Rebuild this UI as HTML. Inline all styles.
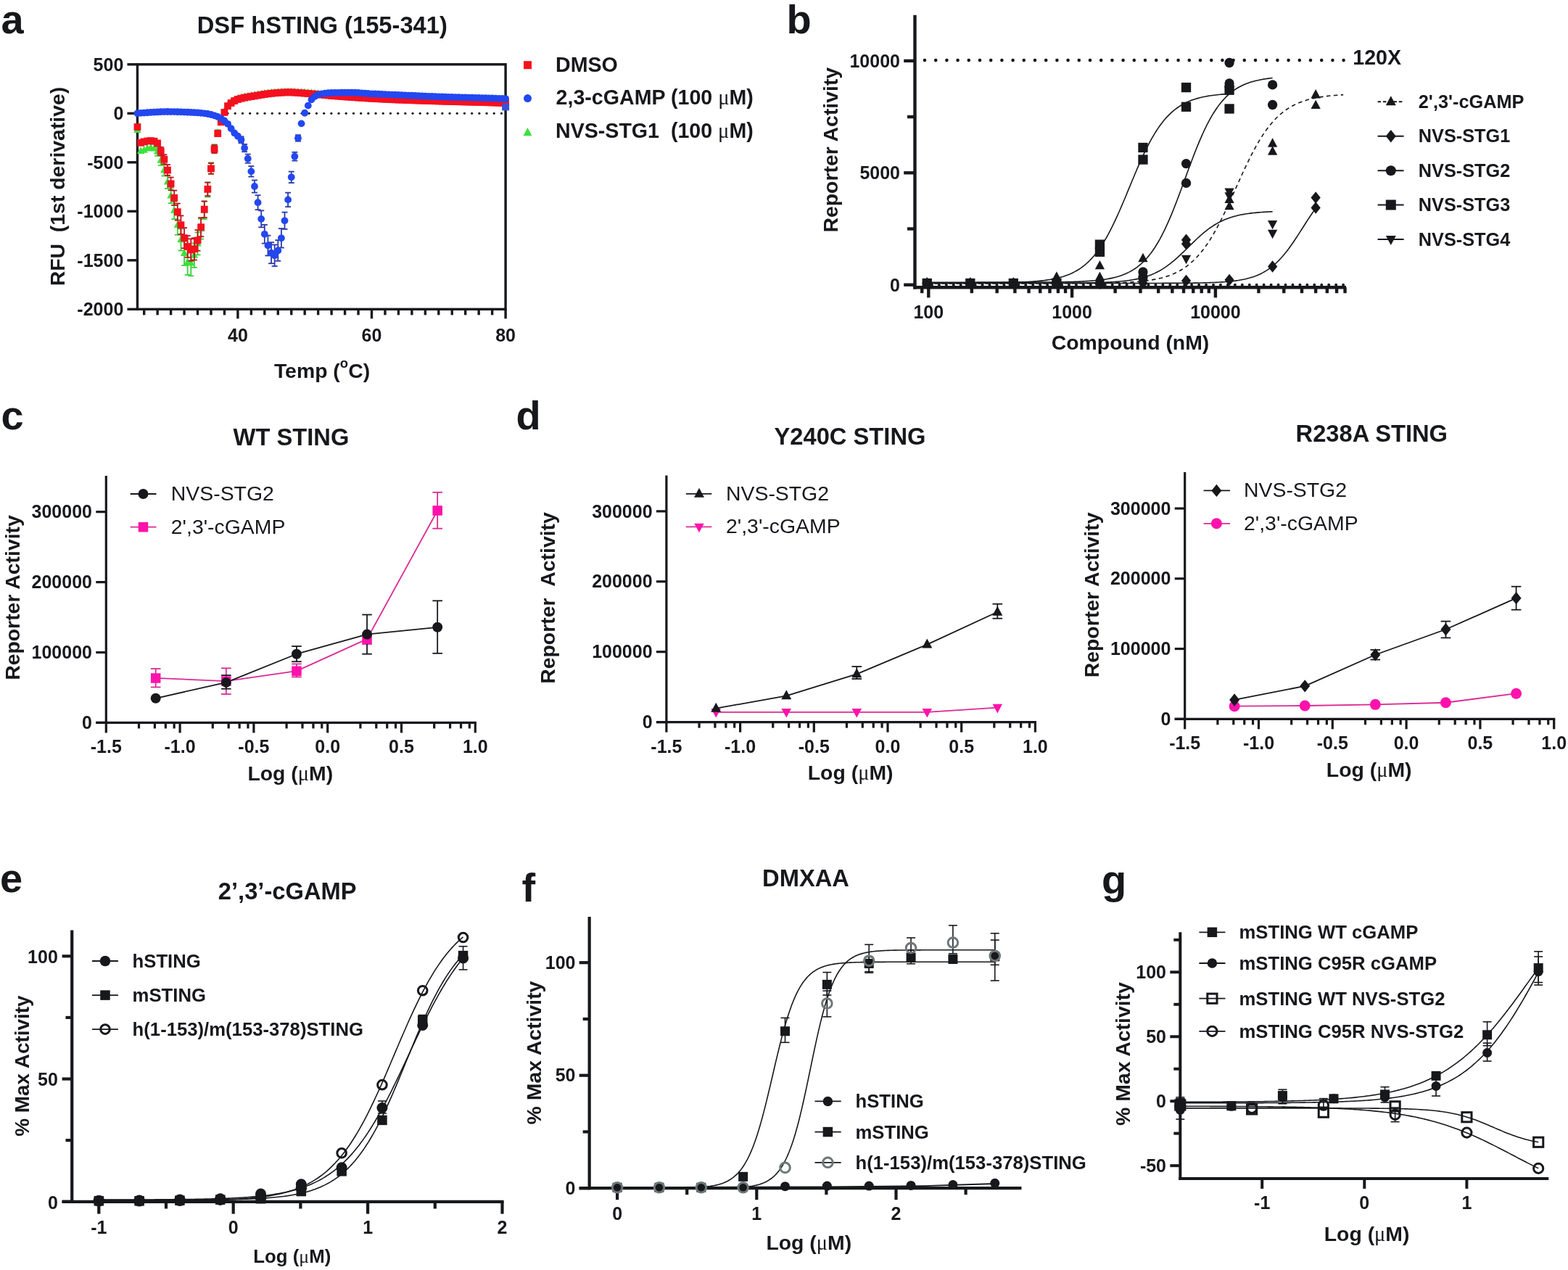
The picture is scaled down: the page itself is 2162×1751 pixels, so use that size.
<!DOCTYPE html>
<html><head><meta charset="utf-8"><title>Figure</title>
<style>html,body{margin:0;padding:0;background:#fff;}svg{display:block;}</style>
</head><body>
<svg width="2162" height="1751" viewBox="0 0 2162 1751" font-family="'Liberation Sans', Arial, Helvetica, sans-serif">
<rect width="2162" height="1751" fill="#fff"/>
<text x="1.5" y="45.5" font-size="56" font-weight="bold" text-anchor="start" fill="#17181c">a</text>
<text x="444.3" y="45.6" font-size="32.7" font-weight="bold" text-anchor="middle" fill="#17181c">DSF hSTING (155-341)</text>
<rect x="189.45" y="88.79" width="507.65" height="337.55" fill="none" stroke="#17181c" stroke-width="3.4"/>
<line x1="175.45" y1="88.79" x2="189.45" y2="88.79" stroke="#17181c" stroke-width="3.4" />
<text x="170.3" y="97.59" font-size="25" font-weight="bold" text-anchor="end" fill="#17181c">500</text>
<line x1="175.45" y1="156.3" x2="189.45" y2="156.3" stroke="#17181c" stroke-width="3.4" />
<text x="170.3" y="165.1" font-size="25" font-weight="bold" text-anchor="end" fill="#17181c">0</text>
<line x1="175.45" y1="223.81" x2="189.45" y2="223.81" stroke="#17181c" stroke-width="3.4" />
<text x="170.3" y="232.61" font-size="25" font-weight="bold" text-anchor="end" fill="#17181c">-500</text>
<line x1="175.45" y1="291.32" x2="189.45" y2="291.32" stroke="#17181c" stroke-width="3.4" />
<text x="170.3" y="300.12" font-size="25" font-weight="bold" text-anchor="end" fill="#17181c">-1000</text>
<line x1="175.45" y1="358.83" x2="189.45" y2="358.83" stroke="#17181c" stroke-width="3.4" />
<text x="170.3" y="367.63" font-size="25" font-weight="bold" text-anchor="end" fill="#17181c">-1500</text>
<line x1="175.45" y1="426.34" x2="189.45" y2="426.34" stroke="#17181c" stroke-width="3.4" />
<text x="170.3" y="435.14" font-size="25" font-weight="bold" text-anchor="end" fill="#17181c">-2000</text>
<line x1="198.68" y1="426.34" x2="198.68" y2="434.34" stroke="#17181c" stroke-width="3.4" />
<line x1="217.14" y1="426.34" x2="217.14" y2="434.34" stroke="#17181c" stroke-width="3.4" />
<line x1="235.6" y1="426.34" x2="235.6" y2="434.34" stroke="#17181c" stroke-width="3.4" />
<line x1="254.06" y1="426.34" x2="254.06" y2="434.34" stroke="#17181c" stroke-width="3.4" />
<line x1="272.52" y1="426.34" x2="272.52" y2="434.34" stroke="#17181c" stroke-width="3.4" />
<line x1="290.98" y1="426.34" x2="290.98" y2="434.34" stroke="#17181c" stroke-width="3.4" />
<line x1="309.44" y1="426.34" x2="309.44" y2="434.34" stroke="#17181c" stroke-width="3.4" />
<line x1="327.9" y1="426.34" x2="327.9" y2="439.34" stroke="#17181c" stroke-width="3.4" />
<line x1="346.36" y1="426.34" x2="346.36" y2="434.34" stroke="#17181c" stroke-width="3.4" />
<line x1="364.82" y1="426.34" x2="364.82" y2="434.34" stroke="#17181c" stroke-width="3.4" />
<line x1="383.28" y1="426.34" x2="383.28" y2="434.34" stroke="#17181c" stroke-width="3.4" />
<line x1="401.74" y1="426.34" x2="401.74" y2="434.34" stroke="#17181c" stroke-width="3.4" />
<line x1="420.2" y1="426.34" x2="420.2" y2="434.34" stroke="#17181c" stroke-width="3.4" />
<line x1="438.66" y1="426.34" x2="438.66" y2="434.34" stroke="#17181c" stroke-width="3.4" />
<line x1="457.12" y1="426.34" x2="457.12" y2="434.34" stroke="#17181c" stroke-width="3.4" />
<line x1="475.58" y1="426.34" x2="475.58" y2="434.34" stroke="#17181c" stroke-width="3.4" />
<line x1="494.04" y1="426.34" x2="494.04" y2="434.34" stroke="#17181c" stroke-width="3.4" />
<line x1="512.5" y1="426.34" x2="512.5" y2="439.34" stroke="#17181c" stroke-width="3.4" />
<line x1="530.96" y1="426.34" x2="530.96" y2="434.34" stroke="#17181c" stroke-width="3.4" />
<line x1="549.42" y1="426.34" x2="549.42" y2="434.34" stroke="#17181c" stroke-width="3.4" />
<line x1="567.88" y1="426.34" x2="567.88" y2="434.34" stroke="#17181c" stroke-width="3.4" />
<line x1="586.34" y1="426.34" x2="586.34" y2="434.34" stroke="#17181c" stroke-width="3.4" />
<line x1="604.8" y1="426.34" x2="604.8" y2="434.34" stroke="#17181c" stroke-width="3.4" />
<line x1="623.26" y1="426.34" x2="623.26" y2="434.34" stroke="#17181c" stroke-width="3.4" />
<line x1="641.72" y1="426.34" x2="641.72" y2="434.34" stroke="#17181c" stroke-width="3.4" />
<line x1="660.18" y1="426.34" x2="660.18" y2="434.34" stroke="#17181c" stroke-width="3.4" />
<line x1="678.64" y1="426.34" x2="678.64" y2="434.34" stroke="#17181c" stroke-width="3.4" />
<line x1="697.1" y1="426.34" x2="697.1" y2="439.34" stroke="#17181c" stroke-width="3.4" />
<text x="327.9" y="470.8" font-size="25" font-weight="bold" text-anchor="middle" fill="#17181c">40</text>
<text x="512.5" y="470.8" font-size="25" font-weight="bold" text-anchor="middle" fill="#17181c">60</text>
<text x="697.1" y="470.8" font-size="25" font-weight="bold" text-anchor="middle" fill="#17181c">80</text>
<text x="444" y="521" font-size="28.4" font-weight="bold" text-anchor="middle" fill="#17181c">Temp (<tspan dy="-14.5" font-size="18.5">o</tspan><tspan dy="14.5">C)</tspan></text>
<text x="89.4" y="257" font-size="28.4" font-weight="bold" text-anchor="middle" fill="#17181c" transform="rotate(-90 89.4 257)">RFU&#160;&#160;(1st derivative)</text>
<circle cx="314.05" cy="156.3" r="1.6" fill="#17181c"/>
<circle cx="324.25" cy="156.3" r="1.6" fill="#17181c"/>
<circle cx="334.45" cy="156.3" r="1.6" fill="#17181c"/>
<circle cx="344.65" cy="156.3" r="1.6" fill="#17181c"/>
<circle cx="354.85" cy="156.3" r="1.6" fill="#17181c"/>
<circle cx="365.05" cy="156.3" r="1.6" fill="#17181c"/>
<circle cx="375.25" cy="156.3" r="1.6" fill="#17181c"/>
<circle cx="385.45" cy="156.3" r="1.6" fill="#17181c"/>
<circle cx="395.65" cy="156.3" r="1.6" fill="#17181c"/>
<circle cx="405.85" cy="156.3" r="1.6" fill="#17181c"/>
<circle cx="416.05" cy="156.3" r="1.6" fill="#17181c"/>
<circle cx="426.25" cy="156.3" r="1.6" fill="#17181c"/>
<circle cx="436.45" cy="156.3" r="1.6" fill="#17181c"/>
<circle cx="446.65" cy="156.3" r="1.6" fill="#17181c"/>
<circle cx="456.85" cy="156.3" r="1.6" fill="#17181c"/>
<circle cx="467.05" cy="156.3" r="1.6" fill="#17181c"/>
<circle cx="477.25" cy="156.3" r="1.6" fill="#17181c"/>
<circle cx="487.45" cy="156.3" r="1.6" fill="#17181c"/>
<circle cx="497.65" cy="156.3" r="1.6" fill="#17181c"/>
<circle cx="507.85" cy="156.3" r="1.6" fill="#17181c"/>
<circle cx="518.05" cy="156.3" r="1.6" fill="#17181c"/>
<circle cx="528.25" cy="156.3" r="1.6" fill="#17181c"/>
<circle cx="538.45" cy="156.3" r="1.6" fill="#17181c"/>
<circle cx="548.65" cy="156.3" r="1.6" fill="#17181c"/>
<circle cx="558.85" cy="156.3" r="1.6" fill="#17181c"/>
<circle cx="569.05" cy="156.3" r="1.6" fill="#17181c"/>
<circle cx="579.25" cy="156.3" r="1.6" fill="#17181c"/>
<circle cx="589.45" cy="156.3" r="1.6" fill="#17181c"/>
<circle cx="599.65" cy="156.3" r="1.6" fill="#17181c"/>
<circle cx="609.85" cy="156.3" r="1.6" fill="#17181c"/>
<circle cx="620.05" cy="156.3" r="1.6" fill="#17181c"/>
<circle cx="630.25" cy="156.3" r="1.6" fill="#17181c"/>
<circle cx="640.45" cy="156.3" r="1.6" fill="#17181c"/>
<circle cx="650.65" cy="156.3" r="1.6" fill="#17181c"/>
<circle cx="660.85" cy="156.3" r="1.6" fill="#17181c"/>
<circle cx="671.05" cy="156.3" r="1.6" fill="#17181c"/>
<circle cx="681.25" cy="156.3" r="1.6" fill="#17181c"/>
<circle cx="691.45" cy="156.3" r="1.6" fill="#17181c"/>
<line x1="217.14" y1="202.98" x2="217.14" y2="214.93" stroke="#3bd03b" stroke-width="1.8" />
<line x1="213.14" y1="202.98" x2="221.14" y2="202.98" stroke="#3bd03b" stroke-width="1.8" />
<line x1="213.14" y1="214.93" x2="221.14" y2="214.93" stroke="#3bd03b" stroke-width="1.8" />
<line x1="221.75" y1="214.22" x2="221.75" y2="228" stroke="#3bd03b" stroke-width="1.8" />
<line x1="217.75" y1="214.22" x2="225.75" y2="214.22" stroke="#3bd03b" stroke-width="1.8" />
<line x1="217.75" y1="228" x2="225.75" y2="228" stroke="#3bd03b" stroke-width="1.8" />
<line x1="226.37" y1="226.71" x2="226.37" y2="242.51" stroke="#3bd03b" stroke-width="1.8" />
<line x1="222.37" y1="226.71" x2="230.37" y2="226.71" stroke="#3bd03b" stroke-width="1.8" />
<line x1="222.37" y1="242.51" x2="230.37" y2="242.51" stroke="#3bd03b" stroke-width="1.8" />
<line x1="230.98" y1="241.7" x2="230.98" y2="259.93" stroke="#3bd03b" stroke-width="1.8" />
<line x1="226.98" y1="241.7" x2="234.98" y2="241.7" stroke="#3bd03b" stroke-width="1.8" />
<line x1="226.98" y1="259.93" x2="234.98" y2="259.93" stroke="#3bd03b" stroke-width="1.8" />
<line x1="235.6" y1="259.19" x2="235.6" y2="280.25" stroke="#3bd03b" stroke-width="1.8" />
<line x1="231.6" y1="259.19" x2="239.6" y2="259.19" stroke="#3bd03b" stroke-width="1.8" />
<line x1="231.6" y1="280.25" x2="239.6" y2="280.25" stroke="#3bd03b" stroke-width="1.8" />
<line x1="240.21" y1="277.92" x2="240.21" y2="302.02" stroke="#3bd03b" stroke-width="1.8" />
<line x1="236.21" y1="277.92" x2="244.21" y2="277.92" stroke="#3bd03b" stroke-width="1.8" />
<line x1="236.21" y1="302.02" x2="244.21" y2="302.02" stroke="#3bd03b" stroke-width="1.8" />
<line x1="244.83" y1="296.65" x2="244.83" y2="323.79" stroke="#3bd03b" stroke-width="1.8" />
<line x1="240.83" y1="296.65" x2="248.83" y2="296.65" stroke="#3bd03b" stroke-width="1.8" />
<line x1="240.83" y1="323.79" x2="248.83" y2="323.79" stroke="#3bd03b" stroke-width="1.8" />
<line x1="249.44" y1="315.39" x2="249.44" y2="345.56" stroke="#3bd03b" stroke-width="1.8" />
<line x1="245.44" y1="315.39" x2="253.44" y2="315.39" stroke="#3bd03b" stroke-width="1.8" />
<line x1="245.44" y1="345.56" x2="253.44" y2="345.56" stroke="#3bd03b" stroke-width="1.8" />
<line x1="254.06" y1="332.87" x2="254.06" y2="365.88" stroke="#3bd03b" stroke-width="1.8" />
<line x1="250.06" y1="332.87" x2="258.06" y2="332.87" stroke="#3bd03b" stroke-width="1.8" />
<line x1="250.06" y1="365.88" x2="258.06" y2="365.88" stroke="#3bd03b" stroke-width="1.8" />
<line x1="258.67" y1="344.11" x2="258.67" y2="378.95" stroke="#3bd03b" stroke-width="1.8" />
<line x1="254.67" y1="344.11" x2="262.67" y2="344.11" stroke="#3bd03b" stroke-width="1.8" />
<line x1="254.67" y1="378.95" x2="262.67" y2="378.95" stroke="#3bd03b" stroke-width="1.8" />
<line x1="263.29" y1="345.36" x2="263.29" y2="380.4" stroke="#3bd03b" stroke-width="1.8" />
<line x1="259.29" y1="345.36" x2="267.29" y2="345.36" stroke="#3bd03b" stroke-width="1.8" />
<line x1="259.29" y1="380.4" x2="267.29" y2="380.4" stroke="#3bd03b" stroke-width="1.8" />
<line x1="267.9" y1="335.37" x2="267.9" y2="368.79" stroke="#3bd03b" stroke-width="1.8" />
<line x1="263.9" y1="335.37" x2="271.9" y2="335.37" stroke="#3bd03b" stroke-width="1.8" />
<line x1="263.9" y1="368.79" x2="271.9" y2="368.79" stroke="#3bd03b" stroke-width="1.8" />
<line x1="272.52" y1="320.38" x2="272.52" y2="351.37" stroke="#3bd03b" stroke-width="1.8" />
<line x1="268.52" y1="320.38" x2="276.52" y2="320.38" stroke="#3bd03b" stroke-width="1.8" />
<line x1="268.52" y1="351.37" x2="276.52" y2="351.37" stroke="#3bd03b" stroke-width="1.8" />
<line x1="277.13" y1="301.65" x2="277.13" y2="329.6" stroke="#3bd03b" stroke-width="1.8" />
<line x1="273.13" y1="301.65" x2="281.13" y2="301.65" stroke="#3bd03b" stroke-width="1.8" />
<line x1="273.13" y1="329.6" x2="281.13" y2="329.6" stroke="#3bd03b" stroke-width="1.8" />
<line x1="281.75" y1="277.92" x2="281.75" y2="302.02" stroke="#3bd03b" stroke-width="1.8" />
<line x1="277.75" y1="277.92" x2="285.75" y2="277.92" stroke="#3bd03b" stroke-width="1.8" />
<line x1="277.75" y1="302.02" x2="285.75" y2="302.02" stroke="#3bd03b" stroke-width="1.8" />
<line x1="286.36" y1="251.69" x2="286.36" y2="271.54" stroke="#3bd03b" stroke-width="1.8" />
<line x1="282.36" y1="251.69" x2="290.36" y2="251.69" stroke="#3bd03b" stroke-width="1.8" />
<line x1="282.36" y1="271.54" x2="290.36" y2="271.54" stroke="#3bd03b" stroke-width="1.8" />
<line x1="290.98" y1="224.22" x2="290.98" y2="239.61" stroke="#3bd03b" stroke-width="1.8" />
<line x1="286.98" y1="224.22" x2="294.98" y2="224.22" stroke="#3bd03b" stroke-width="1.8" />
<line x1="286.98" y1="239.61" x2="294.98" y2="239.61" stroke="#3bd03b" stroke-width="1.8" />
<line x1="295.59" y1="199.24" x2="295.59" y2="210.58" stroke="#3bd03b" stroke-width="1.8" />
<line x1="291.59" y1="199.24" x2="299.59" y2="199.24" stroke="#3bd03b" stroke-width="1.8" />
<line x1="291.59" y1="210.58" x2="299.59" y2="210.58" stroke="#3bd03b" stroke-width="1.8" />
<line x1="300.21" y1="179.25" x2="300.21" y2="187.35" stroke="#3bd03b" stroke-width="1.8" />
<line x1="296.21" y1="179.25" x2="304.21" y2="179.25" stroke="#3bd03b" stroke-width="1.8" />
<line x1="296.21" y1="187.35" x2="304.21" y2="187.35" stroke="#3bd03b" stroke-width="1.8" />
<polygon points="189.45,173.2 194.7,182.96 184.2,182.96" fill="#3be23b"/>
<polygon points="194.06,202.23 199.31,211.99 188.81,211.99" fill="#3be23b"/>
<polygon points="198.68,200.88 203.93,210.64 193.43,210.64" fill="#3be23b"/>
<polygon points="203.29,198.85 208.54,208.62 198.04,208.62" fill="#3be23b"/>
<polygon points="207.91,197.77 213.16,207.54 202.66,207.54" fill="#3be23b"/>
<polygon points="212.52,198.85 217.77,208.62 207.27,208.62" fill="#3be23b"/>
<polygon points="217.14,202.9 222.39,212.67 211.89,212.67" fill="#3be23b"/>
<polygon points="221.75,215.06 227,224.82 216.5,224.82" fill="#3be23b"/>
<polygon points="226.37,228.56 231.62,238.32 221.12,238.32" fill="#3be23b"/>
<polygon points="230.98,244.76 236.23,254.52 225.73,254.52" fill="#3be23b"/>
<polygon points="235.6,263.66 240.85,273.43 230.35,273.43" fill="#3be23b"/>
<polygon points="240.21,283.92 245.46,293.68 234.96,293.68" fill="#3be23b"/>
<polygon points="244.83,304.17 250.08,313.93 239.58,313.93" fill="#3be23b"/>
<polygon points="249.44,324.42 254.69,334.19 244.19,334.19" fill="#3be23b"/>
<polygon points="254.06,343.32 259.31,353.09 248.81,353.09" fill="#3be23b"/>
<polygon points="258.67,355.48 263.92,365.24 253.42,365.24" fill="#3be23b"/>
<polygon points="263.29,356.83 268.54,366.59 258.04,366.59" fill="#3be23b"/>
<polygon points="267.9,346.02 273.15,355.79 262.65,355.79" fill="#3be23b"/>
<polygon points="272.52,329.82 277.77,339.59 267.27,339.59" fill="#3be23b"/>
<polygon points="277.13,309.57 282.38,319.33 271.88,319.33" fill="#3be23b"/>
<polygon points="281.75,283.92 287,293.68 276.5,293.68" fill="#3be23b"/>
<polygon points="286.36,255.56 291.61,265.33 281.11,265.33" fill="#3be23b"/>
<polygon points="290.98,225.86 296.23,235.62 285.73,235.62" fill="#3be23b"/>
<polygon points="295.59,198.85 300.84,208.62 290.34,208.62" fill="#3be23b"/>
<polygon points="300.21,177.25 305.46,187.01 294.96,187.01" fill="#3be23b"/>
<polygon points="304.82,161.05 310.07,170.81 299.57,170.81" fill="#3be23b"/>
<polygon points="309.44,147.55 314.69,157.31 304.19,157.31" fill="#3be23b"/>
<polygon points="314.05,138.77 319.3,148.53 308.8,148.53" fill="#3be23b"/>
<polygon points="318.67,134.72 323.92,144.48 313.42,144.48" fill="#3be23b"/>
<polygon points="323.28,131.95 328.53,141.71 318.03,141.71" fill="#3be23b"/>
<polygon points="327.9,129.99 333.15,139.76 322.65,139.76" fill="#3be23b"/>
<polygon points="332.51,128.68 337.76,138.45 327.26,138.45" fill="#3be23b"/>
<polygon points="337.13,127.61 342.38,137.38 331.88,137.38" fill="#3be23b"/>
<polygon points="341.75,126.71 347,136.48 336.5,136.48" fill="#3be23b"/>
<polygon points="346.36,125.92 351.61,135.68 341.11,135.68" fill="#3be23b"/>
<polygon points="350.97,125.17 356.22,134.93 345.72,134.93" fill="#3be23b"/>
<polygon points="355.59,124.4 360.84,134.16 350.34,134.16" fill="#3be23b"/>
<polygon points="360.2,123.63 365.45,133.39 354.95,133.39" fill="#3be23b"/>
<polygon points="364.82,122.9 370.07,132.67 359.57,132.67" fill="#3be23b"/>
<polygon points="369.44,122.27 374.69,132.03 364.19,132.03" fill="#3be23b"/>
<polygon points="374.05,121.77 379.3,131.54 368.8,131.54" fill="#3be23b"/>
<polygon points="378.66,121.42 383.91,131.19 373.41,131.19" fill="#3be23b"/>
<polygon points="383.28,121.1 388.53,130.87 378.03,130.87" fill="#3be23b"/>
<polygon points="387.89,120.83 393.14,130.6 382.64,130.6" fill="#3be23b"/>
<polygon points="392.51,120.64 397.76,130.4 387.26,130.4" fill="#3be23b"/>
<polygon points="397.12,120.54 402.38,130.31 391.88,130.31" fill="#3be23b"/>
<polygon points="401.74,120.59 406.99,130.36 396.49,130.36" fill="#3be23b"/>
<polygon points="406.35,120.76 411.6,130.53 401.1,130.53" fill="#3be23b"/>
<polygon points="410.97,121.02 416.22,130.79 405.72,130.79" fill="#3be23b"/>
<polygon points="415.58,121.32 420.83,131.09 410.33,131.09" fill="#3be23b"/>
<polygon points="420.2,121.62 425.45,131.39 414.95,131.39" fill="#3be23b"/>
<polygon points="424.81,121.93 430.06,131.7 419.56,131.7" fill="#3be23b"/>
<polygon points="429.43,122.29 434.68,132.06 424.18,132.06" fill="#3be23b"/>
<polygon points="434.04,122.69 439.29,132.46 428.79,132.46" fill="#3be23b"/>
<polygon points="438.66,123.13 443.91,132.89 433.41,132.89" fill="#3be23b"/>
<polygon points="443.27,123.57 448.52,133.34 438.02,133.34" fill="#3be23b"/>
<polygon points="447.89,124.03 453.14,133.79 442.64,133.79" fill="#3be23b"/>
<polygon points="452.5,124.48 457.75,134.24 447.25,134.24" fill="#3be23b"/>
<polygon points="457.12,124.91 462.37,134.67 451.87,134.67" fill="#3be23b"/>
<polygon points="461.74,125.31 466.99,135.07 456.49,135.07" fill="#3be23b"/>
<polygon points="466.35,125.67 471.6,135.44 461.1,135.44" fill="#3be23b"/>
<polygon points="470.96,126.01 476.21,135.77 465.71,135.77" fill="#3be23b"/>
<polygon points="475.58,126.34 480.83,136.1 470.33,136.1" fill="#3be23b"/>
<polygon points="480.19,126.66 485.44,136.42 474.94,136.42" fill="#3be23b"/>
<polygon points="484.81,126.97 490.06,136.74 479.56,136.74" fill="#3be23b"/>
<polygon points="489.42,127.28 494.67,137.05 484.17,137.05" fill="#3be23b"/>
<polygon points="494.04,127.59 499.29,137.35 488.79,137.35" fill="#3be23b"/>
<polygon points="498.65,127.88 503.9,137.64 493.4,137.64" fill="#3be23b"/>
<polygon points="503.27,128.17 508.52,137.93 498.02,137.93" fill="#3be23b"/>
<polygon points="507.88,128.45 513.13,138.21 502.63,138.21" fill="#3be23b"/>
<polygon points="512.5,128.72 517.75,138.48 507.25,138.48" fill="#3be23b"/>
<polygon points="517.12,128.98 522.37,138.75 511.87,138.75" fill="#3be23b"/>
<polygon points="521.73,129.24 526.98,139 516.48,139" fill="#3be23b"/>
<polygon points="526.35,129.48 531.6,139.25 521.1,139.25" fill="#3be23b"/>
<polygon points="530.96,129.72 536.21,139.48 525.71,139.48" fill="#3be23b"/>
<polygon points="535.58,129.95 540.83,139.71 530.33,139.71" fill="#3be23b"/>
<polygon points="540.19,130.17 545.44,139.93 534.94,139.93" fill="#3be23b"/>
<polygon points="544.8,130.38 550.05,140.15 539.55,140.15" fill="#3be23b"/>
<polygon points="549.42,130.59 554.67,140.36 544.17,140.36" fill="#3be23b"/>
<polygon points="554.03,130.79 559.28,140.56 548.78,140.56" fill="#3be23b"/>
<polygon points="558.65,130.99 563.9,140.76 553.4,140.76" fill="#3be23b"/>
<polygon points="563.26,131.18 568.51,140.95 558.01,140.95" fill="#3be23b"/>
<polygon points="567.88,131.37 573.13,141.14 562.63,141.14" fill="#3be23b"/>
<polygon points="572.5,131.55 577.75,141.32 567.25,141.32" fill="#3be23b"/>
<polygon points="577.11,131.73 582.36,141.5 571.86,141.5" fill="#3be23b"/>
<polygon points="581.73,131.9 586.98,141.67 576.48,141.67" fill="#3be23b"/>
<polygon points="586.34,132.07 591.59,141.83 581.09,141.83" fill="#3be23b"/>
<polygon points="590.95,132.23 596.2,142 585.7,142" fill="#3be23b"/>
<polygon points="595.57,132.39 600.82,142.15 590.32,142.15" fill="#3be23b"/>
<polygon points="600.18,132.54 605.43,142.31 594.93,142.31" fill="#3be23b"/>
<polygon points="604.8,132.69 610.05,142.46 599.55,142.46" fill="#3be23b"/>
<polygon points="609.41,132.84 614.66,142.6 604.16,142.6" fill="#3be23b"/>
<polygon points="614.03,132.98 619.28,142.75 608.78,142.75" fill="#3be23b"/>
<polygon points="618.64,133.13 623.89,142.89 613.39,142.89" fill="#3be23b"/>
<polygon points="623.26,133.27 628.51,143.03 618.01,143.03" fill="#3be23b"/>
<polygon points="627.88,133.41 633.12,143.17 622.62,143.17" fill="#3be23b"/>
<polygon points="632.49,133.54 637.74,143.31 627.24,143.31" fill="#3be23b"/>
<polygon points="637.11,133.68 642.36,143.44 631.86,143.44" fill="#3be23b"/>
<polygon points="641.72,133.81 646.97,143.57 636.47,143.57" fill="#3be23b"/>
<polygon points="646.34,133.94 651.59,143.7 641.09,143.7" fill="#3be23b"/>
<polygon points="650.95,134.06 656.2,143.83 645.7,143.83" fill="#3be23b"/>
<polygon points="655.57,134.18 660.82,143.95 650.32,143.95" fill="#3be23b"/>
<polygon points="660.18,134.3 665.43,144.07 654.93,144.07" fill="#3be23b"/>
<polygon points="664.8,134.42 670.05,144.18 659.55,144.18" fill="#3be23b"/>
<polygon points="669.41,134.53 674.66,144.29 664.16,144.29" fill="#3be23b"/>
<polygon points="674.02,134.64 679.27,144.4 668.77,144.4" fill="#3be23b"/>
<polygon points="678.64,134.74 683.89,144.51 673.39,144.51" fill="#3be23b"/>
<polygon points="683.25,134.84 688.5,144.61 678,144.61" fill="#3be23b"/>
<polygon points="687.87,134.94 693.12,144.71 682.62,144.71" fill="#3be23b"/>
<polygon points="692.49,135.03 697.74,144.8 687.24,144.8" fill="#3be23b"/>
<polygon points="697.1,135.12 702.35,144.89 691.85,144.89" fill="#3be23b"/>
<line x1="221.75" y1="202.87" x2="221.75" y2="214.24" stroke="#b8141e" stroke-width="1.8" />
<line x1="217.75" y1="202.87" x2="225.75" y2="202.87" stroke="#b8141e" stroke-width="1.8" />
<line x1="217.75" y1="214.24" x2="225.75" y2="214.24" stroke="#b8141e" stroke-width="1.8" />
<line x1="226.37" y1="213.29" x2="226.37" y2="226.23" stroke="#b8141e" stroke-width="1.8" />
<line x1="222.37" y1="213.29" x2="230.37" y2="213.29" stroke="#b8141e" stroke-width="1.8" />
<line x1="222.37" y1="226.23" x2="230.37" y2="226.23" stroke="#b8141e" stroke-width="1.8" />
<line x1="230.98" y1="227.1" x2="230.98" y2="242.12" stroke="#b8141e" stroke-width="1.8" />
<line x1="226.98" y1="227.1" x2="234.98" y2="227.1" stroke="#b8141e" stroke-width="1.8" />
<line x1="226.98" y1="242.12" x2="234.98" y2="242.12" stroke="#b8141e" stroke-width="1.8" />
<line x1="235.6" y1="244.56" x2="235.6" y2="262.2" stroke="#b8141e" stroke-width="1.8" />
<line x1="231.6" y1="244.56" x2="239.6" y2="244.56" stroke="#b8141e" stroke-width="1.8" />
<line x1="231.6" y1="262.2" x2="239.6" y2="262.2" stroke="#b8141e" stroke-width="1.8" />
<line x1="240.21" y1="262.64" x2="240.21" y2="283" stroke="#b8141e" stroke-width="1.8" />
<line x1="236.21" y1="262.64" x2="244.21" y2="262.64" stroke="#b8141e" stroke-width="1.8" />
<line x1="236.21" y1="283" x2="244.21" y2="283" stroke="#b8141e" stroke-width="1.8" />
<line x1="244.83" y1="280.6" x2="244.83" y2="303.66" stroke="#b8141e" stroke-width="1.8" />
<line x1="240.83" y1="280.6" x2="248.83" y2="280.6" stroke="#b8141e" stroke-width="1.8" />
<line x1="240.83" y1="303.66" x2="248.83" y2="303.66" stroke="#b8141e" stroke-width="1.8" />
<line x1="249.44" y1="297.42" x2="249.44" y2="323.02" stroke="#b8141e" stroke-width="1.8" />
<line x1="245.44" y1="297.42" x2="253.44" y2="297.42" stroke="#b8141e" stroke-width="1.8" />
<line x1="245.44" y1="323.02" x2="253.44" y2="323.02" stroke="#b8141e" stroke-width="1.8" />
<line x1="254.06" y1="314.12" x2="254.06" y2="342.24" stroke="#b8141e" stroke-width="1.8" />
<line x1="250.06" y1="314.12" x2="258.06" y2="314.12" stroke="#b8141e" stroke-width="1.8" />
<line x1="250.06" y1="342.24" x2="258.06" y2="342.24" stroke="#b8141e" stroke-width="1.8" />
<line x1="258.67" y1="325.05" x2="258.67" y2="354.81" stroke="#b8141e" stroke-width="1.8" />
<line x1="254.67" y1="325.05" x2="262.67" y2="325.05" stroke="#b8141e" stroke-width="1.8" />
<line x1="254.67" y1="354.81" x2="262.67" y2="354.81" stroke="#b8141e" stroke-width="1.8" />
<line x1="263.29" y1="329.32" x2="263.29" y2="359.72" stroke="#b8141e" stroke-width="1.8" />
<line x1="259.29" y1="329.32" x2="267.29" y2="329.32" stroke="#b8141e" stroke-width="1.8" />
<line x1="259.29" y1="359.72" x2="267.29" y2="359.72" stroke="#b8141e" stroke-width="1.8" />
<line x1="267.9" y1="328.19" x2="267.9" y2="358.42" stroke="#b8141e" stroke-width="1.8" />
<line x1="263.9" y1="328.19" x2="271.9" y2="328.19" stroke="#b8141e" stroke-width="1.8" />
<line x1="263.9" y1="358.42" x2="271.9" y2="358.42" stroke="#b8141e" stroke-width="1.8" />
<line x1="272.52" y1="317.14" x2="272.52" y2="345.7" stroke="#b8141e" stroke-width="1.8" />
<line x1="268.52" y1="317.14" x2="276.52" y2="317.14" stroke="#b8141e" stroke-width="1.8" />
<line x1="268.52" y1="345.7" x2="276.52" y2="345.7" stroke="#b8141e" stroke-width="1.8" />
<line x1="277.13" y1="300.19" x2="277.13" y2="326.2" stroke="#b8141e" stroke-width="1.8" />
<line x1="273.13" y1="300.19" x2="281.13" y2="300.19" stroke="#b8141e" stroke-width="1.8" />
<line x1="273.13" y1="326.2" x2="281.13" y2="326.2" stroke="#b8141e" stroke-width="1.8" />
<line x1="281.75" y1="277.33" x2="281.75" y2="299.91" stroke="#b8141e" stroke-width="1.8" />
<line x1="277.75" y1="277.33" x2="285.75" y2="277.33" stroke="#b8141e" stroke-width="1.8" />
<line x1="277.75" y1="299.91" x2="285.75" y2="299.91" stroke="#b8141e" stroke-width="1.8" />
<line x1="286.36" y1="251.46" x2="286.36" y2="270.15" stroke="#b8141e" stroke-width="1.8" />
<line x1="282.36" y1="251.46" x2="290.36" y2="251.46" stroke="#b8141e" stroke-width="1.8" />
<line x1="282.36" y1="270.15" x2="290.36" y2="270.15" stroke="#b8141e" stroke-width="1.8" />
<line x1="290.98" y1="225.1" x2="290.98" y2="239.81" stroke="#b8141e" stroke-width="1.8" />
<line x1="286.98" y1="225.1" x2="294.98" y2="225.1" stroke="#b8141e" stroke-width="1.8" />
<line x1="286.98" y1="239.81" x2="294.98" y2="239.81" stroke="#b8141e" stroke-width="1.8" />
<line x1="295.59" y1="200.11" x2="295.59" y2="211.06" stroke="#b8141e" stroke-width="1.8" />
<line x1="291.59" y1="200.11" x2="299.59" y2="200.11" stroke="#b8141e" stroke-width="1.8" />
<line x1="291.59" y1="211.06" x2="299.59" y2="211.06" stroke="#b8141e" stroke-width="1.8" />
<line x1="300.21" y1="180.14" x2="300.21" y2="188.09" stroke="#b8141e" stroke-width="1.8" />
<line x1="296.21" y1="180.14" x2="304.21" y2="180.14" stroke="#b8141e" stroke-width="1.8" />
<line x1="296.21" y1="188.09" x2="304.21" y2="188.09" stroke="#b8141e" stroke-width="1.8" />
<rect x="184.55" y="170.17" width="9.8" height="9.8" fill="#f5101f"/>
<rect x="189.16" y="191.91" width="9.8" height="9.8" fill="#f5101f"/>
<rect x="193.78" y="190.56" width="9.8" height="9.8" fill="#f5101f"/>
<rect x="198.39" y="189.61" width="9.8" height="9.8" fill="#f5101f"/>
<rect x="203.01" y="189.21" width="9.8" height="9.8" fill="#f5101f"/>
<rect x="207.62" y="189.88" width="9.8" height="9.8" fill="#f5101f"/>
<rect x="212.24" y="192.58" width="9.8" height="9.8" fill="#f5101f"/>
<rect x="216.85" y="203.65" width="9.8" height="9.8" fill="#f5101f"/>
<rect x="221.47" y="214.86" width="9.8" height="9.8" fill="#f5101f"/>
<rect x="226.08" y="229.71" width="9.8" height="9.8" fill="#f5101f"/>
<rect x="230.7" y="248.48" width="9.8" height="9.8" fill="#f5101f"/>
<rect x="235.31" y="267.92" width="9.8" height="9.8" fill="#f5101f"/>
<rect x="239.93" y="287.23" width="9.8" height="9.8" fill="#f5101f"/>
<rect x="244.54" y="305.32" width="9.8" height="9.8" fill="#f5101f"/>
<rect x="249.16" y="323.28" width="9.8" height="9.8" fill="#f5101f"/>
<rect x="253.77" y="335.03" width="9.8" height="9.8" fill="#f5101f"/>
<rect x="258.39" y="339.62" width="9.8" height="9.8" fill="#f5101f"/>
<rect x="263" y="338.4" width="9.8" height="9.8" fill="#f5101f"/>
<rect x="267.62" y="326.52" width="9.8" height="9.8" fill="#f5101f"/>
<rect x="272.24" y="308.29" width="9.8" height="9.8" fill="#f5101f"/>
<rect x="276.85" y="283.72" width="9.8" height="9.8" fill="#f5101f"/>
<rect x="281.46" y="255.91" width="9.8" height="9.8" fill="#f5101f"/>
<rect x="286.08" y="227.55" width="9.8" height="9.8" fill="#f5101f"/>
<rect x="290.69" y="200.68" width="9.8" height="9.8" fill="#f5101f"/>
<rect x="295.31" y="179.21" width="9.8" height="9.8" fill="#f5101f"/>
<rect x="299.93" y="163.42" width="9.8" height="9.8" fill="#f5101f"/>
<rect x="304.54" y="150.05" width="9.8" height="9.8" fill="#f5101f"/>
<rect x="309.15" y="141.27" width="9.8" height="9.8" fill="#f5101f"/>
<rect x="313.77" y="137.09" width="9.8" height="9.8" fill="#f5101f"/>
<rect x="318.38" y="134.15" width="9.8" height="9.8" fill="#f5101f"/>
<rect x="323" y="132.09" width="9.8" height="9.8" fill="#f5101f"/>
<rect x="327.62" y="130.79" width="9.8" height="9.8" fill="#f5101f"/>
<rect x="332.23" y="129.76" width="9.8" height="9.8" fill="#f5101f"/>
<rect x="336.85" y="128.9" width="9.8" height="9.8" fill="#f5101f"/>
<rect x="341.46" y="128.14" width="9.8" height="9.8" fill="#f5101f"/>
<rect x="346.07" y="127.4" width="9.8" height="9.8" fill="#f5101f"/>
<rect x="350.69" y="126.63" width="9.8" height="9.8" fill="#f5101f"/>
<rect x="355.31" y="125.84" width="9.8" height="9.8" fill="#f5101f"/>
<rect x="359.92" y="125.1" width="9.8" height="9.8" fill="#f5101f"/>
<rect x="364.54" y="124.43" width="9.8" height="9.8" fill="#f5101f"/>
<rect x="369.15" y="123.89" width="9.8" height="9.8" fill="#f5101f"/>
<rect x="373.76" y="123.48" width="9.8" height="9.8" fill="#f5101f"/>
<rect x="378.38" y="123.09" width="9.8" height="9.8" fill="#f5101f"/>
<rect x="383" y="122.75" width="9.8" height="9.8" fill="#f5101f"/>
<rect x="387.61" y="122.49" width="9.8" height="9.8" fill="#f5101f"/>
<rect x="392.23" y="122.37" width="9.8" height="9.8" fill="#f5101f"/>
<rect x="396.84" y="122.43" width="9.8" height="9.8" fill="#f5101f"/>
<rect x="401.45" y="122.66" width="9.8" height="9.8" fill="#f5101f"/>
<rect x="406.07" y="122.99" width="9.8" height="9.8" fill="#f5101f"/>
<rect x="410.69" y="123.37" width="9.8" height="9.8" fill="#f5101f"/>
<rect x="415.3" y="123.72" width="9.8" height="9.8" fill="#f5101f"/>
<rect x="419.92" y="124.07" width="9.8" height="9.8" fill="#f5101f"/>
<rect x="424.53" y="124.45" width="9.8" height="9.8" fill="#f5101f"/>
<rect x="429.14" y="124.86" width="9.8" height="9.8" fill="#f5101f"/>
<rect x="433.76" y="125.29" width="9.8" height="9.8" fill="#f5101f"/>
<rect x="438.38" y="125.73" width="9.8" height="9.8" fill="#f5101f"/>
<rect x="442.99" y="126.17" width="9.8" height="9.8" fill="#f5101f"/>
<rect x="447.61" y="126.6" width="9.8" height="9.8" fill="#f5101f"/>
<rect x="452.22" y="127.02" width="9.8" height="9.8" fill="#f5101f"/>
<rect x="456.84" y="127.41" width="9.8" height="9.8" fill="#f5101f"/>
<rect x="461.45" y="127.77" width="9.8" height="9.8" fill="#f5101f"/>
<rect x="466.06" y="128.11" width="9.8" height="9.8" fill="#f5101f"/>
<rect x="470.68" y="128.44" width="9.8" height="9.8" fill="#f5101f"/>
<rect x="475.3" y="128.76" width="9.8" height="9.8" fill="#f5101f"/>
<rect x="479.91" y="129.08" width="9.8" height="9.8" fill="#f5101f"/>
<rect x="484.52" y="129.4" width="9.8" height="9.8" fill="#f5101f"/>
<rect x="489.14" y="129.7" width="9.8" height="9.8" fill="#f5101f"/>
<rect x="493.75" y="130" width="9.8" height="9.8" fill="#f5101f"/>
<rect x="498.37" y="130.29" width="9.8" height="9.8" fill="#f5101f"/>
<rect x="502.99" y="130.58" width="9.8" height="9.8" fill="#f5101f"/>
<rect x="507.6" y="130.85" width="9.8" height="9.8" fill="#f5101f"/>
<rect x="512.22" y="131.11" width="9.8" height="9.8" fill="#f5101f"/>
<rect x="516.83" y="131.36" width="9.8" height="9.8" fill="#f5101f"/>
<rect x="521.45" y="131.6" width="9.8" height="9.8" fill="#f5101f"/>
<rect x="526.06" y="131.83" width="9.8" height="9.8" fill="#f5101f"/>
<rect x="530.68" y="132.05" width="9.8" height="9.8" fill="#f5101f"/>
<rect x="535.29" y="132.26" width="9.8" height="9.8" fill="#f5101f"/>
<rect x="539.9" y="132.45" width="9.8" height="9.8" fill="#f5101f"/>
<rect x="544.52" y="132.64" width="9.8" height="9.8" fill="#f5101f"/>
<rect x="549.13" y="132.82" width="9.8" height="9.8" fill="#f5101f"/>
<rect x="553.75" y="133" width="9.8" height="9.8" fill="#f5101f"/>
<rect x="558.37" y="133.16" width="9.8" height="9.8" fill="#f5101f"/>
<rect x="562.98" y="133.33" width="9.8" height="9.8" fill="#f5101f"/>
<rect x="567.6" y="133.48" width="9.8" height="9.8" fill="#f5101f"/>
<rect x="572.21" y="133.64" width="9.8" height="9.8" fill="#f5101f"/>
<rect x="576.83" y="133.79" width="9.8" height="9.8" fill="#f5101f"/>
<rect x="581.44" y="133.94" width="9.8" height="9.8" fill="#f5101f"/>
<rect x="586.05" y="134.09" width="9.8" height="9.8" fill="#f5101f"/>
<rect x="590.67" y="134.23" width="9.8" height="9.8" fill="#f5101f"/>
<rect x="595.28" y="134.38" width="9.8" height="9.8" fill="#f5101f"/>
<rect x="599.9" y="134.52" width="9.8" height="9.8" fill="#f5101f"/>
<rect x="604.51" y="134.67" width="9.8" height="9.8" fill="#f5101f"/>
<rect x="609.13" y="134.8" width="9.8" height="9.8" fill="#f5101f"/>
<rect x="613.75" y="134.93" width="9.8" height="9.8" fill="#f5101f"/>
<rect x="618.36" y="135.06" width="9.8" height="9.8" fill="#f5101f"/>
<rect x="622.98" y="135.18" width="9.8" height="9.8" fill="#f5101f"/>
<rect x="627.59" y="135.3" width="9.8" height="9.8" fill="#f5101f"/>
<rect x="632.21" y="135.42" width="9.8" height="9.8" fill="#f5101f"/>
<rect x="636.82" y="135.54" width="9.8" height="9.8" fill="#f5101f"/>
<rect x="641.44" y="135.66" width="9.8" height="9.8" fill="#f5101f"/>
<rect x="646.05" y="135.78" width="9.8" height="9.8" fill="#f5101f"/>
<rect x="650.67" y="135.9" width="9.8" height="9.8" fill="#f5101f"/>
<rect x="655.28" y="136.02" width="9.8" height="9.8" fill="#f5101f"/>
<rect x="659.9" y="136.15" width="9.8" height="9.8" fill="#f5101f"/>
<rect x="664.51" y="136.28" width="9.8" height="9.8" fill="#f5101f"/>
<rect x="669.12" y="136.41" width="9.8" height="9.8" fill="#f5101f"/>
<rect x="673.74" y="136.55" width="9.8" height="9.8" fill="#f5101f"/>
<rect x="678.36" y="136.7" width="9.8" height="9.8" fill="#f5101f"/>
<rect x="682.97" y="136.86" width="9.8" height="9.8" fill="#f5101f"/>
<rect x="687.59" y="137.02" width="9.8" height="9.8" fill="#f5101f"/>
<rect x="692.2" y="137.22" width="9.8" height="9.8" fill="#f5101f"/>
<line x1="332.51" y1="188.36" x2="332.51" y2="197.15" stroke="#2a3aa8" stroke-width="1.8" />
<line x1="328.51" y1="188.36" x2="336.51" y2="188.36" stroke="#2a3aa8" stroke-width="1.8" />
<line x1="328.51" y1="197.15" x2="336.51" y2="197.15" stroke="#2a3aa8" stroke-width="1.8" />
<line x1="337.13" y1="198.96" x2="337.13" y2="209.23" stroke="#2a3aa8" stroke-width="1.8" />
<line x1="333.13" y1="198.96" x2="341.13" y2="198.96" stroke="#2a3aa8" stroke-width="1.8" />
<line x1="333.13" y1="209.23" x2="341.13" y2="209.23" stroke="#2a3aa8" stroke-width="1.8" />
<line x1="341.75" y1="212.6" x2="341.75" y2="224.76" stroke="#2a3aa8" stroke-width="1.8" />
<line x1="337.75" y1="212.6" x2="345.75" y2="212.6" stroke="#2a3aa8" stroke-width="1.8" />
<line x1="337.75" y1="224.76" x2="345.75" y2="224.76" stroke="#2a3aa8" stroke-width="1.8" />
<line x1="346.36" y1="229.14" x2="346.36" y2="243.6" stroke="#2a3aa8" stroke-width="1.8" />
<line x1="342.36" y1="229.14" x2="350.36" y2="229.14" stroke="#2a3aa8" stroke-width="1.8" />
<line x1="342.36" y1="243.6" x2="350.36" y2="243.6" stroke="#2a3aa8" stroke-width="1.8" />
<line x1="350.97" y1="248.45" x2="350.97" y2="265.6" stroke="#2a3aa8" stroke-width="1.8" />
<line x1="346.97" y1="248.45" x2="354.97" y2="248.45" stroke="#2a3aa8" stroke-width="1.8" />
<line x1="346.97" y1="265.6" x2="354.97" y2="265.6" stroke="#2a3aa8" stroke-width="1.8" />
<line x1="355.59" y1="269.16" x2="355.59" y2="289.18" stroke="#2a3aa8" stroke-width="1.8" />
<line x1="351.59" y1="269.16" x2="359.59" y2="269.16" stroke="#2a3aa8" stroke-width="1.8" />
<line x1="351.59" y1="289.18" x2="359.59" y2="289.18" stroke="#2a3aa8" stroke-width="1.8" />
<line x1="360.2" y1="290.37" x2="360.2" y2="313.34" stroke="#2a3aa8" stroke-width="1.8" />
<line x1="356.2" y1="290.37" x2="364.2" y2="290.37" stroke="#2a3aa8" stroke-width="1.8" />
<line x1="356.2" y1="313.34" x2="364.2" y2="313.34" stroke="#2a3aa8" stroke-width="1.8" />
<line x1="364.82" y1="309.93" x2="364.82" y2="335.63" stroke="#2a3aa8" stroke-width="1.8" />
<line x1="360.82" y1="309.93" x2="368.82" y2="309.93" stroke="#2a3aa8" stroke-width="1.8" />
<line x1="360.82" y1="335.63" x2="368.82" y2="335.63" stroke="#2a3aa8" stroke-width="1.8" />
<line x1="369.44" y1="324.7" x2="369.44" y2="352.45" stroke="#2a3aa8" stroke-width="1.8" />
<line x1="365.44" y1="324.7" x2="373.44" y2="324.7" stroke="#2a3aa8" stroke-width="1.8" />
<line x1="365.44" y1="352.45" x2="373.44" y2="352.45" stroke="#2a3aa8" stroke-width="1.8" />
<line x1="374.05" y1="334.17" x2="374.05" y2="363.24" stroke="#2a3aa8" stroke-width="1.8" />
<line x1="370.05" y1="334.17" x2="378.05" y2="334.17" stroke="#2a3aa8" stroke-width="1.8" />
<line x1="370.05" y1="363.24" x2="378.05" y2="363.24" stroke="#2a3aa8" stroke-width="1.8" />
<line x1="378.66" y1="337.45" x2="378.66" y2="366.97" stroke="#2a3aa8" stroke-width="1.8" />
<line x1="374.66" y1="337.45" x2="382.66" y2="337.45" stroke="#2a3aa8" stroke-width="1.8" />
<line x1="374.66" y1="366.97" x2="382.66" y2="366.97" stroke="#2a3aa8" stroke-width="1.8" />
<line x1="383.28" y1="331.14" x2="383.28" y2="359.78" stroke="#2a3aa8" stroke-width="1.8" />
<line x1="379.28" y1="331.14" x2="387.28" y2="331.14" stroke="#2a3aa8" stroke-width="1.8" />
<line x1="379.28" y1="359.78" x2="387.28" y2="359.78" stroke="#2a3aa8" stroke-width="1.8" />
<line x1="387.89" y1="315.11" x2="387.89" y2="341.52" stroke="#2a3aa8" stroke-width="1.8" />
<line x1="383.89" y1="315.11" x2="391.89" y2="315.11" stroke="#2a3aa8" stroke-width="1.8" />
<line x1="383.89" y1="341.52" x2="391.89" y2="341.52" stroke="#2a3aa8" stroke-width="1.8" />
<line x1="392.51" y1="292.64" x2="392.51" y2="315.93" stroke="#2a3aa8" stroke-width="1.8" />
<line x1="388.51" y1="292.64" x2="396.51" y2="292.64" stroke="#2a3aa8" stroke-width="1.8" />
<line x1="388.51" y1="315.93" x2="396.51" y2="315.93" stroke="#2a3aa8" stroke-width="1.8" />
<line x1="397.12" y1="265.62" x2="397.12" y2="285.15" stroke="#2a3aa8" stroke-width="1.8" />
<line x1="393.12" y1="265.62" x2="401.12" y2="265.62" stroke="#2a3aa8" stroke-width="1.8" />
<line x1="393.12" y1="285.15" x2="401.12" y2="285.15" stroke="#2a3aa8" stroke-width="1.8" />
<line x1="401.74" y1="236.59" x2="401.74" y2="252.08" stroke="#2a3aa8" stroke-width="1.8" />
<line x1="397.74" y1="236.59" x2="405.74" y2="236.59" stroke="#2a3aa8" stroke-width="1.8" />
<line x1="397.74" y1="252.08" x2="405.74" y2="252.08" stroke="#2a3aa8" stroke-width="1.8" />
<line x1="406.35" y1="209.82" x2="406.35" y2="221.6" stroke="#2a3aa8" stroke-width="1.8" />
<line x1="402.35" y1="209.82" x2="410.35" y2="209.82" stroke="#2a3aa8" stroke-width="1.8" />
<line x1="402.35" y1="221.6" x2="410.35" y2="221.6" stroke="#2a3aa8" stroke-width="1.8" />
<line x1="410.97" y1="186.21" x2="410.97" y2="194.71" stroke="#2a3aa8" stroke-width="1.8" />
<line x1="406.97" y1="186.21" x2="414.97" y2="186.21" stroke="#2a3aa8" stroke-width="1.8" />
<line x1="406.97" y1="194.71" x2="414.97" y2="194.71" stroke="#2a3aa8" stroke-width="1.8" />
<circle cx="189.45" cy="156.3" r="4.9" fill="#2347f0"/>
<circle cx="194.06" cy="155.91" r="4.9" fill="#2347f0"/>
<circle cx="198.68" cy="155.55" r="4.9" fill="#2347f0"/>
<circle cx="203.29" cy="155.23" r="4.9" fill="#2347f0"/>
<circle cx="207.91" cy="154.95" r="4.9" fill="#2347f0"/>
<circle cx="212.52" cy="154.69" r="4.9" fill="#2347f0"/>
<circle cx="217.14" cy="154.42" r="4.9" fill="#2347f0"/>
<circle cx="221.75" cy="154.2" r="4.9" fill="#2347f0"/>
<circle cx="226.37" cy="154.05" r="4.9" fill="#2347f0"/>
<circle cx="230.98" cy="154.01" r="4.9" fill="#2347f0"/>
<circle cx="235.6" cy="154.04" r="4.9" fill="#2347f0"/>
<circle cx="240.21" cy="154.12" r="4.9" fill="#2347f0"/>
<circle cx="244.83" cy="154.24" r="4.9" fill="#2347f0"/>
<circle cx="249.44" cy="154.39" r="4.9" fill="#2347f0"/>
<circle cx="254.06" cy="154.57" r="4.9" fill="#2347f0"/>
<circle cx="258.67" cy="154.75" r="4.9" fill="#2347f0"/>
<circle cx="263.29" cy="154.95" r="4.9" fill="#2347f0"/>
<circle cx="267.9" cy="155.17" r="4.9" fill="#2347f0"/>
<circle cx="272.52" cy="155.46" r="4.9" fill="#2347f0"/>
<circle cx="277.13" cy="155.83" r="4.9" fill="#2347f0"/>
<circle cx="281.75" cy="156.3" r="4.9" fill="#2347f0"/>
<circle cx="286.36" cy="156.99" r="4.9" fill="#2347f0"/>
<circle cx="290.98" cy="158" r="4.9" fill="#2347f0"/>
<circle cx="295.59" cy="159.31" r="4.9" fill="#2347f0"/>
<circle cx="300.21" cy="160.92" r="4.9" fill="#2347f0"/>
<circle cx="304.82" cy="163.3" r="4.9" fill="#2347f0"/>
<circle cx="309.44" cy="166.45" r="4.9" fill="#2347f0"/>
<circle cx="314.05" cy="170.8" r="4.9" fill="#2347f0"/>
<circle cx="318.67" cy="177.24" r="4.9" fill="#2347f0"/>
<circle cx="323.28" cy="183.44" r="4.9" fill="#2347f0"/>
<circle cx="327.9" cy="187.67" r="4.9" fill="#2347f0"/>
<circle cx="332.51" cy="192.76" r="4.9" fill="#2347f0"/>
<circle cx="337.13" cy="204.1" r="4.9" fill="#2347f0"/>
<circle cx="341.75" cy="218.68" r="4.9" fill="#2347f0"/>
<circle cx="346.36" cy="236.37" r="4.9" fill="#2347f0"/>
<circle cx="350.97" cy="257.02" r="4.9" fill="#2347f0"/>
<circle cx="355.59" cy="279.17" r="4.9" fill="#2347f0"/>
<circle cx="360.2" cy="301.85" r="4.9" fill="#2347f0"/>
<circle cx="364.82" cy="322.78" r="4.9" fill="#2347f0"/>
<circle cx="369.44" cy="338.58" r="4.9" fill="#2347f0"/>
<circle cx="374.05" cy="348.7" r="4.9" fill="#2347f0"/>
<circle cx="378.66" cy="352.21" r="4.9" fill="#2347f0"/>
<circle cx="383.28" cy="345.46" r="4.9" fill="#2347f0"/>
<circle cx="387.89" cy="328.32" r="4.9" fill="#2347f0"/>
<circle cx="392.51" cy="304.28" r="4.9" fill="#2347f0"/>
<circle cx="397.12" cy="275.39" r="4.9" fill="#2347f0"/>
<circle cx="401.74" cy="244.33" r="4.9" fill="#2347f0"/>
<circle cx="406.35" cy="215.71" r="4.9" fill="#2347f0"/>
<circle cx="410.97" cy="190.46" r="4.9" fill="#2347f0"/>
<circle cx="415.58" cy="170.34" r="4.9" fill="#2347f0"/>
<circle cx="420.2" cy="155.76" r="4.9" fill="#2347f0"/>
<circle cx="424.81" cy="145.63" r="4.9" fill="#2347f0"/>
<circle cx="429.43" cy="137.4" r="4.9" fill="#2347f0"/>
<circle cx="434.04" cy="133.07" r="4.9" fill="#2347f0"/>
<circle cx="438.66" cy="130.65" r="4.9" fill="#2347f0"/>
<circle cx="443.27" cy="129.56" r="4.9" fill="#2347f0"/>
<circle cx="447.89" cy="128.73" r="4.9" fill="#2347f0"/>
<circle cx="452.5" cy="128.19" r="4.9" fill="#2347f0"/>
<circle cx="457.12" cy="127.95" r="4.9" fill="#2347f0"/>
<circle cx="461.74" cy="127.86" r="4.9" fill="#2347f0"/>
<circle cx="466.35" cy="127.8" r="4.9" fill="#2347f0"/>
<circle cx="470.96" cy="127.74" r="4.9" fill="#2347f0"/>
<circle cx="475.58" cy="127.71" r="4.9" fill="#2347f0"/>
<circle cx="480.19" cy="127.68" r="4.9" fill="#2347f0"/>
<circle cx="484.81" cy="127.68" r="4.9" fill="#2347f0"/>
<circle cx="489.42" cy="127.76" r="4.9" fill="#2347f0"/>
<circle cx="494.04" cy="127.99" r="4.9" fill="#2347f0"/>
<circle cx="498.65" cy="128.31" r="4.9" fill="#2347f0"/>
<circle cx="503.27" cy="128.67" r="4.9" fill="#2347f0"/>
<circle cx="507.88" cy="129.01" r="4.9" fill="#2347f0"/>
<circle cx="512.5" cy="129.3" r="4.9" fill="#2347f0"/>
<circle cx="517.12" cy="129.52" r="4.9" fill="#2347f0"/>
<circle cx="521.73" cy="129.74" r="4.9" fill="#2347f0"/>
<circle cx="526.35" cy="129.95" r="4.9" fill="#2347f0"/>
<circle cx="530.96" cy="130.15" r="4.9" fill="#2347f0"/>
<circle cx="535.58" cy="130.35" r="4.9" fill="#2347f0"/>
<circle cx="540.19" cy="130.54" r="4.9" fill="#2347f0"/>
<circle cx="544.8" cy="130.73" r="4.9" fill="#2347f0"/>
<circle cx="549.42" cy="130.93" r="4.9" fill="#2347f0"/>
<circle cx="554.03" cy="131.12" r="4.9" fill="#2347f0"/>
<circle cx="558.65" cy="131.32" r="4.9" fill="#2347f0"/>
<circle cx="563.26" cy="131.53" r="4.9" fill="#2347f0"/>
<circle cx="567.88" cy="131.74" r="4.9" fill="#2347f0"/>
<circle cx="572.5" cy="131.95" r="4.9" fill="#2347f0"/>
<circle cx="577.11" cy="132.17" r="4.9" fill="#2347f0"/>
<circle cx="581.73" cy="132.38" r="4.9" fill="#2347f0"/>
<circle cx="586.34" cy="132.59" r="4.9" fill="#2347f0"/>
<circle cx="590.95" cy="132.8" r="4.9" fill="#2347f0"/>
<circle cx="595.57" cy="132.99" r="4.9" fill="#2347f0"/>
<circle cx="600.18" cy="133.18" r="4.9" fill="#2347f0"/>
<circle cx="604.8" cy="133.35" r="4.9" fill="#2347f0"/>
<circle cx="609.41" cy="133.5" r="4.9" fill="#2347f0"/>
<circle cx="614.03" cy="133.65" r="4.9" fill="#2347f0"/>
<circle cx="618.64" cy="133.79" r="4.9" fill="#2347f0"/>
<circle cx="623.26" cy="133.93" r="4.9" fill="#2347f0"/>
<circle cx="627.88" cy="134.06" r="4.9" fill="#2347f0"/>
<circle cx="632.49" cy="134.18" r="4.9" fill="#2347f0"/>
<circle cx="637.11" cy="134.31" r="4.9" fill="#2347f0"/>
<circle cx="641.72" cy="134.44" r="4.9" fill="#2347f0"/>
<circle cx="646.34" cy="134.56" r="4.9" fill="#2347f0"/>
<circle cx="650.95" cy="134.7" r="4.9" fill="#2347f0"/>
<circle cx="655.57" cy="134.83" r="4.9" fill="#2347f0"/>
<circle cx="660.18" cy="134.97" r="4.9" fill="#2347f0"/>
<circle cx="664.8" cy="135.1" r="4.9" fill="#2347f0"/>
<circle cx="669.41" cy="135.24" r="4.9" fill="#2347f0"/>
<circle cx="674.02" cy="135.37" r="4.9" fill="#2347f0"/>
<circle cx="678.64" cy="135.51" r="4.9" fill="#2347f0"/>
<circle cx="683.25" cy="135.64" r="4.9" fill="#2347f0"/>
<circle cx="687.87" cy="135.78" r="4.9" fill="#2347f0"/>
<circle cx="692.49" cy="135.91" r="4.9" fill="#2347f0"/>
<circle cx="697.1" cy="136.05" r="4.9" fill="#2347f0"/>
<rect x="692.1" y="142.39" width="10" height="10" fill="#3a4fd8"/>
<rect x="722" y="84.2" width="11" height="11" fill="#f5101f"/>
<text x="766" y="98.6" font-size="28.6" font-weight="bold" text-anchor="start" fill="#17181c">DMSO</text>
<circle cx="727.5" cy="135.6" r="5.5" fill="#2347f0"/>
<text x="766.6" y="144" font-size="28.6" font-weight="bold" text-anchor="start" fill="#17181c">2,3-cGAMP (100 <tspan font-family="'Liberation Serif', 'Times New Roman', serif" font-weight="normal">&#956;</tspan>M)</text>
<polygon points="727.5,176.08 733.5,187.24 721.5,187.24" fill="#3be23b"/>
<text x="766" y="190" font-size="28.6" font-weight="bold" text-anchor="start" fill="#17181c">NVS-STG1&#160;&#160;(100 <tspan font-family="'Liberation Serif', 'Times New Roman', serif" font-weight="normal">&#956;</tspan>M)</text>
<text x="1084.5" y="45.5" font-size="56" font-weight="bold" text-anchor="start" fill="#17181c">b</text>
<line x1="1261.5" y1="20.7" x2="1261.5" y2="398.4" stroke="#17181c" stroke-width="4.4" />
<line x1="1259.3" y1="396.2" x2="1856.03" y2="396.2" stroke="#17181c" stroke-width="4.4" />
<line x1="1246.2" y1="392.7" x2="1261.5" y2="392.7" stroke="#17181c" stroke-width="4.4" />
<line x1="1246.2" y1="238.3" x2="1261.5" y2="238.3" stroke="#17181c" stroke-width="4.4" />
<line x1="1246.2" y1="83.9" x2="1261.5" y2="83.9" stroke="#17181c" stroke-width="4.4" />
<line x1="1251" y1="315.5" x2="1261.5" y2="315.5" stroke="#17181c" stroke-width="4.4" />
<line x1="1251" y1="161.1" x2="1261.5" y2="161.1" stroke="#17181c" stroke-width="4.4" />
<text x="1241" y="92.7" font-size="25" font-weight="bold" text-anchor="end" fill="#17181c">10000</text>
<text x="1241" y="247.1" font-size="25" font-weight="bold" text-anchor="end" fill="#17181c">5000</text>
<text x="1241" y="401.5" font-size="25" font-weight="bold" text-anchor="end" fill="#17181c">0</text>
<line x1="1271.25" y1="396.2" x2="1271.25" y2="404.2" stroke="#17181c" stroke-width="4.4" />
<line x1="1280.3" y1="396.2" x2="1280.3" y2="410.4" stroke="#17181c" stroke-width="4.4" />
<line x1="1339.84" y1="396.2" x2="1339.84" y2="404.2" stroke="#17181c" stroke-width="4.4" />
<line x1="1374.67" y1="396.2" x2="1374.67" y2="404.2" stroke="#17181c" stroke-width="4.4" />
<line x1="1399.39" y1="396.2" x2="1399.39" y2="404.2" stroke="#17181c" stroke-width="4.4" />
<line x1="1418.56" y1="396.2" x2="1418.56" y2="404.2" stroke="#17181c" stroke-width="4.4" />
<line x1="1434.22" y1="396.2" x2="1434.22" y2="404.2" stroke="#17181c" stroke-width="4.4" />
<line x1="1447.46" y1="396.2" x2="1447.46" y2="404.2" stroke="#17181c" stroke-width="4.4" />
<line x1="1458.93" y1="396.2" x2="1458.93" y2="404.2" stroke="#17181c" stroke-width="4.4" />
<line x1="1469.05" y1="396.2" x2="1469.05" y2="404.2" stroke="#17181c" stroke-width="4.4" />
<line x1="1478.1" y1="396.2" x2="1478.1" y2="410.4" stroke="#17181c" stroke-width="4.4" />
<line x1="1537.64" y1="396.2" x2="1537.64" y2="404.2" stroke="#17181c" stroke-width="4.4" />
<line x1="1572.47" y1="396.2" x2="1572.47" y2="404.2" stroke="#17181c" stroke-width="4.4" />
<line x1="1597.19" y1="396.2" x2="1597.19" y2="404.2" stroke="#17181c" stroke-width="4.4" />
<line x1="1616.36" y1="396.2" x2="1616.36" y2="404.2" stroke="#17181c" stroke-width="4.4" />
<line x1="1632.02" y1="396.2" x2="1632.02" y2="404.2" stroke="#17181c" stroke-width="4.4" />
<line x1="1645.26" y1="396.2" x2="1645.26" y2="404.2" stroke="#17181c" stroke-width="4.4" />
<line x1="1656.73" y1="396.2" x2="1656.73" y2="404.2" stroke="#17181c" stroke-width="4.4" />
<line x1="1666.85" y1="396.2" x2="1666.85" y2="404.2" stroke="#17181c" stroke-width="4.4" />
<line x1="1675.9" y1="396.2" x2="1675.9" y2="410.4" stroke="#17181c" stroke-width="4.4" />
<line x1="1735.44" y1="396.2" x2="1735.44" y2="404.2" stroke="#17181c" stroke-width="4.4" />
<line x1="1770.27" y1="396.2" x2="1770.27" y2="404.2" stroke="#17181c" stroke-width="4.4" />
<line x1="1794.99" y1="396.2" x2="1794.99" y2="404.2" stroke="#17181c" stroke-width="4.4" />
<line x1="1814.16" y1="396.2" x2="1814.16" y2="404.2" stroke="#17181c" stroke-width="4.4" />
<line x1="1829.82" y1="396.2" x2="1829.82" y2="404.2" stroke="#17181c" stroke-width="4.4" />
<line x1="1843.06" y1="396.2" x2="1843.06" y2="404.2" stroke="#17181c" stroke-width="4.4" />
<line x1="1854.53" y1="396.2" x2="1854.53" y2="404.2" stroke="#17181c" stroke-width="4.4" />
<text x="1280.3" y="439.2" font-size="25" font-weight="bold" text-anchor="middle" fill="#17181c">100</text>
<text x="1478.1" y="439.2" font-size="25" font-weight="bold" text-anchor="middle" fill="#17181c">1000</text>
<text x="1675.9" y="439.2" font-size="25" font-weight="bold" text-anchor="middle" fill="#17181c">10000</text>
<text x="1558.5" y="481.5" font-size="28.4" font-weight="bold" text-anchor="middle" fill="#17181c">Compound (nM)</text>
<text x="1155.5" y="206.7" font-size="28.4" font-weight="bold" text-anchor="middle" fill="#17181c" transform="rotate(-90 1155.5 206.7)">Reporter Activity</text>
<circle cx="1275" cy="83.1" r="2.3" fill="#17181c"/>
<circle cx="1290.2" cy="83.1" r="2.3" fill="#17181c"/>
<circle cx="1305.4" cy="83.1" r="2.3" fill="#17181c"/>
<circle cx="1320.6" cy="83.1" r="2.3" fill="#17181c"/>
<circle cx="1335.8" cy="83.1" r="2.3" fill="#17181c"/>
<circle cx="1351" cy="83.1" r="2.3" fill="#17181c"/>
<circle cx="1366.2" cy="83.1" r="2.3" fill="#17181c"/>
<circle cx="1381.4" cy="83.1" r="2.3" fill="#17181c"/>
<circle cx="1396.6" cy="83.1" r="2.3" fill="#17181c"/>
<circle cx="1411.8" cy="83.1" r="2.3" fill="#17181c"/>
<circle cx="1427" cy="83.1" r="2.3" fill="#17181c"/>
<circle cx="1442.2" cy="83.1" r="2.3" fill="#17181c"/>
<circle cx="1457.4" cy="83.1" r="2.3" fill="#17181c"/>
<circle cx="1472.6" cy="83.1" r="2.3" fill="#17181c"/>
<circle cx="1487.8" cy="83.1" r="2.3" fill="#17181c"/>
<circle cx="1503" cy="83.1" r="2.3" fill="#17181c"/>
<circle cx="1518.2" cy="83.1" r="2.3" fill="#17181c"/>
<circle cx="1533.4" cy="83.1" r="2.3" fill="#17181c"/>
<circle cx="1548.6" cy="83.1" r="2.3" fill="#17181c"/>
<circle cx="1563.8" cy="83.1" r="2.3" fill="#17181c"/>
<circle cx="1579" cy="83.1" r="2.3" fill="#17181c"/>
<circle cx="1594.2" cy="83.1" r="2.3" fill="#17181c"/>
<circle cx="1609.4" cy="83.1" r="2.3" fill="#17181c"/>
<circle cx="1624.6" cy="83.1" r="2.3" fill="#17181c"/>
<circle cx="1639.8" cy="83.1" r="2.3" fill="#17181c"/>
<circle cx="1655" cy="83.1" r="2.3" fill="#17181c"/>
<circle cx="1670.2" cy="83.1" r="2.3" fill="#17181c"/>
<circle cx="1685.4" cy="83.1" r="2.3" fill="#17181c"/>
<circle cx="1700.6" cy="83.1" r="2.3" fill="#17181c"/>
<circle cx="1715.8" cy="83.1" r="2.3" fill="#17181c"/>
<circle cx="1731" cy="83.1" r="2.3" fill="#17181c"/>
<circle cx="1746.2" cy="83.1" r="2.3" fill="#17181c"/>
<circle cx="1761.4" cy="83.1" r="2.3" fill="#17181c"/>
<circle cx="1776.6" cy="83.1" r="2.3" fill="#17181c"/>
<circle cx="1791.8" cy="83.1" r="2.3" fill="#17181c"/>
<circle cx="1807" cy="83.1" r="2.3" fill="#17181c"/>
<circle cx="1822.2" cy="83.1" r="2.3" fill="#17181c"/>
<circle cx="1837.4" cy="83.1" r="2.3" fill="#17181c"/>
<circle cx="1852.6" cy="83.1" r="2.3" fill="#17181c"/>
<circle cx="1275" cy="392.7" r="2" fill="#17181c"/>
<circle cx="1284.95" cy="392.7" r="2" fill="#17181c"/>
<circle cx="1294.9" cy="392.7" r="2" fill="#17181c"/>
<circle cx="1304.85" cy="392.7" r="2" fill="#17181c"/>
<circle cx="1314.8" cy="392.7" r="2" fill="#17181c"/>
<circle cx="1324.75" cy="392.7" r="2" fill="#17181c"/>
<circle cx="1334.7" cy="392.7" r="2" fill="#17181c"/>
<circle cx="1344.65" cy="392.7" r="2" fill="#17181c"/>
<circle cx="1354.6" cy="392.7" r="2" fill="#17181c"/>
<circle cx="1364.55" cy="392.7" r="2" fill="#17181c"/>
<circle cx="1374.5" cy="392.7" r="2" fill="#17181c"/>
<circle cx="1384.45" cy="392.7" r="2" fill="#17181c"/>
<circle cx="1394.4" cy="392.7" r="2" fill="#17181c"/>
<circle cx="1404.35" cy="392.7" r="2" fill="#17181c"/>
<circle cx="1414.3" cy="392.7" r="2" fill="#17181c"/>
<circle cx="1424.25" cy="392.7" r="2" fill="#17181c"/>
<circle cx="1434.2" cy="392.7" r="2" fill="#17181c"/>
<circle cx="1444.15" cy="392.7" r="2" fill="#17181c"/>
<circle cx="1454.1" cy="392.7" r="2" fill="#17181c"/>
<circle cx="1464.05" cy="392.7" r="2" fill="#17181c"/>
<circle cx="1474" cy="392.7" r="2" fill="#17181c"/>
<circle cx="1483.95" cy="392.7" r="2" fill="#17181c"/>
<circle cx="1493.9" cy="392.7" r="2" fill="#17181c"/>
<circle cx="1503.85" cy="392.7" r="2" fill="#17181c"/>
<circle cx="1513.8" cy="392.7" r="2" fill="#17181c"/>
<circle cx="1523.75" cy="392.7" r="2" fill="#17181c"/>
<circle cx="1533.7" cy="392.7" r="2" fill="#17181c"/>
<circle cx="1543.65" cy="392.7" r="2" fill="#17181c"/>
<circle cx="1553.6" cy="392.7" r="2" fill="#17181c"/>
<circle cx="1563.55" cy="392.7" r="2" fill="#17181c"/>
<circle cx="1573.5" cy="392.7" r="2" fill="#17181c"/>
<circle cx="1583.45" cy="392.7" r="2" fill="#17181c"/>
<circle cx="1593.4" cy="392.7" r="2" fill="#17181c"/>
<circle cx="1603.35" cy="392.7" r="2" fill="#17181c"/>
<circle cx="1613.3" cy="392.7" r="2" fill="#17181c"/>
<circle cx="1623.25" cy="392.7" r="2" fill="#17181c"/>
<circle cx="1633.2" cy="392.7" r="2" fill="#17181c"/>
<circle cx="1643.15" cy="392.7" r="2" fill="#17181c"/>
<circle cx="1653.1" cy="392.7" r="2" fill="#17181c"/>
<circle cx="1663.05" cy="392.7" r="2" fill="#17181c"/>
<circle cx="1673" cy="392.7" r="2" fill="#17181c"/>
<circle cx="1682.95" cy="392.7" r="2" fill="#17181c"/>
<circle cx="1692.9" cy="392.7" r="2" fill="#17181c"/>
<circle cx="1702.85" cy="392.7" r="2" fill="#17181c"/>
<circle cx="1712.8" cy="392.7" r="2" fill="#17181c"/>
<circle cx="1722.75" cy="392.7" r="2" fill="#17181c"/>
<circle cx="1732.7" cy="392.7" r="2" fill="#17181c"/>
<circle cx="1742.65" cy="392.7" r="2" fill="#17181c"/>
<circle cx="1752.6" cy="392.7" r="2" fill="#17181c"/>
<circle cx="1762.55" cy="392.7" r="2" fill="#17181c"/>
<circle cx="1772.5" cy="392.7" r="2" fill="#17181c"/>
<circle cx="1782.45" cy="392.7" r="2" fill="#17181c"/>
<circle cx="1792.4" cy="392.7" r="2" fill="#17181c"/>
<circle cx="1802.35" cy="392.7" r="2" fill="#17181c"/>
<circle cx="1812.3" cy="392.7" r="2" fill="#17181c"/>
<circle cx="1822.25" cy="392.7" r="2" fill="#17181c"/>
<circle cx="1832.2" cy="392.7" r="2" fill="#17181c"/>
<circle cx="1842.15" cy="392.7" r="2" fill="#17181c"/>
<circle cx="1852.1" cy="392.7" r="2" fill="#17181c"/>
<text x="1865.3" y="89.4" font-size="28.6" font-weight="bold" text-anchor="start" fill="#17181c">120X</text>
<polyline points="1278.26,390.04 1280.36,390.04 1282.45,390.04 1284.55,390.04 1286.64,390.04 1288.74,390.03 1290.83,390.03 1292.92,390.03 1295.02,390.03 1297.11,390.03 1299.21,390.03 1301.3,390.03 1303.4,390.03 1305.49,390.02 1307.59,390.02 1309.68,390.02 1311.77,390.02 1313.87,390.01 1315.96,390.01 1318.06,390.01 1320.15,390.01 1322.25,390 1324.34,390 1326.44,389.99 1328.53,389.99 1330.63,389.99 1332.72,389.98 1334.81,389.98 1336.91,389.97 1339,389.96 1341.1,389.96 1343.19,389.95 1345.29,389.94 1347.38,389.93 1349.48,389.92 1351.57,389.91 1353.66,389.9 1355.76,389.89 1357.85,389.88 1359.95,389.87 1362.04,389.85 1364.14,389.84 1366.23,389.82 1368.33,389.8 1370.42,389.78 1372.52,389.76 1374.61,389.74 1376.7,389.71 1378.8,389.68 1380.89,389.66 1382.99,389.62 1385.08,389.59 1387.18,389.55 1389.27,389.51 1391.37,389.47 1393.46,389.43 1395.55,389.38 1397.65,389.32 1399.74,389.26 1401.84,389.2 1403.93,389.13 1406.03,389.06 1408.12,388.98 1410.22,388.89 1412.31,388.8 1414.41,388.7 1416.5,388.59 1418.59,388.48 1420.69,388.35 1422.78,388.22 1424.88,388.07 1426.97,387.91 1429.07,387.74 1431.16,387.56 1433.26,387.36 1435.35,387.15 1437.44,386.92 1439.54,386.67 1441.63,386.4 1443.73,386.11 1445.82,385.8 1447.92,385.47 1450.01,385.11 1452.11,384.72 1454.2,384.3 1456.3,383.84 1458.39,383.36 1460.48,382.84 1462.58,382.27 1464.67,381.67 1466.77,381.02 1468.86,380.32 1470.96,379.56 1473.05,378.76 1475.15,377.89 1477.24,376.96 1479.33,375.97 1481.43,374.9 1483.52,373.76 1485.62,372.53 1487.71,371.23 1489.81,369.83 1491.9,368.34 1494,366.75 1496.09,365.05 1498.19,363.25 1500.28,361.33 1502.37,359.29 1504.47,357.12 1506.56,354.83 1508.66,352.4 1510.75,349.84 1512.85,347.14 1514.94,344.29 1517.04,341.29 1519.13,338.14 1521.23,334.85 1523.32,331.4 1525.41,327.8 1527.51,324.06 1529.6,320.16 1531.7,316.12 1533.79,311.95 1535.89,307.64 1537.98,303.21 1540.08,298.66 1542.17,294 1544.26,289.24 1546.36,284.4 1548.45,279.48 1550.55,274.51 1552.64,269.48 1554.74,264.43 1556.83,259.36 1558.93,254.29 1561.02,249.23 1563.12,244.2 1565.21,239.22 1567.3,234.29 1569.4,229.43 1571.49,224.66 1573.59,219.98 1575.68,215.41 1577.78,210.95 1579.87,206.62 1581.97,202.42 1584.06,198.36 1586.15,194.44 1588.25,190.67 1590.34,187.04 1592.44,183.57 1594.53,180.24 1596.63,177.07 1598.72,174.05 1600.82,171.17 1602.91,168.44 1605.01,165.85 1607.1,163.4 1609.19,161.08 1611.29,158.89 1613.38,156.83 1615.48,154.89 1617.57,153.07 1619.67,151.35 1621.76,149.74 1623.86,148.23 1625.95,146.82 1628.04,145.49 1630.14,144.26 1632.23,143.1 1634.33,142.02 1636.42,141.01 1638.52,140.07 1640.61,139.19 1642.71,138.37 1644.8,137.61 1646.9,136.9 1648.99,136.25 1651.08,135.63 1653.18,135.06 1655.27,134.53 1657.37,134.04 1659.46,133.58 1661.56,133.16 1663.65,132.76 1665.75,132.39 1667.84,132.05 1669.93,131.74 1672.03,131.45 1674.12,131.17 1676.22,130.92 1678.31,130.69 1680.41,130.47 1682.5,130.27 1684.6,130.09 1686.69,129.91 1688.79,129.75 1690.88,129.61 1692.97,129.47 1695.07,129.34" fill="none" stroke="#17181c" stroke-width="1.6" stroke-linejoin="round" />
<polyline points="1278.26,389.18 1280.66,389.18 1283.05,389.18 1285.44,389.18 1287.84,389.18 1290.23,389.18 1292.62,389.18 1295.02,389.18 1297.41,389.18 1299.81,389.18 1302.2,389.18 1304.59,389.18 1306.99,389.18 1309.38,389.18 1311.77,389.18 1314.17,389.18 1316.56,389.18 1318.96,389.18 1321.35,389.18 1323.74,389.18 1326.14,389.18 1328.53,389.18 1330.92,389.18 1333.32,389.18 1335.71,389.18 1338.11,389.18 1340.5,389.18 1342.89,389.18 1345.29,389.18 1347.68,389.17 1350.07,389.17 1352.47,389.17 1354.86,389.17 1357.26,389.17 1359.65,389.17 1362.04,389.17 1364.44,389.17 1366.83,389.17 1369.22,389.17 1371.62,389.17 1374.01,389.17 1376.41,389.17 1378.8,389.16 1381.19,389.16 1383.59,389.16 1385.98,389.16 1388.37,389.16 1390.77,389.16 1393.16,389.15 1395.55,389.15 1397.95,389.15 1400.34,389.14 1402.74,389.14 1405.13,389.14 1407.52,389.13 1409.92,389.13 1412.31,389.12 1414.7,389.12 1417.1,389.11 1419.49,389.11 1421.89,389.1 1424.28,389.09 1426.67,389.08 1429.07,389.07 1431.46,389.06 1433.85,389.05 1436.25,389.04 1438.64,389.02 1441.04,389.01 1443.43,388.99 1445.82,388.97 1448.22,388.95 1450.61,388.93 1453,388.91 1455.4,388.88 1457.79,388.85 1460.19,388.82 1462.58,388.79 1464.97,388.75 1467.37,388.71 1469.76,388.66 1472.15,388.62 1474.55,388.56 1476.94,388.5 1479.33,388.44 1481.73,388.36 1484.12,388.29 1486.52,388.2 1488.91,388.11 1491.3,388 1493.7,387.89 1496.09,387.77 1498.48,387.63 1500.88,387.48 1503.27,387.32 1505.67,387.14 1508.06,386.94 1510.45,386.73 1512.85,386.5 1515.24,386.24 1517.63,385.96 1520.03,385.65 1522.42,385.32 1524.82,384.95 1527.21,384.55 1529.6,384.11 1532,383.63 1534.39,383.11 1536.78,382.53 1539.18,381.91 1541.57,381.23 1543.97,380.48 1546.36,379.67 1548.75,378.79 1551.15,377.83 1553.54,376.78 1555.93,375.64 1558.33,374.4 1560.72,373.05 1563.12,371.59 1565.51,370.01 1567.9,368.3 1570.3,366.44 1572.69,364.44 1575.08,362.28 1577.48,359.95 1579.87,357.44 1582.26,354.75 1584.66,351.87 1587.05,348.78 1589.45,345.48 1591.84,341.96 1594.23,338.22 1596.63,334.25 1599.02,330.05 1601.41,325.62 1603.81,320.96 1606.2,316.07 1608.6,310.96 1610.99,305.63 1613.38,300.09 1615.78,294.36 1618.17,288.45 1620.56,282.39 1622.96,276.18 1625.35,269.85 1627.75,263.43 1630.14,256.94 1632.53,250.4 1634.93,243.86 1637.32,237.32 1639.71,230.83 1642.11,224.41 1644.5,218.07 1646.9,211.86 1649.29,205.79 1651.68,199.87 1654.08,194.14 1656.47,188.6 1658.86,183.26 1661.26,178.14 1663.65,173.24 1666.04,168.57 1668.44,164.13 1670.83,159.93 1673.23,155.95 1675.62,152.21 1678.01,148.68 1680.41,145.37 1682.8,142.28 1685.19,139.39 1687.59,136.69 1689.98,134.18 1692.38,131.84 1694.77,129.68 1697.16,127.67 1699.56,125.81 1701.95,124.09 1704.34,122.5 1706.74,121.04 1709.13,119.69 1711.53,118.45 1713.92,117.31 1716.31,116.25 1718.71,115.29 1721.1,114.4 1723.49,113.59 1725.89,112.84 1728.28,112.16 1730.68,111.53 1733.07,110.96 1735.46,110.43 1737.86,109.95 1740.25,109.51 1742.64,109.11 1745.04,108.74 1747.43,108.4 1749.83,108.1 1752.22,107.82 1754.61,107.56" fill="none" stroke="#17181c" stroke-width="1.6" stroke-linejoin="round" />
<polyline points="1278.26,390.88 1281.15,390.88 1284.03,390.88 1286.91,390.88 1289.8,390.88 1292.68,390.88 1295.57,390.88 1298.45,390.88 1301.33,390.88 1304.22,390.88 1307.1,390.88 1309.98,390.88 1312.87,390.88 1315.75,390.88 1318.64,390.88 1321.52,390.88 1324.4,390.88 1327.29,390.88 1330.17,390.88 1333.05,390.88 1335.94,390.88 1338.82,390.88 1341.71,390.88 1344.59,390.88 1347.47,390.88 1350.36,390.88 1353.24,390.88 1356.13,390.88 1359.01,390.88 1361.89,390.88 1364.78,390.88 1367.66,390.88 1370.54,390.88 1373.43,390.88 1376.31,390.88 1379.2,390.88 1382.08,390.88 1384.96,390.88 1387.85,390.88 1390.73,390.88 1393.61,390.88 1396.5,390.88 1399.38,390.88 1402.27,390.88 1405.15,390.87 1408.03,390.87 1410.92,390.87 1413.8,390.87 1416.69,390.87 1419.57,390.87 1422.45,390.87 1425.34,390.86 1428.22,390.86 1431.1,390.86 1433.99,390.86 1436.87,390.85 1439.76,390.85 1442.64,390.85 1445.52,390.84 1448.41,390.84 1451.29,390.84 1454.17,390.83 1457.06,390.83 1459.94,390.82 1462.83,390.81 1465.71,390.81 1468.59,390.8 1471.48,390.79 1474.36,390.78 1477.25,390.77 1480.13,390.76 1483.01,390.74 1485.9,390.73 1488.78,390.71 1491.66,390.69 1494.55,390.68 1497.43,390.65 1500.32,390.63 1503.2,390.6 1506.08,390.57 1508.97,390.54 1511.85,390.51 1514.73,390.47 1517.62,390.43 1520.5,390.38 1523.39,390.33 1526.27,390.27 1529.15,390.21 1532.04,390.14 1534.92,390.06 1537.81,389.97 1540.69,389.88 1543.57,389.78 1546.46,389.66 1549.34,389.54 1552.22,389.4 1555.11,389.25 1557.99,389.08 1560.88,388.89 1563.76,388.69 1566.64,388.46 1569.53,388.22 1572.41,387.94 1575.29,387.64 1578.18,387.31 1581.06,386.95 1583.95,386.55 1586.83,386.11 1589.71,385.63 1592.6,385.1 1595.48,384.51 1598.36,383.87 1601.25,383.17 1604.13,382.4 1607.02,381.56 1609.9,380.63 1612.78,379.62 1615.67,378.51 1618.55,377.3 1621.44,375.97 1624.32,374.53 1627.2,372.95 1630.09,371.24 1632.97,369.38 1635.85,367.36 1638.74,365.17 1641.62,362.79 1644.51,360.23 1647.39,357.47 1650.27,354.5 1653.16,351.31 1656.04,347.89 1658.92,344.24 1661.81,340.36 1664.69,336.23 1667.58,331.85 1670.46,327.24 1673.34,322.38 1676.23,317.3 1679.11,311.99 1682,306.46 1684.88,300.75 1687.76,294.85 1690.65,288.8 1693.53,282.61 1696.41,276.32 1699.3,269.95 1702.18,263.54 1705.07,257.1 1707.95,250.68 1710.83,244.31 1713.72,238.01 1716.6,231.81 1719.48,225.74 1722.37,219.82 1725.25,214.09 1728.14,208.54 1731.02,203.2 1733.9,198.09 1736.79,193.21 1739.67,188.57 1742.56,184.17 1745.44,180.01 1748.32,176.09 1751.21,172.42 1754.09,168.97 1756.97,165.76 1759.86,162.76 1762.74,159.97 1765.63,157.39 1768.51,155 1771.39,152.79 1774.28,150.75 1777.16,148.87 1780.04,147.14 1782.93,145.55 1785.81,144.09 1788.7,142.75 1791.58,141.53 1794.46,140.41 1797.35,139.38 1800.23,138.45 1803.12,137.59 1806,136.81 1808.88,136.1 1811.77,135.46 1814.65,134.87 1817.53,134.33 1820.42,133.84 1823.3,133.4 1826.19,132.99 1829.07,132.63 1831.95,132.29 1834.84,131.99 1837.72,131.71 1840.6,131.46 1843.49,131.24 1846.37,131.03 1849.26,130.84 1852.14,130.67" fill="none" stroke="#17181c" stroke-width="1.6" stroke-dasharray="5.5,4.5" stroke-linejoin="round" />
<polyline points="1278.26,390.31 1280.66,390.31 1283.05,390.31 1285.44,390.31 1287.84,390.31 1290.23,390.31 1292.62,390.31 1295.02,390.31 1297.41,390.31 1299.81,390.31 1302.2,390.31 1304.59,390.31 1306.99,390.31 1309.38,390.31 1311.77,390.31 1314.17,390.31 1316.56,390.31 1318.96,390.31 1321.35,390.31 1323.74,390.31 1326.14,390.31 1328.53,390.31 1330.92,390.31 1333.32,390.31 1335.71,390.31 1338.11,390.31 1340.5,390.31 1342.89,390.31 1345.29,390.31 1347.68,390.31 1350.07,390.31 1352.47,390.31 1354.86,390.31 1357.26,390.31 1359.65,390.31 1362.04,390.31 1364.44,390.31 1366.83,390.31 1369.22,390.31 1371.62,390.31 1374.01,390.31 1376.41,390.31 1378.8,390.31 1381.19,390.31 1383.59,390.31 1385.98,390.31 1388.37,390.3 1390.77,390.3 1393.16,390.3 1395.55,390.3 1397.95,390.3 1400.34,390.3 1402.74,390.3 1405.13,390.3 1407.52,390.3 1409.92,390.3 1412.31,390.3 1414.7,390.3 1417.1,390.29 1419.49,390.29 1421.89,390.29 1424.28,390.29 1426.67,390.29 1429.07,390.29 1431.46,390.28 1433.85,390.28 1436.25,390.28 1438.64,390.27 1441.04,390.27 1443.43,390.27 1445.82,390.26 1448.22,390.26 1450.61,390.25 1453,390.25 1455.4,390.24 1457.79,390.23 1460.19,390.23 1462.58,390.22 1464.97,390.21 1467.37,390.2 1469.76,390.19 1472.15,390.17 1474.55,390.16 1476.94,390.15 1479.33,390.13 1481.73,390.11 1484.12,390.09 1486.52,390.07 1488.91,390.05 1491.3,390.02 1493.7,389.99 1496.09,389.96 1498.48,389.93 1500.88,389.89 1503.27,389.85 1505.67,389.8 1508.06,389.75 1510.45,389.7 1512.85,389.64 1515.24,389.57 1517.63,389.5 1520.03,389.42 1522.42,389.33 1524.82,389.23 1527.21,389.12 1529.6,389.01 1532,388.88 1534.39,388.74 1536.78,388.59 1539.18,388.42 1541.57,388.24 1543.97,388.03 1546.36,387.81 1548.75,387.57 1551.15,387.31 1553.54,387.02 1555.93,386.7 1558.33,386.36 1560.72,385.98 1563.12,385.57 1565.51,385.12 1567.9,384.64 1570.3,384.11 1572.69,383.53 1575.08,382.91 1577.48,382.23 1579.87,381.5 1582.26,380.71 1584.66,379.85 1587.05,378.93 1589.45,377.94 1591.84,376.88 1594.23,375.73 1596.63,374.51 1599.02,373.21 1601.41,371.83 1603.81,370.36 1606.2,368.8 1608.6,367.16 1610.99,365.43 1613.38,363.62 1615.78,361.73 1618.17,359.76 1620.56,357.71 1622.96,355.6 1625.35,353.43 1627.75,351.2 1630.14,348.93 1632.53,346.62 1634.93,344.28 1637.32,341.93 1639.71,339.57 1642.11,337.21 1644.5,334.87 1646.9,332.56 1649.29,330.28 1651.68,328.04 1654.08,325.86 1656.47,323.74 1658.86,321.68 1661.26,319.7 1663.65,317.79 1666.04,315.97 1668.44,314.22 1670.83,312.57 1673.23,311 1675.62,309.51 1678.01,308.11 1680.41,306.8 1682.8,305.57 1685.19,304.41 1687.59,303.34 1689.98,302.33 1692.38,301.4 1694.77,300.53 1697.16,299.73 1699.56,298.99 1701.95,298.3 1704.34,297.67 1706.74,297.09 1709.13,296.55 1711.53,296.06 1713.92,295.61 1716.31,295.19 1718.71,294.81 1721.1,294.46 1723.49,294.14 1725.89,293.85 1728.28,293.58 1730.68,293.33 1733.07,293.11 1735.46,292.9 1737.86,292.72 1740.25,292.55 1742.64,292.39 1745.04,292.25 1747.43,292.12 1749.83,292 1752.22,291.89 1754.61,291.79" fill="none" stroke="#17181c" stroke-width="1.6" stroke-linejoin="round" />
<polyline points="1278.26,390.48 1280.96,390.48 1283.65,390.48 1286.34,390.48 1289.03,390.48 1291.73,390.48 1294.42,390.48 1297.11,390.48 1299.81,390.48 1302.5,390.48 1305.19,390.48 1307.88,390.48 1310.58,390.48 1313.27,390.48 1315.96,390.48 1318.66,390.48 1321.35,390.48 1324.04,390.48 1326.74,390.48 1329.43,390.48 1332.12,390.48 1334.81,390.48 1337.51,390.48 1340.2,390.48 1342.89,390.48 1345.59,390.48 1348.28,390.48 1350.97,390.48 1353.66,390.48 1356.36,390.48 1359.05,390.48 1361.74,390.48 1364.44,390.48 1367.13,390.48 1369.82,390.48 1372.52,390.48 1375.21,390.48 1377.9,390.48 1380.59,390.48 1383.29,390.48 1385.98,390.48 1388.67,390.48 1391.37,390.48 1394.06,390.48 1396.75,390.48 1399.44,390.48 1402.14,390.48 1404.83,390.48 1407.52,390.48 1410.22,390.48 1412.91,390.48 1415.6,390.48 1418.3,390.48 1420.99,390.48 1423.68,390.48 1426.37,390.48 1429.07,390.48 1431.76,390.48 1434.45,390.48 1437.15,390.48 1439.84,390.48 1442.53,390.48 1445.22,390.48 1447.92,390.48 1450.61,390.48 1453.3,390.48 1456,390.48 1458.69,390.48 1461.38,390.48 1464.08,390.48 1466.77,390.48 1469.46,390.48 1472.15,390.48 1474.85,390.48 1477.54,390.48 1480.23,390.48 1482.93,390.48 1485.62,390.48 1488.31,390.48 1491,390.48 1493.7,390.48 1496.39,390.48 1499.08,390.48 1501.78,390.48 1504.47,390.48 1507.16,390.48 1509.85,390.48 1512.55,390.48 1515.24,390.48 1517.93,390.48 1520.63,390.48 1523.32,390.48 1526.01,390.48 1528.71,390.48 1531.4,390.48 1534.09,390.48 1536.78,390.48 1539.48,390.48 1542.17,390.48 1544.86,390.47 1547.56,390.47 1550.25,390.47 1552.94,390.47 1555.63,390.47 1558.33,390.47 1561.02,390.47 1563.71,390.47 1566.41,390.47 1569.1,390.47 1571.79,390.46 1574.49,390.46 1577.18,390.46 1579.87,390.46 1582.56,390.46 1585.26,390.45 1587.95,390.45 1590.64,390.45 1593.34,390.44 1596.03,390.44 1598.72,390.43 1601.41,390.43 1604.11,390.42 1606.8,390.41 1609.49,390.41 1612.19,390.4 1614.88,390.39 1617.57,390.38 1620.27,390.37 1622.96,390.35 1625.65,390.34 1628.34,390.32 1631.04,390.3 1633.73,390.28 1636.42,390.26 1639.12,390.24 1641.81,390.21 1644.5,390.18 1647.19,390.14 1649.89,390.1 1652.58,390.06 1655.27,390.01 1657.97,389.95 1660.66,389.89 1663.35,389.82 1666.04,389.75 1668.74,389.66 1671.43,389.57 1674.12,389.46 1676.82,389.34 1679.51,389.21 1682.2,389.06 1684.9,388.9 1687.59,388.72 1690.28,388.51 1692.97,388.29 1695.67,388.04 1698.36,387.76 1701.05,387.45 1703.75,387.1 1706.44,386.72 1709.13,386.29 1711.82,385.82 1714.52,385.29 1717.21,384.71 1719.9,384.06 1722.6,383.35 1725.29,382.56 1727.98,381.69 1730.68,380.73 1733.37,379.68 1736.06,378.52 1738.75,377.24 1741.45,375.85 1744.14,374.32 1746.83,372.65 1749.53,370.84 1752.22,368.87 1754.91,366.75 1757.6,364.45 1760.3,361.98 1762.99,359.33 1765.68,356.5 1768.38,353.5 1771.07,350.31 1773.76,346.96 1776.46,343.44 1779.15,339.77 1781.84,335.96 1784.53,332.03 1787.23,327.99 1789.92,323.87 1792.61,319.69 1795.31,315.47 1798,311.25 1800.69,307.04 1803.38,302.87 1806.08,298.76 1808.77,294.75 1811.46,290.84 1814.16,287.06" fill="none" stroke="#17181c" stroke-width="1.6" stroke-linejoin="round" />
<rect x="1271.61" y="383.89" width="13.3" height="13.3" fill="#17181c"/>
<circle cx="1278.26" cy="390.54" r="6.65" fill="#17181c"/>
<polygon points="1278.26,382.87 1284.91,395.24 1271.61,395.24" fill="#17181c"/>
<polygon points="1278.26,382.29 1284.91,390.54 1278.26,398.78 1271.61,390.54" fill="#17181c"/>
<polygon points="1278.26,398.21 1284.91,385.84 1271.61,385.84" fill="#17181c"/>
<rect x="1331.16" y="383.89" width="13.3" height="13.3" fill="#17181c"/>
<circle cx="1337.81" cy="390.54" r="6.65" fill="#17181c"/>
<polygon points="1337.81,382.87 1344.46,395.24 1331.16,395.24" fill="#17181c"/>
<polygon points="1337.81,382.29 1344.46,390.54 1337.81,398.78 1331.16,390.54" fill="#17181c"/>
<polygon points="1337.81,398.21 1344.46,385.84 1331.16,385.84" fill="#17181c"/>
<rect x="1390.7" y="383.89" width="13.3" height="13.3" fill="#17181c"/>
<circle cx="1397.35" cy="390.54" r="6.65" fill="#17181c"/>
<polygon points="1397.35,382.87 1404,395.24 1390.7,395.24" fill="#17181c"/>
<polygon points="1397.35,382.29 1404,390.54 1397.35,398.78 1390.7,390.54" fill="#17181c"/>
<polygon points="1397.35,398.21 1404,385.84 1390.7,385.84" fill="#17181c"/>
<rect x="1450.24" y="383.58" width="13.3" height="13.3" fill="#17181c"/>
<circle cx="1456.89" cy="390.23" r="6.65" fill="#17181c"/>
<polygon points="1456.89,381.98 1463.54,390.23 1456.89,398.48 1450.24,390.23" fill="#17181c"/>
<polygon points="1456.89,397.9 1463.54,385.53 1450.24,385.53" fill="#17181c"/>
<polygon points="1456.89,374.13 1463.54,386.5 1450.24,386.5" fill="#17181c"/>
<rect x="1509.79" y="330.47" width="13.3" height="13.3" fill="#17181c"/>
<rect x="1509.79" y="340.66" width="13.3" height="13.3" fill="#17181c"/>
<polygon points="1516.44,358.94 1523.09,371.31 1509.79,371.31" fill="#17181c"/>
<polygon points="1516.44,374.62 1523.09,386.99 1509.79,386.99" fill="#17181c"/>
<circle cx="1516.44" cy="390.85" r="6.65" fill="#17181c"/>
<polygon points="1516.44,382.6 1523.09,390.85 1516.44,399.09 1509.79,390.85" fill="#17181c"/>
<polygon points="1516.44,398.52 1523.09,386.15 1509.79,386.15" fill="#17181c"/>
<rect x="1569.33" y="196.85" width="13.3" height="13.3" fill="#17181c"/>
<rect x="1569.33" y="213.43" width="13.3" height="13.3" fill="#17181c"/>
<polygon points="1575.98,348.84 1582.63,361.21 1569.33,361.21" fill="#17181c"/>
<circle cx="1575.98" cy="374.94" r="6.65" fill="#17181c"/>
<circle cx="1575.98" cy="382.29" r="6.65" fill="#17181c"/>
<polygon points="1575.98,381.98 1582.63,390.23 1575.98,398.48 1569.33,390.23" fill="#17181c"/>
<polygon points="1575.98,397.59 1582.63,385.22 1569.33,385.22" fill="#17181c"/>
<rect x="1628.88" y="113.94" width="13.3" height="13.3" fill="#17181c"/>
<rect x="1628.88" y="140.65" width="13.3" height="13.3" fill="#17181c"/>
<circle cx="1635.53" cy="225.61" r="6.65" fill="#17181c"/>
<circle cx="1635.53" cy="252.41" r="6.65" fill="#17181c"/>
<polygon points="1635.53,322.39 1642.18,330.63 1635.53,338.88 1628.88,330.63" fill="#17181c"/>
<polygon points="1635.53,327.94 1642.18,336.19 1635.53,344.44 1628.88,336.19" fill="#17181c"/>
<polygon points="1635.53,364.18 1642.18,351.81 1628.88,351.81" fill="#17181c"/>
<polygon points="1635.53,378.65 1642.18,386.89 1635.53,395.14 1628.88,386.89" fill="#17181c"/>
<circle cx="1695.07" cy="86.49" r="6.65" fill="#17181c"/>
<circle cx="1695.07" cy="115" r="6.65" fill="#17181c"/>
<circle cx="1695.07" cy="119.6" r="6.65" fill="#17181c"/>
<rect x="1688.42" y="117.55" width="13.3" height="13.3" fill="#17181c"/>
<rect x="1688.42" y="143.33" width="13.3" height="13.3" fill="#17181c"/>
<polygon points="1695.07,271.97 1701.72,259.6 1688.42,259.6" fill="#17181c"/>
<polygon points="1695.07,277.5 1701.72,265.13 1688.42,265.13" fill="#17181c"/>
<polygon points="1695.07,267.75 1701.72,280.12 1688.42,280.12" fill="#17181c"/>
<polygon points="1695.07,276.95 1701.72,289.32 1688.42,289.32" fill="#17181c"/>
<polygon points="1695.07,377.75 1701.72,386 1695.07,394.25 1688.42,386" fill="#17181c"/>
<circle cx="1754.61" cy="116.91" r="6.65" fill="#17181c"/>
<circle cx="1754.61" cy="144.49" r="6.65" fill="#17181c"/>
<polygon points="1754.61,190.33 1761.26,202.7 1747.96,202.7" fill="#17181c"/>
<polygon points="1754.61,201.33 1761.26,213.7 1747.96,213.7" fill="#17181c"/>
<polygon points="1754.61,316.28 1761.26,303.91 1747.96,303.91" fill="#17181c"/>
<polygon points="1754.61,329.16 1761.26,316.79 1747.96,316.79" fill="#17181c"/>
<polygon points="1754.61,359.35 1761.26,367.59 1754.61,375.84 1747.96,367.59" fill="#17181c"/>
<polygon points="1814.16,123.05 1820.81,135.41 1807.51,135.41" fill="#17181c"/>
<polygon points="1814.16,137.74 1820.81,150.11 1807.51,150.11" fill="#17181c"/>
<polygon points="1814.16,264.36 1820.81,272.61 1814.16,280.85 1807.51,272.61" fill="#17181c"/>
<polygon points="1814.16,278.26 1820.81,286.5 1814.16,294.75 1807.51,286.5" fill="#17181c"/>
<line x1="1899.6" y1="140.2" x2="1935.6" y2="140.2" stroke="#17181c" stroke-width="1.9" stroke-dasharray="4.5,2.8"/>
<polygon points="1917.8,132.13 1924.8,145.15 1910.8,145.15" fill="#17181c"/>
<text x="1955.8" y="148.8" font-size="25.3" font-weight="bold" text-anchor="start" fill="#17181c">2',3'-cGAMP</text>
<line x1="1899.6" y1="187.7" x2="1935.6" y2="187.7" stroke="#17181c" stroke-width="1.9" />
<polygon points="1917.8,179.02 1924.8,187.7 1917.8,196.38 1910.8,187.7" fill="#17181c"/>
<text x="1955.8" y="196.3" font-size="25.3" font-weight="bold" text-anchor="start" fill="#17181c">NVS-STG1</text>
<line x1="1899.6" y1="235.3" x2="1935.6" y2="235.3" stroke="#17181c" stroke-width="1.9" />
<circle cx="1917.8" cy="235.3" r="7" fill="#17181c"/>
<text x="1955.8" y="243.9" font-size="25.3" font-weight="bold" text-anchor="start" fill="#17181c">NVS-STG2</text>
<line x1="1899.6" y1="282.5" x2="1935.6" y2="282.5" stroke="#17181c" stroke-width="1.9" />
<rect x="1910.8" y="275.5" width="14" height="14" fill="#17181c"/>
<text x="1955.8" y="291.1" font-size="25.3" font-weight="bold" text-anchor="start" fill="#17181c">NVS-STG3</text>
<line x1="1899.6" y1="330" x2="1935.6" y2="330" stroke="#17181c" stroke-width="1.9" />
<polygon points="1917.8,338.07 1924.8,325.05 1910.8,325.05" fill="#17181c"/>
<text x="1955.8" y="338.6" font-size="25.3" font-weight="bold" text-anchor="start" fill="#17181c">NVS-STG4</text>
<line x1="146.3" y1="655.9" x2="146.3" y2="998" stroke="#17181c" stroke-width="3.2" />
<line x1="132.3" y1="996.4" x2="656.9" y2="996.4" stroke="#17181c" stroke-width="3.2" />
<line x1="132.3" y1="705.7" x2="146.3" y2="705.7" stroke="#17181c" stroke-width="3.2" />
<text x="127" y="714.3" font-size="25" font-weight="bold" text-anchor="end" fill="#17181c">300000</text>
<line x1="132.3" y1="802.6" x2="146.3" y2="802.6" stroke="#17181c" stroke-width="3.2" />
<text x="127" y="811.2" font-size="25" font-weight="bold" text-anchor="end" fill="#17181c">200000</text>
<line x1="132.3" y1="899.5" x2="146.3" y2="899.5" stroke="#17181c" stroke-width="3.2" />
<text x="127" y="908.1" font-size="25" font-weight="bold" text-anchor="end" fill="#17181c">100000</text>
<line x1="132.3" y1="996.4" x2="146.3" y2="996.4" stroke="#17181c" stroke-width="3.2" />
<text x="127" y="1005" font-size="25" font-weight="bold" text-anchor="end" fill="#17181c">0</text>
<line x1="191.5" y1="996.4" x2="191.5" y2="1004.4" stroke="#17181c" stroke-width="3.2" />
<line x1="213.39" y1="996.4" x2="213.39" y2="1004.4" stroke="#17181c" stroke-width="3.2" />
<line x1="228.35" y1="996.4" x2="228.35" y2="1004.4" stroke="#17181c" stroke-width="3.2" />
<line x1="240.16" y1="996.4" x2="240.16" y2="1004.4" stroke="#17181c" stroke-width="3.2" />
<line x1="293.3" y1="996.4" x2="293.3" y2="1004.4" stroke="#17181c" stroke-width="3.2" />
<line x1="315.19" y1="996.4" x2="315.19" y2="1004.4" stroke="#17181c" stroke-width="3.2" />
<line x1="330.15" y1="996.4" x2="330.15" y2="1004.4" stroke="#17181c" stroke-width="3.2" />
<line x1="341.96" y1="996.4" x2="341.96" y2="1004.4" stroke="#17181c" stroke-width="3.2" />
<line x1="395.1" y1="996.4" x2="395.1" y2="1004.4" stroke="#17181c" stroke-width="3.2" />
<line x1="416.99" y1="996.4" x2="416.99" y2="1004.4" stroke="#17181c" stroke-width="3.2" />
<line x1="431.95" y1="996.4" x2="431.95" y2="1004.4" stroke="#17181c" stroke-width="3.2" />
<line x1="443.76" y1="996.4" x2="443.76" y2="1004.4" stroke="#17181c" stroke-width="3.2" />
<line x1="496.9" y1="996.4" x2="496.9" y2="1004.4" stroke="#17181c" stroke-width="3.2" />
<line x1="518.79" y1="996.4" x2="518.79" y2="1004.4" stroke="#17181c" stroke-width="3.2" />
<line x1="533.75" y1="996.4" x2="533.75" y2="1004.4" stroke="#17181c" stroke-width="3.2" />
<line x1="545.56" y1="996.4" x2="545.56" y2="1004.4" stroke="#17181c" stroke-width="3.2" />
<line x1="598.7" y1="996.4" x2="598.7" y2="1004.4" stroke="#17181c" stroke-width="3.2" />
<line x1="620.59" y1="996.4" x2="620.59" y2="1004.4" stroke="#17181c" stroke-width="3.2" />
<line x1="635.55" y1="996.4" x2="635.55" y2="1004.4" stroke="#17181c" stroke-width="3.2" />
<line x1="647.36" y1="996.4" x2="647.36" y2="1004.4" stroke="#17181c" stroke-width="3.2" />
<line x1="146.3" y1="996.4" x2="146.3" y2="1010.4" stroke="#17181c" stroke-width="3.2" />
<text x="146.3" y="1038.3" font-size="25" font-weight="bold" text-anchor="middle" fill="#17181c">-1.5</text>
<line x1="248.1" y1="996.4" x2="248.1" y2="1010.4" stroke="#17181c" stroke-width="3.2" />
<text x="248.1" y="1038.3" font-size="25" font-weight="bold" text-anchor="middle" fill="#17181c">-1.0</text>
<line x1="349.9" y1="996.4" x2="349.9" y2="1010.4" stroke="#17181c" stroke-width="3.2" />
<text x="349.9" y="1038.3" font-size="25" font-weight="bold" text-anchor="middle" fill="#17181c">-0.5</text>
<line x1="451.7" y1="996.4" x2="451.7" y2="1010.4" stroke="#17181c" stroke-width="3.2" />
<text x="451.7" y="1038.3" font-size="25" font-weight="bold" text-anchor="middle" fill="#17181c">0.0</text>
<line x1="553.5" y1="996.4" x2="553.5" y2="1010.4" stroke="#17181c" stroke-width="3.2" />
<text x="553.5" y="1038.3" font-size="25" font-weight="bold" text-anchor="middle" fill="#17181c">0.5</text>
<line x1="655.3" y1="996.4" x2="655.3" y2="1010.4" stroke="#17181c" stroke-width="3.2" />
<text x="655.3" y="1038.3" font-size="25" font-weight="bold" text-anchor="middle" fill="#17181c">1.0</text>
<text x="400.3" y="1076.2" font-size="28.4" font-weight="bold" text-anchor="middle" fill="#17181c">Log (<tspan font-family="'Liberation Serif', 'Times New Roman', serif" font-weight="normal">&#956;</tspan>M)</text>
<text x="26.5" y="824" font-size="28.4" font-weight="bold" text-anchor="middle" fill="#17181c" transform="rotate(-90 26.5 824)">Reporter Activity</text>
<text x="401.5" y="613.5" font-size="32.7" font-weight="bold" text-anchor="middle" fill="#17181c">WT STING</text>
<text x="1.5" y="592.3" font-size="56" font-weight="bold" text-anchor="start" fill="#17181c">c</text>
<line x1="214.71" y1="922" x2="214.71" y2="947.4" stroke="#db2a93" stroke-width="1.8" />
<line x1="207.91" y1="922" x2="221.51" y2="922" stroke="#db2a93" stroke-width="1.8" />
<line x1="207.91" y1="947.4" x2="221.51" y2="947.4" stroke="#db2a93" stroke-width="1.8" />
<line x1="311.83" y1="921.3" x2="311.83" y2="957" stroke="#db2a93" stroke-width="1.8" />
<line x1="305.03" y1="921.3" x2="318.63" y2="921.3" stroke="#db2a93" stroke-width="1.8" />
<line x1="305.03" y1="957" x2="318.63" y2="957" stroke="#db2a93" stroke-width="1.8" />
<line x1="408.94" y1="915.4" x2="408.94" y2="933.4" stroke="#db2a93" stroke-width="1.8" />
<line x1="402.14" y1="915.4" x2="415.74" y2="915.4" stroke="#db2a93" stroke-width="1.8" />
<line x1="402.14" y1="933.4" x2="415.74" y2="933.4" stroke="#db2a93" stroke-width="1.8" />
<line x1="506.06" y1="876" x2="506.06" y2="888" stroke="#db2a93" stroke-width="1.8" />
<line x1="499.26" y1="876" x2="512.86" y2="876" stroke="#db2a93" stroke-width="1.8" />
<line x1="499.26" y1="888" x2="512.86" y2="888" stroke="#db2a93" stroke-width="1.8" />
<line x1="603.18" y1="678.8" x2="603.18" y2="728.7" stroke="#db2a93" stroke-width="1.8" />
<line x1="596.38" y1="678.8" x2="609.98" y2="678.8" stroke="#db2a93" stroke-width="1.8" />
<line x1="596.38" y1="728.7" x2="609.98" y2="728.7" stroke="#db2a93" stroke-width="1.8" />
<polyline points="214.71,934.97 311.83,939.04 408.94,925.18 506.06,881.19 603.18,703.96" fill="none" stroke="#db2a93" stroke-width="1.8" stroke-linejoin="round" />
<line x1="311.83" y1="931" x2="311.83" y2="949.7" stroke="#17181c" stroke-width="1.8" />
<line x1="305.03" y1="931" x2="318.63" y2="931" stroke="#17181c" stroke-width="1.8" />
<line x1="305.03" y1="949.7" x2="318.63" y2="949.7" stroke="#17181c" stroke-width="1.8" />
<line x1="408.94" y1="891" x2="408.94" y2="912.2" stroke="#17181c" stroke-width="1.8" />
<line x1="402.14" y1="891" x2="415.74" y2="891" stroke="#17181c" stroke-width="1.8" />
<line x1="402.14" y1="912.2" x2="415.74" y2="912.2" stroke="#17181c" stroke-width="1.8" />
<line x1="506.06" y1="847.5" x2="506.06" y2="901.7" stroke="#17181c" stroke-width="1.8" />
<line x1="499.26" y1="847.5" x2="512.86" y2="847.5" stroke="#17181c" stroke-width="1.8" />
<line x1="499.26" y1="901.7" x2="512.86" y2="901.7" stroke="#17181c" stroke-width="1.8" />
<line x1="603.18" y1="828.3" x2="603.18" y2="900.8" stroke="#17181c" stroke-width="1.8" />
<line x1="596.38" y1="828.3" x2="609.98" y2="828.3" stroke="#17181c" stroke-width="1.8" />
<line x1="596.38" y1="900.8" x2="609.98" y2="900.8" stroke="#17181c" stroke-width="1.8" />
<polyline points="214.71,962.78 311.83,940.88 408.94,901.73 506.06,874.6 603.18,864.81" fill="none" stroke="#17181c" stroke-width="1.8" stroke-linejoin="round" />
<rect x="207.96" y="928.22" width="13.5" height="13.5" fill="#ff12ac"/>
<rect x="305.08" y="932.29" width="13.5" height="13.5" fill="#ff12ac"/>
<rect x="402.19" y="918.43" width="13.5" height="13.5" fill="#ff12ac"/>
<rect x="499.31" y="874.44" width="13.5" height="13.5" fill="#ff12ac"/>
<rect x="596.43" y="697.21" width="13.5" height="13.5" fill="#ff12ac"/>
<circle cx="214.71" cy="962.78" r="7" fill="#17181c"/>
<circle cx="311.83" cy="940.88" r="7" fill="#17181c"/>
<circle cx="408.94" cy="901.73" r="7" fill="#17181c"/>
<circle cx="506.06" cy="874.6" r="7" fill="#17181c"/>
<circle cx="603.18" cy="864.81" r="7" fill="#17181c"/>
<line x1="179.6" y1="681" x2="215.5" y2="681" stroke="#17181c" stroke-width="1.8" />
<circle cx="197.5" cy="681" r="7" fill="#17181c"/>
<text x="235.8" y="689.8" font-size="28.4" text-anchor="start" fill="#17181c">NVS-STG2</text>
<line x1="179.6" y1="726.7" x2="215.5" y2="726.7" stroke="#db2a93" stroke-width="1.8" />
<rect x="190.75" y="719.95" width="13.5" height="13.5" fill="#ff12ac"/>
<text x="235.8" y="735.6" font-size="28.4" text-anchor="start" fill="#17181c">2',3'-cGAMP</text>
<line x1="918.9" y1="655.6" x2="918.9" y2="997.2" stroke="#17181c" stroke-width="3.2" />
<line x1="904.9" y1="995.6" x2="1429" y2="995.6" stroke="#17181c" stroke-width="3.2" />
<line x1="904.9" y1="704.9" x2="918.9" y2="704.9" stroke="#17181c" stroke-width="3.2" />
<text x="899.6" y="713.5" font-size="25" font-weight="bold" text-anchor="end" fill="#17181c">300000</text>
<line x1="904.9" y1="801.8" x2="918.9" y2="801.8" stroke="#17181c" stroke-width="3.2" />
<text x="899.6" y="810.4" font-size="25" font-weight="bold" text-anchor="end" fill="#17181c">200000</text>
<line x1="904.9" y1="898.7" x2="918.9" y2="898.7" stroke="#17181c" stroke-width="3.2" />
<text x="899.6" y="907.3" font-size="25" font-weight="bold" text-anchor="end" fill="#17181c">100000</text>
<line x1="904.9" y1="995.6" x2="918.9" y2="995.6" stroke="#17181c" stroke-width="3.2" />
<text x="899.6" y="1004.2" font-size="25" font-weight="bold" text-anchor="end" fill="#17181c">0</text>
<line x1="964.05" y1="995.6" x2="964.05" y2="1003.6" stroke="#17181c" stroke-width="3.2" />
<line x1="985.92" y1="995.6" x2="985.92" y2="1003.6" stroke="#17181c" stroke-width="3.2" />
<line x1="1000.87" y1="995.6" x2="1000.87" y2="1003.6" stroke="#17181c" stroke-width="3.2" />
<line x1="1012.67" y1="995.6" x2="1012.67" y2="1003.6" stroke="#17181c" stroke-width="3.2" />
<line x1="1065.75" y1="995.6" x2="1065.75" y2="1003.6" stroke="#17181c" stroke-width="3.2" />
<line x1="1087.62" y1="995.6" x2="1087.62" y2="1003.6" stroke="#17181c" stroke-width="3.2" />
<line x1="1102.57" y1="995.6" x2="1102.57" y2="1003.6" stroke="#17181c" stroke-width="3.2" />
<line x1="1114.37" y1="995.6" x2="1114.37" y2="1003.6" stroke="#17181c" stroke-width="3.2" />
<line x1="1167.45" y1="995.6" x2="1167.45" y2="1003.6" stroke="#17181c" stroke-width="3.2" />
<line x1="1189.32" y1="995.6" x2="1189.32" y2="1003.6" stroke="#17181c" stroke-width="3.2" />
<line x1="1204.27" y1="995.6" x2="1204.27" y2="1003.6" stroke="#17181c" stroke-width="3.2" />
<line x1="1216.07" y1="995.6" x2="1216.07" y2="1003.6" stroke="#17181c" stroke-width="3.2" />
<line x1="1269.15" y1="995.6" x2="1269.15" y2="1003.6" stroke="#17181c" stroke-width="3.2" />
<line x1="1291.02" y1="995.6" x2="1291.02" y2="1003.6" stroke="#17181c" stroke-width="3.2" />
<line x1="1305.97" y1="995.6" x2="1305.97" y2="1003.6" stroke="#17181c" stroke-width="3.2" />
<line x1="1317.77" y1="995.6" x2="1317.77" y2="1003.6" stroke="#17181c" stroke-width="3.2" />
<line x1="1370.85" y1="995.6" x2="1370.85" y2="1003.6" stroke="#17181c" stroke-width="3.2" />
<line x1="1392.72" y1="995.6" x2="1392.72" y2="1003.6" stroke="#17181c" stroke-width="3.2" />
<line x1="1407.67" y1="995.6" x2="1407.67" y2="1003.6" stroke="#17181c" stroke-width="3.2" />
<line x1="1419.47" y1="995.6" x2="1419.47" y2="1003.6" stroke="#17181c" stroke-width="3.2" />
<line x1="918.9" y1="995.6" x2="918.9" y2="1009.6" stroke="#17181c" stroke-width="3.2" />
<text x="918.9" y="1037.5" font-size="25" font-weight="bold" text-anchor="middle" fill="#17181c">-1.5</text>
<line x1="1020.6" y1="995.6" x2="1020.6" y2="1009.6" stroke="#17181c" stroke-width="3.2" />
<text x="1020.6" y="1037.5" font-size="25" font-weight="bold" text-anchor="middle" fill="#17181c">-1.0</text>
<line x1="1122.3" y1="995.6" x2="1122.3" y2="1009.6" stroke="#17181c" stroke-width="3.2" />
<text x="1122.3" y="1037.5" font-size="25" font-weight="bold" text-anchor="middle" fill="#17181c">-0.5</text>
<line x1="1224" y1="995.6" x2="1224" y2="1009.6" stroke="#17181c" stroke-width="3.2" />
<text x="1224" y="1037.5" font-size="25" font-weight="bold" text-anchor="middle" fill="#17181c">0.0</text>
<line x1="1325.7" y1="995.6" x2="1325.7" y2="1009.6" stroke="#17181c" stroke-width="3.2" />
<text x="1325.7" y="1037.5" font-size="25" font-weight="bold" text-anchor="middle" fill="#17181c">0.5</text>
<line x1="1427.4" y1="995.6" x2="1427.4" y2="1009.6" stroke="#17181c" stroke-width="3.2" />
<text x="1427.4" y="1037.5" font-size="25" font-weight="bold" text-anchor="middle" fill="#17181c">1.0</text>
<text x="1172.65" y="1075.4" font-size="28.4" font-weight="bold" text-anchor="middle" fill="#17181c">Log (<tspan font-family="'Liberation Serif', 'Times New Roman', serif" font-weight="normal">&#956;</tspan>M)</text>
<text x="764.8" y="824.5" font-size="28.4" font-weight="bold" text-anchor="middle" fill="#17181c" transform="rotate(-90 764.8 824.5)">Reporter&#160;&#160;Activity</text>
<text x="1172" y="612.5" font-size="32.7" font-weight="bold" text-anchor="middle" fill="#17181c">Y240C STING</text>
<text x="711.5" y="591.8" font-size="56" font-weight="bold" text-anchor="start" fill="#17181c">d</text>
<polyline points="987.24,981.84 1084.26,981.84 1181.29,981.84 1278.31,981.84 1375.33,975.64" fill="none" stroke="#db2a93" stroke-width="1.8" stroke-linejoin="round" />
<line x1="1181.29" y1="919" x2="1181.29" y2="936" stroke="#17181c" stroke-width="1.8" />
<line x1="1174.49" y1="919" x2="1188.09" y2="919" stroke="#17181c" stroke-width="1.8" />
<line x1="1174.49" y1="936" x2="1188.09" y2="936" stroke="#17181c" stroke-width="1.8" />
<line x1="1375.33" y1="832.7" x2="1375.33" y2="852.7" stroke="#17181c" stroke-width="1.8" />
<line x1="1368.53" y1="832.7" x2="1382.13" y2="832.7" stroke="#17181c" stroke-width="1.8" />
<line x1="1368.53" y1="852.7" x2="1382.13" y2="852.7" stroke="#17181c" stroke-width="1.8" />
<polyline points="987.24,976.7 1084.26,959.36 1181.29,929.42 1278.31,888.62 1375.33,843.76" fill="none" stroke="#17181c" stroke-width="1.8" stroke-linejoin="round" />
<polygon points="987.24,989.62 993.99,977.07 980.49,977.07" fill="#ff12ac"/>
<polygon points="1084.26,989.62 1091.01,977.07 1077.51,977.07" fill="#ff12ac"/>
<polygon points="1181.29,989.62 1188.04,977.07 1174.54,977.07" fill="#ff12ac"/>
<polygon points="1278.31,989.62 1285.06,977.07 1271.56,977.07" fill="#ff12ac"/>
<polygon points="1375.33,983.42 1382.08,970.87 1368.58,970.87" fill="#ff12ac"/>
<polygon points="987.24,968.63 994.24,981.65 980.24,981.65" fill="#17181c"/>
<polygon points="1084.26,951.29 1091.26,964.31 1077.26,964.31" fill="#17181c"/>
<polygon points="1181.29,921.34 1188.29,934.36 1174.29,934.36" fill="#17181c"/>
<polygon points="1278.31,880.55 1285.31,893.57 1271.31,893.57" fill="#17181c"/>
<polygon points="1375.33,835.69 1382.33,848.71 1368.33,848.71" fill="#17181c"/>
<line x1="945.8" y1="680.8" x2="981.3" y2="680.8" stroke="#17181c" stroke-width="1.8" />
<polygon points="964,672.73 971,685.75 957,685.75" fill="#17181c"/>
<text x="1001" y="689.8" font-size="28.4" text-anchor="start" fill="#17181c">NVS-STG2</text>
<line x1="945.8" y1="726.4" x2="981.3" y2="726.4" stroke="#db2a93" stroke-width="1.8" />
<polygon points="964,734.18 970.75,721.63 957.25,721.63" fill="#ff12ac"/>
<text x="1001" y="735.4" font-size="28.4" text-anchor="start" fill="#17181c">2',3'-cGAMP</text>
<line x1="1633.7" y1="651.1" x2="1633.7" y2="992.9" stroke="#17181c" stroke-width="3.2" />
<line x1="1619.7" y1="991.3" x2="2144.3" y2="991.3" stroke="#17181c" stroke-width="3.2" />
<line x1="1619.7" y1="701.02" x2="1633.7" y2="701.02" stroke="#17181c" stroke-width="3.2" />
<text x="1614.4" y="709.62" font-size="25" font-weight="bold" text-anchor="end" fill="#17181c">300000</text>
<line x1="1619.7" y1="797.78" x2="1633.7" y2="797.78" stroke="#17181c" stroke-width="3.2" />
<text x="1614.4" y="806.38" font-size="25" font-weight="bold" text-anchor="end" fill="#17181c">200000</text>
<line x1="1619.7" y1="894.54" x2="1633.7" y2="894.54" stroke="#17181c" stroke-width="3.2" />
<text x="1614.4" y="903.14" font-size="25" font-weight="bold" text-anchor="end" fill="#17181c">100000</text>
<line x1="1619.7" y1="991.3" x2="1633.7" y2="991.3" stroke="#17181c" stroke-width="3.2" />
<text x="1614.4" y="999.9" font-size="25" font-weight="bold" text-anchor="end" fill="#17181c">0</text>
<line x1="1678.9" y1="991.3" x2="1678.9" y2="999.3" stroke="#17181c" stroke-width="3.2" />
<line x1="1700.79" y1="991.3" x2="1700.79" y2="999.3" stroke="#17181c" stroke-width="3.2" />
<line x1="1715.75" y1="991.3" x2="1715.75" y2="999.3" stroke="#17181c" stroke-width="3.2" />
<line x1="1727.56" y1="991.3" x2="1727.56" y2="999.3" stroke="#17181c" stroke-width="3.2" />
<line x1="1780.7" y1="991.3" x2="1780.7" y2="999.3" stroke="#17181c" stroke-width="3.2" />
<line x1="1802.59" y1="991.3" x2="1802.59" y2="999.3" stroke="#17181c" stroke-width="3.2" />
<line x1="1817.55" y1="991.3" x2="1817.55" y2="999.3" stroke="#17181c" stroke-width="3.2" />
<line x1="1829.36" y1="991.3" x2="1829.36" y2="999.3" stroke="#17181c" stroke-width="3.2" />
<line x1="1882.5" y1="991.3" x2="1882.5" y2="999.3" stroke="#17181c" stroke-width="3.2" />
<line x1="1904.39" y1="991.3" x2="1904.39" y2="999.3" stroke="#17181c" stroke-width="3.2" />
<line x1="1919.35" y1="991.3" x2="1919.35" y2="999.3" stroke="#17181c" stroke-width="3.2" />
<line x1="1931.16" y1="991.3" x2="1931.16" y2="999.3" stroke="#17181c" stroke-width="3.2" />
<line x1="1984.3" y1="991.3" x2="1984.3" y2="999.3" stroke="#17181c" stroke-width="3.2" />
<line x1="2006.19" y1="991.3" x2="2006.19" y2="999.3" stroke="#17181c" stroke-width="3.2" />
<line x1="2021.15" y1="991.3" x2="2021.15" y2="999.3" stroke="#17181c" stroke-width="3.2" />
<line x1="2032.96" y1="991.3" x2="2032.96" y2="999.3" stroke="#17181c" stroke-width="3.2" />
<line x1="2086.1" y1="991.3" x2="2086.1" y2="999.3" stroke="#17181c" stroke-width="3.2" />
<line x1="2107.99" y1="991.3" x2="2107.99" y2="999.3" stroke="#17181c" stroke-width="3.2" />
<line x1="2122.95" y1="991.3" x2="2122.95" y2="999.3" stroke="#17181c" stroke-width="3.2" />
<line x1="2134.76" y1="991.3" x2="2134.76" y2="999.3" stroke="#17181c" stroke-width="3.2" />
<line x1="1633.7" y1="991.3" x2="1633.7" y2="1005.3" stroke="#17181c" stroke-width="3.2" />
<text x="1633.7" y="1033.2" font-size="25" font-weight="bold" text-anchor="middle" fill="#17181c">-1.5</text>
<line x1="1735.5" y1="991.3" x2="1735.5" y2="1005.3" stroke="#17181c" stroke-width="3.2" />
<text x="1735.5" y="1033.2" font-size="25" font-weight="bold" text-anchor="middle" fill="#17181c">-1.0</text>
<line x1="1837.3" y1="991.3" x2="1837.3" y2="1005.3" stroke="#17181c" stroke-width="3.2" />
<text x="1837.3" y="1033.2" font-size="25" font-weight="bold" text-anchor="middle" fill="#17181c">-0.5</text>
<line x1="1939.1" y1="991.3" x2="1939.1" y2="1005.3" stroke="#17181c" stroke-width="3.2" />
<text x="1939.1" y="1033.2" font-size="25" font-weight="bold" text-anchor="middle" fill="#17181c">0.0</text>
<line x1="2040.9" y1="991.3" x2="2040.9" y2="1005.3" stroke="#17181c" stroke-width="3.2" />
<text x="2040.9" y="1033.2" font-size="25" font-weight="bold" text-anchor="middle" fill="#17181c">0.5</text>
<line x1="2142.7" y1="991.3" x2="2142.7" y2="1005.3" stroke="#17181c" stroke-width="3.2" />
<text x="2142.7" y="1033.2" font-size="25" font-weight="bold" text-anchor="middle" fill="#17181c">1.0</text>
<text x="1887.7" y="1071.1" font-size="28.4" font-weight="bold" text-anchor="middle" fill="#17181c">Log (<tspan font-family="'Liberation Serif', 'Times New Roman', serif" font-weight="normal">&#956;</tspan>M)</text>
<text x="1514.6" y="820.4" font-size="28.4" font-weight="bold" text-anchor="middle" fill="#17181c" transform="rotate(-90 1514.6 820.4)">Reporter Activity</text>
<text x="1891.3" y="609" font-size="32.7" font-weight="bold" text-anchor="middle" fill="#17181c">R238A STING</text>
<polyline points="1702.11,973.69 1799.23,973.01 1896.34,971.37 1993.46,968.75 2090.58,956.18" fill="none" stroke="#db2a93" stroke-width="1.8" stroke-linejoin="round" />
<line x1="1896.34" y1="896" x2="1896.34" y2="909.5" stroke="#17181c" stroke-width="1.8" />
<line x1="1889.54" y1="896" x2="1903.14" y2="896" stroke="#17181c" stroke-width="1.8" />
<line x1="1889.54" y1="909.5" x2="1903.14" y2="909.5" stroke="#17181c" stroke-width="1.8" />
<line x1="1993.46" y1="856.6" x2="1993.46" y2="879.4" stroke="#17181c" stroke-width="1.8" />
<line x1="1986.66" y1="856.6" x2="2000.26" y2="856.6" stroke="#17181c" stroke-width="1.8" />
<line x1="1986.66" y1="879.4" x2="2000.26" y2="879.4" stroke="#17181c" stroke-width="1.8" />
<line x1="2090.58" y1="808.7" x2="2090.58" y2="840.7" stroke="#17181c" stroke-width="1.8" />
<line x1="2083.78" y1="808.7" x2="2097.38" y2="808.7" stroke="#17181c" stroke-width="1.8" />
<line x1="2083.78" y1="840.7" x2="2097.38" y2="840.7" stroke="#17181c" stroke-width="1.8" />
<polyline points="1702.11,964.98 1799.23,945.82 1896.34,902.76 1993.46,867.74 2090.58,824.68" fill="none" stroke="#17181c" stroke-width="1.8" stroke-linejoin="round" />
<circle cx="1702.11" cy="973.69" r="7.5" fill="#ff12ac"/>
<circle cx="1799.23" cy="973.01" r="7.5" fill="#ff12ac"/>
<circle cx="1896.34" cy="971.37" r="7.5" fill="#ff12ac"/>
<circle cx="1993.46" cy="968.75" r="7.5" fill="#ff12ac"/>
<circle cx="2090.58" cy="956.18" r="7.5" fill="#ff12ac"/>
<polygon points="1702.11,956.3 1709.11,964.98 1702.11,973.66 1695.11,964.98" fill="#17181c"/>
<polygon points="1799.23,937.14 1806.23,945.82 1799.23,954.5 1792.23,945.82" fill="#17181c"/>
<polygon points="1896.34,894.08 1903.34,902.76 1896.34,911.44 1889.34,902.76" fill="#17181c"/>
<polygon points="1993.46,859.06 2000.46,867.74 1993.46,876.42 1986.46,867.74" fill="#17181c"/>
<polygon points="2090.58,816 2097.58,824.68 2090.58,833.36 2083.58,824.68" fill="#17181c"/>
<line x1="1659.6" y1="676.4" x2="1696" y2="676.4" stroke="#17181c" stroke-width="1.8" />
<polygon points="1677.4,667.72 1684.4,676.4 1677.4,685.08 1670.4,676.4" fill="#17181c"/>
<text x="1715" y="685.4" font-size="28.4" text-anchor="start" fill="#17181c">NVS-STG2</text>
<line x1="1659.6" y1="721.8" x2="1696" y2="721.8" stroke="#db2a93" stroke-width="1.8" />
<circle cx="1677.4" cy="721.8" r="7.5" fill="#ff12ac"/>
<text x="1715" y="730.8" font-size="28.4" text-anchor="start" fill="#17181c">2',3'-cGAMP</text>
<text x="0" y="1230.4" font-size="56" font-weight="bold" text-anchor="start" fill="#17181c">e</text>
<text x="396.2" y="1240.4" font-size="32.7" font-weight="bold" text-anchor="middle" fill="#17181c">2&#8217;,3&#8217;-cGAMP</text>
<line x1="99.22" y1="1282.4" x2="99.22" y2="1658.9" stroke="#17181c" stroke-width="4.2" />
<line x1="85.6" y1="1656.8" x2="694.6" y2="1656.8" stroke="#17181c" stroke-width="4.2" />
<line x1="85.6" y1="1656.8" x2="99.22" y2="1656.8" stroke="#17181c" stroke-width="4.2" />
<line x1="85.6" y1="1487.55" x2="99.22" y2="1487.55" stroke="#17181c" stroke-width="4.2" />
<line x1="85.6" y1="1318.3" x2="99.22" y2="1318.3" stroke="#17181c" stroke-width="4.2" />
<line x1="90.5" y1="1572.17" x2="99.22" y2="1572.17" stroke="#17181c" stroke-width="4.2" />
<line x1="90.5" y1="1402.92" x2="99.22" y2="1402.92" stroke="#17181c" stroke-width="4.2" />
<text x="79.8" y="1327.9" font-size="25" font-weight="bold" text-anchor="end" fill="#17181c">100</text>
<text x="79.8" y="1497.15" font-size="25" font-weight="bold" text-anchor="end" fill="#17181c">50</text>
<text x="79.8" y="1666.6" font-size="25" font-weight="bold" text-anchor="end" fill="#17181c">0</text>
<line x1="136.3" y1="1656.8" x2="136.3" y2="1673.6" stroke="#17181c" stroke-width="4.2" />
<text x="136.3" y="1700.5" font-size="25" font-weight="bold" text-anchor="middle" fill="#17181c">-1</text>
<line x1="321.7" y1="1656.8" x2="321.7" y2="1673.6" stroke="#17181c" stroke-width="4.2" />
<text x="321.7" y="1700.5" font-size="25" font-weight="bold" text-anchor="middle" fill="#17181c">0</text>
<line x1="507.1" y1="1656.8" x2="507.1" y2="1673.6" stroke="#17181c" stroke-width="4.2" />
<text x="507.1" y="1700.5" font-size="25" font-weight="bold" text-anchor="middle" fill="#17181c">1</text>
<line x1="692.5" y1="1656.8" x2="692.5" y2="1673.6" stroke="#17181c" stroke-width="4.2" />
<text x="692.5" y="1700.5" font-size="25" font-weight="bold" text-anchor="middle" fill="#17181c">2</text>
<line x1="229" y1="1656.8" x2="229" y2="1666.5" stroke="#17181c" stroke-width="4.2" />
<line x1="414.4" y1="1656.8" x2="414.4" y2="1666.5" stroke="#17181c" stroke-width="4.2" />
<line x1="599.8" y1="1656.8" x2="599.8" y2="1666.5" stroke="#17181c" stroke-width="4.2" />
<text x="402.8" y="1740.7" font-size="25.8" font-weight="bold" text-anchor="middle" fill="#17181c">Log (<tspan font-family="'Liberation Serif', 'Times New Roman', serif" font-weight="normal">&#956;</tspan>M)</text>
<text x="39.6" y="1469.6" font-size="27.9" font-weight="bold" text-anchor="middle" fill="#17181c" transform="rotate(-90 39.6 1469.6)">% Max Activity</text>
<polyline points="136.3,1654.11 138.82,1654.1 141.35,1654.1 143.87,1654.1 146.4,1654.09 148.92,1654.09 151.44,1654.09 153.97,1654.09 156.49,1654.08 159.01,1654.08 161.54,1654.07 164.06,1654.07 166.59,1654.07 169.11,1654.06 171.63,1654.06 174.16,1654.05 176.68,1654.04 179.21,1654.04 181.73,1654.03 184.25,1654.03 186.78,1654.02 189.3,1654.01 191.82,1654.01 194.35,1654 196.87,1653.99 199.4,1653.98 201.92,1653.97 204.44,1653.96 206.97,1653.95 209.49,1653.94 212.02,1653.93 214.54,1653.92 217.06,1653.9 219.59,1653.89 222.11,1653.87 224.64,1653.86 227.16,1653.84 229.68,1653.83 232.21,1653.81 234.73,1653.79 237.25,1653.77 239.78,1653.75 242.3,1653.73 244.83,1653.7 247.35,1653.68 249.87,1653.65 252.4,1653.62 254.92,1653.6 257.45,1653.57 259.97,1653.53 262.49,1653.5 265.02,1653.46 267.54,1653.43 270.06,1653.39 272.59,1653.34 275.11,1653.3 277.64,1653.25 280.16,1653.2 282.68,1653.15 285.21,1653.09 287.73,1653.04 290.26,1652.98 292.78,1652.91 295.3,1652.84 297.83,1652.77 300.35,1652.69 302.87,1652.61 305.4,1652.53 307.92,1652.44 310.45,1652.35 312.97,1652.25 315.49,1652.14 318.02,1652.03 320.54,1651.92 323.07,1651.79 325.59,1651.66 328.11,1651.53 330.64,1651.38 333.16,1651.23 335.69,1651.07 338.21,1650.9 340.73,1650.73 343.26,1650.54 345.78,1650.34 348.3,1650.13 350.83,1649.91 353.35,1649.68 355.88,1649.44 358.4,1649.18 360.92,1648.91 363.45,1648.62 365.97,1648.32 368.5,1648.01 371.02,1647.67 373.54,1647.32 376.07,1646.95 378.59,1646.56 381.11,1646.15 383.64,1645.71 386.16,1645.26 388.69,1644.78 391.21,1644.27 393.73,1643.74 396.26,1643.18 398.78,1642.59 401.31,1641.97 403.83,1641.32 406.35,1640.64 408.88,1639.92 411.4,1639.16 413.92,1638.37 416.45,1637.53 418.97,1636.65 421.5,1635.73 424.02,1634.76 426.54,1633.74 429.07,1632.68 431.59,1631.56 434.12,1630.38 436.64,1629.15 439.16,1627.86 441.69,1626.51 444.21,1625.09 446.74,1623.61 449.26,1622.05 451.78,1620.43 454.31,1618.73 456.83,1616.95 459.35,1615.1 461.88,1613.16 464.4,1611.14 466.93,1609.03 469.45,1606.83 471.97,1604.54 474.5,1602.15 477.02,1599.67 479.55,1597.09 482.07,1594.4 484.59,1591.62 487.12,1588.73 489.64,1585.73 492.16,1582.62 494.69,1579.4 497.21,1576.08 499.74,1572.64 502.26,1569.09 504.78,1565.43 507.31,1561.66 509.83,1557.78 512.36,1553.78 514.88,1549.68 517.4,1545.47 519.93,1541.16 522.45,1536.75 524.97,1532.23 527.5,1527.62 530.02,1522.91 532.55,1518.12 535.07,1513.25 537.59,1508.29 540.12,1503.27 542.64,1498.17 545.17,1493.01 547.69,1487.8 550.21,1482.55 552.74,1477.25 555.26,1471.91 557.79,1466.55 560.31,1461.18 562.83,1455.79 565.36,1450.39 567.88,1445.01 570.4,1439.63 572.93,1434.28 575.45,1428.95 577.98,1423.66 580.5,1418.41 583.02,1413.21 585.55,1408.07 588.07,1402.99 590.6,1397.97 593.12,1393.03 595.64,1388.18 598.17,1383.4 600.69,1378.72 603.21,1374.13 605.74,1369.63 608.26,1365.24 610.79,1360.94 613.31,1356.76 615.83,1352.68 618.36,1348.71 620.88,1344.85 623.41,1341.1 625.93,1337.46 628.45,1333.94 630.98,1330.52 633.5,1327.22 636.02,1324.03 638.55,1320.94" fill="none" stroke="#17181c" stroke-width="1.6" stroke-linejoin="round" />
<polyline points="136.3,1654.52 138.82,1654.52 141.35,1654.52 143.87,1654.52 146.4,1654.52 148.92,1654.52 151.44,1654.52 153.97,1654.52 156.49,1654.52 159.01,1654.52 161.54,1654.52 164.06,1654.52 166.59,1654.52 169.11,1654.51 171.63,1654.51 174.16,1654.51 176.68,1654.51 179.21,1654.51 181.73,1654.51 184.25,1654.51 186.78,1654.5 189.3,1654.5 191.82,1654.5 194.35,1654.5 196.87,1654.5 199.4,1654.49 201.92,1654.49 204.44,1654.49 206.97,1654.48 209.49,1654.48 212.02,1654.48 214.54,1654.47 217.06,1654.47 219.59,1654.47 222.11,1654.46 224.64,1654.46 227.16,1654.45 229.68,1654.45 232.21,1654.44 234.73,1654.44 237.25,1654.43 239.78,1654.42 242.3,1654.42 244.83,1654.41 247.35,1654.4 249.87,1654.39 252.4,1654.38 254.92,1654.37 257.45,1654.36 259.97,1654.35 262.49,1654.34 265.02,1654.32 267.54,1654.31 270.06,1654.3 272.59,1654.28 275.11,1654.26 277.64,1654.24 280.16,1654.23 282.68,1654.21 285.21,1654.18 287.73,1654.16 290.26,1654.14 292.78,1654.11 295.3,1654.08 297.83,1654.05 300.35,1654.02 302.87,1653.99 305.4,1653.95 307.92,1653.91 310.45,1653.87 312.97,1653.83 315.49,1653.78 318.02,1653.73 320.54,1653.68 323.07,1653.62 325.59,1653.56 328.11,1653.5 330.64,1653.43 333.16,1653.35 335.69,1653.28 338.21,1653.19 340.73,1653.11 343.26,1653.01 345.78,1652.91 348.3,1652.8 350.83,1652.69 353.35,1652.57 355.88,1652.44 358.4,1652.3 360.92,1652.15 363.45,1652 365.97,1651.83 368.5,1651.65 371.02,1651.46 373.54,1651.26 376.07,1651.04 378.59,1650.81 381.11,1650.57 383.64,1650.31 386.16,1650.03 388.69,1649.74 391.21,1649.43 393.73,1649.09 396.26,1648.74 398.78,1648.36 401.31,1647.96 403.83,1647.53 406.35,1647.07 408.88,1646.59 411.4,1646.07 413.92,1645.52 416.45,1644.94 418.97,1644.32 421.5,1643.66 424.02,1642.96 426.54,1642.22 429.07,1641.43 431.59,1640.6 434.12,1639.71 436.64,1638.76 439.16,1637.76 441.69,1636.7 444.21,1635.58 446.74,1634.39 449.26,1633.12 451.78,1631.79 454.31,1630.37 456.83,1628.88 459.35,1627.3 461.88,1625.63 464.4,1623.86 466.93,1622 469.45,1620.04 471.97,1617.97 474.5,1615.78 477.02,1613.49 479.55,1611.07 482.07,1608.54 484.59,1605.87 487.12,1603.08 489.64,1600.15 492.16,1597.08 494.69,1593.87 497.21,1590.51 499.74,1587.01 502.26,1583.36 504.78,1579.56 507.31,1575.61 509.83,1571.51 512.36,1567.25 514.88,1562.84 517.4,1558.28 519.93,1553.57 522.45,1548.72 524.97,1543.72 527.5,1538.59 530.02,1533.32 532.55,1527.93 535.07,1522.42 537.59,1516.8 540.12,1511.07 542.64,1505.25 545.17,1499.34 547.69,1493.36 550.21,1487.32 552.74,1481.23 555.26,1475.1 557.79,1468.95 560.31,1462.78 562.83,1456.6 565.36,1450.45 567.88,1444.31 570.4,1438.21 572.93,1432.16 575.45,1426.18 577.98,1420.26 580.5,1414.43 583.02,1408.68 585.55,1403.04 588.07,1397.52 590.6,1392.1 593.12,1386.82 595.64,1381.67 598.17,1376.65 600.69,1371.78 603.21,1367.05 605.74,1362.46 608.26,1358.03 610.79,1353.75 613.31,1349.63 615.83,1345.65 618.36,1341.83 620.88,1338.16 623.41,1334.63 625.93,1331.26 628.45,1328.03 630.98,1324.94 633.5,1321.99 636.02,1319.17 638.55,1316.49" fill="none" stroke="#17181c" stroke-width="1.6" stroke-linejoin="round" />
<polyline points="136.3,1655.86 138.82,1655.86 141.35,1655.86 143.87,1655.85 146.4,1655.85 148.92,1655.85 151.44,1655.85 153.97,1655.84 156.49,1655.84 159.01,1655.84 161.54,1655.84 164.06,1655.83 166.59,1655.83 169.11,1655.83 171.63,1655.82 174.16,1655.82 176.68,1655.81 179.21,1655.81 181.73,1655.8 184.25,1655.8 186.78,1655.79 189.3,1655.79 191.82,1655.78 194.35,1655.77 196.87,1655.77 199.4,1655.76 201.92,1655.75 204.44,1655.74 206.97,1655.73 209.49,1655.73 212.02,1655.72 214.54,1655.7 217.06,1655.69 219.59,1655.68 222.11,1655.67 224.64,1655.66 227.16,1655.64 229.68,1655.63 232.21,1655.61 234.73,1655.59 237.25,1655.58 239.78,1655.56 242.3,1655.54 244.83,1655.51 247.35,1655.49 249.87,1655.47 252.4,1655.44 254.92,1655.41 257.45,1655.39 259.97,1655.36 262.49,1655.32 265.02,1655.29 267.54,1655.25 270.06,1655.21 272.59,1655.17 275.11,1655.13 277.64,1655.08 280.16,1655.03 282.68,1654.98 285.21,1654.93 287.73,1654.87 290.26,1654.81 292.78,1654.74 295.3,1654.67 297.83,1654.6 300.35,1654.52 302.87,1654.44 305.4,1654.35 307.92,1654.26 310.45,1654.16 312.97,1654.05 315.49,1653.94 318.02,1653.82 320.54,1653.7 323.07,1653.57 325.59,1653.43 328.11,1653.28 330.64,1653.12 333.16,1652.95 335.69,1652.78 338.21,1652.59 340.73,1652.39 343.26,1652.18 345.78,1651.96 348.3,1651.72 350.83,1651.47 353.35,1651.21 355.88,1650.93 358.4,1650.63 360.92,1650.31 363.45,1649.98 365.97,1649.63 368.5,1649.25 371.02,1648.86 373.54,1648.44 376.07,1647.99 378.59,1647.52 381.11,1647.03 383.64,1646.5 386.16,1645.94 388.69,1645.35 391.21,1644.73 393.73,1644.07 396.26,1643.38 398.78,1642.64 401.31,1641.87 403.83,1641.05 406.35,1640.18 408.88,1639.27 411.4,1638.3 413.92,1637.28 416.45,1636.21 418.97,1635.07 421.5,1633.88 424.02,1632.62 426.54,1631.29 429.07,1629.89 431.59,1628.42 434.12,1626.87 436.64,1625.25 439.16,1623.53 441.69,1621.74 444.21,1619.85 446.74,1617.86 449.26,1615.78 451.78,1613.6 454.31,1611.32 456.83,1608.93 459.35,1606.42 461.88,1603.81 464.4,1601.07 466.93,1598.22 469.45,1595.24 471.97,1592.14 474.5,1588.91 477.02,1585.55 479.55,1582.06 482.07,1578.44 484.59,1574.68 487.12,1570.79 489.64,1566.76 492.16,1562.6 494.69,1558.3 497.21,1553.88 499.74,1549.32 502.26,1544.63 504.78,1539.81 507.31,1534.88 509.83,1529.82 512.36,1524.65 514.88,1519.38 517.4,1514 519.93,1508.53 522.45,1502.97 524.97,1497.33 527.5,1491.62 530.02,1485.85 532.55,1480.02 535.07,1474.15 537.59,1468.24 540.12,1462.31 542.64,1456.36 545.17,1450.41 547.69,1444.47 550.21,1438.54 552.74,1432.64 555.26,1426.78 557.79,1420.96 560.31,1415.2 562.83,1409.5 565.36,1403.88 567.88,1398.34 570.4,1392.89 572.93,1387.54 575.45,1382.28 577.98,1377.14 580.5,1372.11 583.02,1367.2 585.55,1362.42 588.07,1357.76 590.6,1353.22 593.12,1348.82 595.64,1344.56 598.17,1340.43 600.69,1336.43 603.21,1332.57 605.74,1328.84 608.26,1325.24 610.79,1321.78 613.31,1318.45 615.83,1315.25 618.36,1312.18 620.88,1309.23 623.41,1306.4 625.93,1303.7 628.45,1301.11 630.98,1298.63 633.5,1296.26 636.02,1294 638.55,1291.84" fill="none" stroke="#17181c" stroke-width="1.6" stroke-linejoin="round" />
<line x1="638.55" y1="1304.76" x2="638.55" y2="1336.92" stroke="#17181c" stroke-width="1.6" />
<line x1="632.55" y1="1304.76" x2="644.55" y2="1304.76" stroke="#17181c" stroke-width="1.6" />
<line x1="632.55" y1="1336.92" x2="644.55" y2="1336.92" stroke="#17181c" stroke-width="1.6" />
<line x1="582.74" y1="1399.54" x2="582.74" y2="1416.46" stroke="#17181c" stroke-width="1.6" />
<line x1="576.74" y1="1399.54" x2="588.74" y2="1399.54" stroke="#17181c" stroke-width="1.6" />
<line x1="576.74" y1="1416.46" x2="588.74" y2="1416.46" stroke="#17181c" stroke-width="1.6" />
<line x1="526.94" y1="1518.01" x2="526.94" y2="1534.94" stroke="#17181c" stroke-width="1.6" />
<line x1="520.94" y1="1518.01" x2="532.94" y2="1518.01" stroke="#17181c" stroke-width="1.6" />
<line x1="520.94" y1="1534.94" x2="532.94" y2="1534.94" stroke="#17181c" stroke-width="1.6" />
<circle cx="136.3" cy="1655.78" r="6.3" fill="none" stroke="#17181c" stroke-width="3"/>
<circle cx="192.11" cy="1655.78" r="6.3" fill="none" stroke="#17181c" stroke-width="3"/>
<circle cx="247.91" cy="1655.11" r="6.3" fill="none" stroke="#17181c" stroke-width="3"/>
<circle cx="303.72" cy="1654.09" r="6.3" fill="none" stroke="#17181c" stroke-width="3"/>
<circle cx="359.52" cy="1651.38" r="6.3" fill="none" stroke="#17181c" stroke-width="3"/>
<circle cx="415.33" cy="1638.18" r="6.3" fill="none" stroke="#17181c" stroke-width="3"/>
<circle cx="471.13" cy="1589.78" r="6.3" fill="none" stroke="#17181c" stroke-width="3"/>
<circle cx="526.94" cy="1495.67" r="6.3" fill="none" stroke="#17181c" stroke-width="3"/>
<circle cx="582.74" cy="1365.69" r="6.3" fill="none" stroke="#17181c" stroke-width="3"/>
<circle cx="638.55" cy="1292.57" r="6.3" fill="none" stroke="#17181c" stroke-width="3"/>
<rect x="129.55" y="1649.03" width="13.5" height="13.5" fill="#17181c"/>
<rect x="185.36" y="1649.03" width="13.5" height="13.5" fill="#17181c"/>
<rect x="241.16" y="1648.36" width="13.5" height="13.5" fill="#17181c"/>
<rect x="296.97" y="1647.34" width="13.5" height="13.5" fill="#17181c"/>
<rect x="352.77" y="1645.99" width="13.5" height="13.5" fill="#17181c"/>
<rect x="408.58" y="1635.83" width="13.5" height="13.5" fill="#17181c"/>
<rect x="464.38" y="1608.08" width="13.5" height="13.5" fill="#17181c"/>
<rect x="520.19" y="1537.67" width="13.5" height="13.5" fill="#17181c"/>
<rect x="575.99" y="1399.9" width="13.5" height="13.5" fill="#17181c"/>
<rect x="631.8" y="1310.87" width="13.5" height="13.5" fill="#17181c"/>
<circle cx="136.3" cy="1655.45" r="7.5" fill="#17181c"/>
<circle cx="192.11" cy="1655.11" r="7.5" fill="#17181c"/>
<circle cx="247.91" cy="1654.09" r="7.5" fill="#17181c"/>
<circle cx="303.72" cy="1652.74" r="7.5" fill="#17181c"/>
<circle cx="359.52" cy="1645.97" r="7.5" fill="#17181c"/>
<circle cx="415.33" cy="1632.77" r="7.5" fill="#17181c"/>
<circle cx="471.13" cy="1609.75" r="7.5" fill="#17181c"/>
<circle cx="526.94" cy="1527.49" r="7.5" fill="#17181c"/>
<circle cx="582.74" cy="1413.42" r="7.5" fill="#17181c"/>
<circle cx="638.55" cy="1321.01" r="7.5" fill="#17181c"/>
<line x1="127" y1="1325" x2="162.9" y2="1325" stroke="#17181c" stroke-width="1.8" />
<circle cx="145" cy="1325" r="7.25" fill="#17181c"/>
<text x="182.6" y="1334" font-size="25.7" font-weight="bold" text-anchor="start" fill="#17181c">hSTING</text>
<line x1="127" y1="1372.1" x2="162.9" y2="1372.1" stroke="#17181c" stroke-width="1.8" />
<rect x="138.25" y="1365.35" width="13.5" height="13.5" fill="#17181c"/>
<text x="182.6" y="1381.1" font-size="25.7" font-weight="bold" text-anchor="start" fill="#17181c">mSTING</text>
<line x1="127" y1="1419.1" x2="162.9" y2="1419.1" stroke="#17181c" stroke-width="1.8" />
<circle cx="145" cy="1419.1" r="6.3" fill="none" stroke="#17181c" stroke-width="3"/>
<text x="182.6" y="1428.1" font-size="25.7" font-weight="bold" text-anchor="start" fill="#17181c">h(1-153)/m(153-378)STING</text>
<text x="719.5" y="1243.4" font-size="56" font-weight="bold" text-anchor="start" fill="#17181c">f</text>
<text x="1111" y="1221.8" font-size="32.7" font-weight="bold" text-anchor="middle" fill="#17181c">DMXAA</text>
<line x1="812.66" y1="1264" x2="812.66" y2="1640.3" stroke="#17181c" stroke-width="4.2" />
<line x1="798.66" y1="1638.2" x2="1408.48" y2="1638.2" stroke="#17181c" stroke-width="4.2" />
<line x1="798.66" y1="1638.2" x2="812.66" y2="1638.2" stroke="#17181c" stroke-width="4.2" />
<line x1="798.66" y1="1482.7" x2="812.66" y2="1482.7" stroke="#17181c" stroke-width="4.2" />
<line x1="798.66" y1="1327.2" x2="812.66" y2="1327.2" stroke="#17181c" stroke-width="4.2" />
<line x1="803.66" y1="1560.45" x2="812.66" y2="1560.45" stroke="#17181c" stroke-width="4.2" />
<line x1="803.66" y1="1404.95" x2="812.66" y2="1404.95" stroke="#17181c" stroke-width="4.2" />
<text x="793.5" y="1335.8" font-size="25" font-weight="bold" text-anchor="end" fill="#17181c">100</text>
<text x="793.5" y="1491.3" font-size="25" font-weight="bold" text-anchor="end" fill="#17181c">50</text>
<text x="793.5" y="1646.8" font-size="25" font-weight="bold" text-anchor="end" fill="#17181c">0</text>
<line x1="851.1" y1="1638.2" x2="851.1" y2="1654.2" stroke="#17181c" stroke-width="4.2" />
<text x="851.1" y="1681.9" font-size="25" font-weight="bold" text-anchor="middle" fill="#17181c">0</text>
<line x1="1043.3" y1="1638.2" x2="1043.3" y2="1654.2" stroke="#17181c" stroke-width="4.2" />
<text x="1043.3" y="1681.9" font-size="25" font-weight="bold" text-anchor="middle" fill="#17181c">1</text>
<line x1="1235.5" y1="1638.2" x2="1235.5" y2="1654.2" stroke="#17181c" stroke-width="4.2" />
<text x="1235.5" y="1681.9" font-size="25" font-weight="bold" text-anchor="middle" fill="#17181c">2</text>
<line x1="947.2" y1="1638.2" x2="947.2" y2="1647.2" stroke="#17181c" stroke-width="4.2" />
<line x1="1139.4" y1="1638.2" x2="1139.4" y2="1647.2" stroke="#17181c" stroke-width="4.2" />
<line x1="1331.6" y1="1638.2" x2="1331.6" y2="1647.2" stroke="#17181c" stroke-width="4.2" />
<text x="1115.3" y="1722.9" font-size="28.4" font-weight="bold" text-anchor="middle" fill="#17181c">Log (<tspan font-family="'Liberation Serif', 'Times New Roman', serif" font-weight="normal">&#956;</tspan>M)</text>
<text x="746" y="1451.5" font-size="28.4" font-weight="bold" text-anchor="middle" fill="#17181c" transform="rotate(-90 746 1451.5)">% Max Activity</text>
<polyline points="851.1,1638.2 852.84,1638.2 854.58,1638.2 856.32,1638.2 858.07,1638.2 859.81,1638.2 861.55,1638.2 863.29,1638.2 865.03,1638.2 866.77,1638.19 868.51,1638.19 870.26,1638.19 872,1638.19 873.74,1638.19 875.48,1638.19 877.22,1638.19 878.96,1638.19 880.7,1638.19 882.44,1638.19 884.19,1638.19 885.93,1638.18 887.67,1638.18 889.41,1638.18 891.15,1638.18 892.89,1638.18 894.63,1638.17 896.38,1638.17 898.12,1638.17 899.86,1638.17 901.6,1638.16 903.34,1638.16 905.08,1638.15 906.82,1638.15 908.57,1638.15 910.31,1638.14 912.05,1638.13 913.79,1638.13 915.53,1638.12 917.27,1638.11 919.01,1638.1 920.75,1638.09 922.5,1638.08 924.24,1638.07 925.98,1638.06 927.72,1638.04 929.46,1638.03 931.2,1638.01 932.94,1637.99 934.69,1637.97 936.43,1637.94 938.17,1637.92 939.91,1637.89 941.65,1637.86 943.39,1637.83 945.13,1637.79 946.88,1637.75 948.62,1637.7 950.36,1637.65 952.1,1637.6 953.84,1637.53 955.58,1637.47 957.32,1637.39 959.06,1637.31 960.81,1637.22 962.55,1637.13 964.29,1637.02 966.03,1636.9 967.77,1636.77 969.51,1636.63 971.25,1636.47 973,1636.3 974.74,1636.1 976.48,1635.9 978.22,1635.67 979.96,1635.41 981.7,1635.13 983.44,1634.83 985.19,1634.49 986.93,1634.12 988.67,1633.72 990.41,1633.28 992.15,1632.79 993.89,1632.25 995.63,1631.67 997.38,1631.03 999.12,1630.32 1000.86,1629.55 1002.6,1628.7 1004.34,1627.78 1006.08,1626.77 1007.82,1625.66 1009.56,1624.46 1011.31,1623.14 1013.05,1621.7 1014.79,1620.14 1016.53,1618.43 1018.27,1616.58 1020.01,1614.57 1021.75,1612.38 1023.5,1610.02 1025.24,1607.46 1026.98,1604.7 1028.72,1601.72 1030.46,1598.51 1032.2,1595.07 1033.94,1591.37 1035.69,1587.42 1037.43,1583.21 1039.17,1578.73 1040.91,1573.97 1042.65,1568.94 1044.39,1563.63 1046.13,1558.05 1047.87,1552.2 1049.62,1546.1 1051.36,1539.75 1053.1,1533.17 1054.84,1526.39 1056.58,1519.41 1058.32,1512.28 1060.06,1505.01 1061.81,1497.64 1063.55,1490.2 1065.29,1482.73 1067.03,1475.25 1068.77,1467.8 1070.51,1460.42 1072.25,1453.14 1074,1445.98 1075.74,1438.99 1077.48,1432.17 1079.22,1425.57 1080.96,1419.19 1082.7,1413.05 1084.44,1407.17 1086.19,1401.55 1087.93,1396.21 1089.67,1391.14 1091.41,1386.35 1093.15,1381.83 1094.89,1377.58 1096.63,1373.6 1098.37,1369.87 1100.12,1366.4 1101.86,1363.16 1103.6,1360.15 1105.34,1357.36 1107.08,1354.77 1108.82,1352.38 1110.56,1350.18 1112.31,1348.14 1114.05,1346.27 1115.79,1344.55 1117.53,1342.96 1119.27,1341.51 1121.01,1340.18 1122.75,1338.96 1124.5,1337.84 1126.24,1336.81 1127.98,1335.88 1129.72,1335.02 1131.46,1334.24 1133.2,1333.53 1134.94,1332.88 1136.68,1332.29 1138.43,1331.75 1140.17,1331.25 1141.91,1330.8 1143.65,1330.39 1145.39,1330.02 1147.13,1329.68 1148.87,1329.37 1150.62,1329.09 1152.36,1328.83 1154.1,1328.6 1155.84,1328.39 1157.58,1328.2 1159.32,1328.02 1161.06,1327.86 1162.81,1327.72 1164.55,1327.58 1166.29,1327.46 1168.03,1327.35 1169.77,1327.26 1171.51,1327.16 1173.25,1327.08 1174.99,1327.01 1176.74,1326.94 1178.48,1326.88 1180.22,1326.82 1181.96,1326.77 1183.7,1326.73 1185.44,1326.68 1187.18,1326.65 1188.93,1326.61 1190.67,1326.58 1192.41,1326.55 1194.15,1326.53 1195.89,1326.5 1197.63,1326.48 1199.37,1326.46 1201.12,1326.44 1202.86,1326.43 1204.6,1326.41 1206.34,1326.4 1208.08,1326.39 1209.82,1326.38 1211.56,1326.37 1213.31,1326.36 1215.05,1326.35 1216.79,1326.34 1218.53,1326.33 1220.27,1326.33 1222.01,1326.32 1223.75,1326.32 1225.49,1326.31 1227.24,1326.31 1228.98,1326.3 1230.72,1326.3 1232.46,1326.3 1234.2,1326.3 1235.94,1326.29 1237.68,1326.29 1239.43,1326.29 1241.17,1326.29 1242.91,1326.28 1244.65,1326.28 1246.39,1326.28 1248.13,1326.28 1249.87,1326.28 1251.62,1326.28 1253.36,1326.28 1255.1,1326.28 1256.84,1326.28 1258.58,1326.27 1260.32,1326.27 1262.06,1326.27 1263.8,1326.27 1265.55,1326.27 1267.29,1326.27 1269.03,1326.27 1270.77,1326.27 1272.51,1326.27 1274.25,1326.27 1275.99,1326.27 1277.74,1326.27 1279.48,1326.27 1281.22,1326.27 1282.96,1326.27 1284.7,1326.27 1286.44,1326.27 1288.18,1326.27 1289.93,1326.27 1291.67,1326.27 1293.41,1326.27 1295.15,1326.27 1296.89,1326.27 1298.63,1326.27 1300.37,1326.27 1302.11,1326.27 1303.86,1326.27 1305.6,1326.27 1307.34,1326.27 1309.08,1326.27 1310.82,1326.27 1312.56,1326.27 1314.3,1326.27 1316.05,1326.27 1317.79,1326.27 1319.53,1326.27 1321.27,1326.27 1323.01,1326.27 1324.75,1326.27 1326.49,1326.27 1328.24,1326.27 1329.98,1326.27 1331.72,1326.27 1333.46,1326.27 1335.2,1326.27 1336.94,1326.27 1338.68,1326.27 1340.43,1326.27 1342.17,1326.27 1343.91,1326.27 1345.65,1326.27 1347.39,1326.27 1349.13,1326.27 1350.87,1326.27 1352.61,1326.27 1354.36,1326.27 1356.1,1326.27 1357.84,1326.27 1359.58,1326.27 1361.32,1326.27 1363.06,1326.27 1364.8,1326.27 1366.55,1326.27 1368.29,1326.27 1370.03,1326.27 1371.77,1326.27" fill="none" stroke="#17181c" stroke-width="1.6" stroke-linejoin="round" />
<polyline points="851.1,1638.2 852.84,1638.2 854.58,1638.2 856.32,1638.2 858.07,1638.2 859.81,1638.2 861.55,1638.2 863.29,1638.2 865.03,1638.2 866.77,1638.2 868.51,1638.2 870.26,1638.2 872,1638.2 873.74,1638.2 875.48,1638.2 877.22,1638.2 878.96,1638.2 880.7,1638.2 882.44,1638.2 884.19,1638.2 885.93,1638.2 887.67,1638.2 889.41,1638.2 891.15,1638.2 892.89,1638.2 894.63,1638.2 896.38,1638.2 898.12,1638.2 899.86,1638.2 901.6,1638.2 903.34,1638.2 905.08,1638.2 906.82,1638.2 908.57,1638.2 910.31,1638.2 912.05,1638.2 913.79,1638.2 915.53,1638.2 917.27,1638.2 919.01,1638.2 920.75,1638.2 922.5,1638.2 924.24,1638.2 925.98,1638.2 927.72,1638.2 929.46,1638.19 931.2,1638.19 932.94,1638.19 934.69,1638.19 936.43,1638.19 938.17,1638.19 939.91,1638.19 941.65,1638.19 943.39,1638.19 945.13,1638.19 946.88,1638.19 948.62,1638.18 950.36,1638.18 952.1,1638.18 953.84,1638.18 955.58,1638.18 957.32,1638.17 959.06,1638.17 960.81,1638.17 962.55,1638.16 964.29,1638.16 966.03,1638.15 967.77,1638.15 969.51,1638.14 971.25,1638.14 973,1638.13 974.74,1638.12 976.48,1638.12 978.22,1638.11 979.96,1638.1 981.7,1638.09 983.44,1638.07 985.19,1638.06 986.93,1638.04 988.67,1638.03 990.41,1638.01 992.15,1637.99 993.89,1637.97 995.63,1637.94 997.38,1637.91 999.12,1637.88 1000.86,1637.85 1002.6,1637.81 1004.34,1637.77 1006.08,1637.72 1007.82,1637.67 1009.56,1637.61 1011.31,1637.55 1013.05,1637.48 1014.79,1637.4 1016.53,1637.32 1018.27,1637.22 1020.01,1637.12 1021.75,1637 1023.5,1636.87 1025.24,1636.73 1026.98,1636.57 1028.72,1636.4 1030.46,1636.2 1032.2,1635.99 1033.94,1635.76 1035.69,1635.49 1037.43,1635.21 1039.17,1634.89 1040.91,1634.53 1042.65,1634.15 1044.39,1633.71 1046.13,1633.24 1047.87,1632.71 1049.62,1632.13 1051.36,1631.5 1053.1,1630.79 1054.84,1630.01 1056.58,1629.16 1058.32,1628.21 1060.06,1627.17 1061.81,1626.03 1063.55,1624.77 1065.29,1623.39 1067.03,1621.88 1068.77,1620.22 1070.51,1618.4 1072.25,1616.41 1074,1614.24 1075.74,1611.86 1077.48,1609.28 1079.22,1606.47 1080.96,1603.41 1082.7,1600.1 1084.44,1596.52 1086.19,1592.66 1087.93,1588.5 1089.67,1584.03 1091.41,1579.25 1093.15,1574.14 1094.89,1568.7 1096.63,1562.94 1098.37,1556.84 1100.12,1550.43 1101.86,1543.7 1103.6,1536.67 1105.34,1529.37 1107.08,1521.8 1108.82,1514.01 1110.56,1506.03 1112.31,1497.88 1114.05,1489.61 1115.79,1481.26 1117.53,1472.87 1119.27,1464.49 1121.01,1456.16 1122.75,1447.91 1124.5,1439.81 1126.24,1431.87 1127.98,1424.14 1129.72,1416.64 1131.46,1409.41 1133.2,1402.46 1134.94,1395.81 1136.68,1389.48 1138.43,1383.47 1140.17,1377.8 1141.91,1372.45 1143.65,1367.43 1145.39,1362.73 1147.13,1358.34 1148.87,1354.27 1150.62,1350.48 1152.36,1346.97 1154.1,1343.73 1155.84,1340.74 1157.58,1337.99 1159.32,1335.47 1161.06,1333.15 1162.81,1331.03 1164.55,1329.08 1166.29,1327.31 1168.03,1325.69 1169.77,1324.21 1171.51,1322.86 1173.25,1321.64 1174.99,1320.52 1176.74,1319.51 1178.48,1318.59 1180.22,1317.76 1181.96,1317 1183.7,1316.31 1185.44,1315.69 1187.18,1315.12 1188.93,1314.61 1190.67,1314.15 1192.41,1313.73 1194.15,1313.35 1195.89,1313.01 1197.63,1312.7 1199.37,1312.42 1201.12,1312.16 1202.86,1311.93 1204.6,1311.73 1206.34,1311.54 1208.08,1311.37 1209.82,1311.22 1211.56,1311.08 1213.31,1310.95 1215.05,1310.84 1216.79,1310.74 1218.53,1310.64 1220.27,1310.56 1222.01,1310.49 1223.75,1310.42 1225.49,1310.36 1227.24,1310.3 1228.98,1310.25 1230.72,1310.2 1232.46,1310.16 1234.2,1310.13 1235.94,1310.09 1237.68,1310.06 1239.43,1310.04 1241.17,1310.01 1242.91,1309.99 1244.65,1309.97 1246.39,1309.95 1248.13,1309.94 1249.87,1309.92 1251.62,1309.91 1253.36,1309.9 1255.1,1309.88 1256.84,1309.87 1258.58,1309.87 1260.32,1309.86 1262.06,1309.85 1263.8,1309.84 1265.55,1309.84 1267.29,1309.83 1269.03,1309.83 1270.77,1309.82 1272.51,1309.82 1274.25,1309.82 1275.99,1309.81 1277.74,1309.81 1279.48,1309.81 1281.22,1309.81 1282.96,1309.8 1284.7,1309.8 1286.44,1309.8 1288.18,1309.8 1289.93,1309.8 1291.67,1309.8 1293.41,1309.79 1295.15,1309.79 1296.89,1309.79 1298.63,1309.79 1300.37,1309.79 1302.11,1309.79 1303.86,1309.79 1305.6,1309.79 1307.34,1309.79 1309.08,1309.79 1310.82,1309.79 1312.56,1309.79 1314.3,1309.79 1316.05,1309.79 1317.79,1309.79 1319.53,1309.79 1321.27,1309.79 1323.01,1309.79 1324.75,1309.79 1326.49,1309.79 1328.24,1309.79 1329.98,1309.79 1331.72,1309.79 1333.46,1309.79 1335.2,1309.78 1336.94,1309.78 1338.68,1309.78 1340.43,1309.78 1342.17,1309.78 1343.91,1309.78 1345.65,1309.78 1347.39,1309.78 1349.13,1309.78 1350.87,1309.78 1352.61,1309.78 1354.36,1309.78 1356.1,1309.78 1357.84,1309.78 1359.58,1309.78 1361.32,1309.78 1363.06,1309.78 1364.8,1309.78 1366.55,1309.78 1368.29,1309.78 1370.03,1309.78 1371.77,1309.78" fill="none" stroke="#17181c" stroke-width="1.6" stroke-linejoin="round" />
<polyline points="851.1,1637.27 1139.4,1636.33 1273.94,1635.09 1371.77,1631.98" fill="none" stroke="#17181c" stroke-width="1.8" stroke-linejoin="round" />
<line x1="1082.51" y1="1403.39" x2="1082.51" y2="1437.29" stroke="#17181c" stroke-width="1.6" />
<line x1="1076.51" y1="1403.39" x2="1088.51" y2="1403.39" stroke="#17181c" stroke-width="1.6" />
<line x1="1076.51" y1="1437.29" x2="1088.51" y2="1437.29" stroke="#17181c" stroke-width="1.6" />
<line x1="1140.36" y1="1340.57" x2="1140.36" y2="1371.98" stroke="#17181c" stroke-width="1.6" />
<line x1="1134.36" y1="1340.57" x2="1146.36" y2="1340.57" stroke="#17181c" stroke-width="1.6" />
<line x1="1134.36" y1="1371.98" x2="1146.36" y2="1371.98" stroke="#17181c" stroke-width="1.6" />
<line x1="1140.36" y1="1366.08" x2="1140.36" y2="1401.84" stroke="#17181c" stroke-width="1.6" />
<line x1="1134.36" y1="1366.08" x2="1146.36" y2="1366.08" stroke="#17181c" stroke-width="1.6" />
<line x1="1134.36" y1="1401.84" x2="1146.36" y2="1401.84" stroke="#17181c" stroke-width="1.6" />
<line x1="1198.21" y1="1319.43" x2="1198.21" y2="1341.2" stroke="#17181c" stroke-width="1.6" />
<line x1="1192.21" y1="1319.43" x2="1204.21" y2="1319.43" stroke="#17181c" stroke-width="1.6" />
<line x1="1192.21" y1="1341.2" x2="1204.21" y2="1341.2" stroke="#17181c" stroke-width="1.6" />
<line x1="1198.21" y1="1302.32" x2="1198.21" y2="1339.64" stroke="#17181c" stroke-width="1.6" />
<line x1="1192.21" y1="1302.32" x2="1204.21" y2="1302.32" stroke="#17181c" stroke-width="1.6" />
<line x1="1192.21" y1="1339.64" x2="1204.21" y2="1339.64" stroke="#17181c" stroke-width="1.6" />
<line x1="1256.07" y1="1310.1" x2="1256.07" y2="1328.76" stroke="#17181c" stroke-width="1.6" />
<line x1="1250.07" y1="1310.1" x2="1262.07" y2="1310.1" stroke="#17181c" stroke-width="1.6" />
<line x1="1250.07" y1="1328.76" x2="1262.07" y2="1328.76" stroke="#17181c" stroke-width="1.6" />
<line x1="1256.07" y1="1292.99" x2="1256.07" y2="1324.09" stroke="#17181c" stroke-width="1.6" />
<line x1="1250.07" y1="1292.99" x2="1262.07" y2="1292.99" stroke="#17181c" stroke-width="1.6" />
<line x1="1250.07" y1="1324.09" x2="1262.07" y2="1324.09" stroke="#17181c" stroke-width="1.6" />
<line x1="1313.92" y1="1275.88" x2="1313.92" y2="1314.76" stroke="#17181c" stroke-width="1.6" />
<line x1="1307.92" y1="1275.88" x2="1319.92" y2="1275.88" stroke="#17181c" stroke-width="1.6" />
<line x1="1307.92" y1="1314.76" x2="1319.92" y2="1314.76" stroke="#17181c" stroke-width="1.6" />
<line x1="1371.77" y1="1286.77" x2="1371.77" y2="1352.08" stroke="#17181c" stroke-width="1.6" />
<line x1="1365.77" y1="1286.77" x2="1377.77" y2="1286.77" stroke="#17181c" stroke-width="1.6" />
<line x1="1365.77" y1="1352.08" x2="1377.77" y2="1352.08" stroke="#17181c" stroke-width="1.6" />
<line x1="1371.77" y1="1296.1" x2="1371.77" y2="1330.31" stroke="#17181c" stroke-width="1.6" />
<line x1="1365.77" y1="1296.1" x2="1377.77" y2="1296.1" stroke="#17181c" stroke-width="1.6" />
<line x1="1365.77" y1="1330.31" x2="1377.77" y2="1330.31" stroke="#17181c" stroke-width="1.6" />
<circle cx="851.1" cy="1637.27" r="6.5" fill="#17181c"/>
<circle cx="908.95" cy="1637.27" r="6.5" fill="#17181c"/>
<circle cx="966.8" cy="1637.27" r="6.5" fill="#17181c"/>
<circle cx="1024.66" cy="1637.27" r="6.5" fill="#17181c"/>
<circle cx="1082.51" cy="1635.71" r="6.5" fill="#17181c"/>
<circle cx="1140.36" cy="1635.09" r="6.5" fill="#17181c"/>
<circle cx="1198.21" cy="1635.09" r="6.5" fill="#17181c"/>
<circle cx="1256.07" cy="1634.47" r="6.5" fill="#17181c"/>
<circle cx="1313.92" cy="1633.54" r="6.5" fill="#17181c"/>
<circle cx="1371.77" cy="1631.36" r="6.5" fill="#17181c"/>
<rect x="844.6" y="1630.77" width="13" height="13" fill="#17181c"/>
<rect x="902.45" y="1630.77" width="13" height="13" fill="#17181c"/>
<rect x="960.3" y="1630.77" width="13" height="13" fill="#17181c"/>
<rect x="1018.16" y="1615.84" width="13" height="13" fill="#17181c"/>
<rect x="1076.01" y="1415.24" width="13" height="13" fill="#17181c"/>
<rect x="1133.86" y="1350.87" width="13" height="13" fill="#17181c"/>
<rect x="1191.71" y="1321.94" width="13" height="13" fill="#17181c"/>
<rect x="1249.57" y="1313.55" width="13" height="13" fill="#17181c"/>
<rect x="1307.42" y="1316.04" width="13" height="13" fill="#17181c"/>
<rect x="1365.27" y="1312.3" width="13" height="13" fill="#17181c"/>
<circle cx="851.1" cy="1637.27" r="6.8" fill="none" stroke="#6d7878" stroke-width="3"/>
<circle cx="908.95" cy="1637.27" r="6.8" fill="none" stroke="#6d7878" stroke-width="3"/>
<circle cx="966.8" cy="1637.27" r="6.8" fill="none" stroke="#6d7878" stroke-width="3"/>
<circle cx="1024.66" cy="1637.27" r="6.8" fill="none" stroke="#6d7878" stroke-width="3"/>
<circle cx="1082.51" cy="1609.9" r="6.8" fill="none" stroke="#6d7878" stroke-width="3"/>
<circle cx="1140.36" cy="1383.49" r="6.8" fill="none" stroke="#6d7878" stroke-width="3"/>
<circle cx="1198.21" cy="1324.71" r="6.8" fill="none" stroke="#6d7878" stroke-width="3"/>
<circle cx="1256.07" cy="1306.99" r="6.8" fill="none" stroke="#6d7878" stroke-width="3"/>
<circle cx="1313.92" cy="1299.52" r="6.8" fill="none" stroke="#6d7878" stroke-width="3"/>
<circle cx="1371.77" cy="1317.87" r="6.8" fill="none" stroke="#6d7878" stroke-width="3"/>
<line x1="1123.5" y1="1518.4" x2="1159.7" y2="1518.4" stroke="#17181c" stroke-width="1.8" />
<circle cx="1141.4" cy="1518.4" r="6.75" fill="#17181c"/>
<text x="1179.5" y="1527.4" font-size="25.7" font-weight="bold" text-anchor="start" fill="#17181c">hSTING</text>
<line x1="1123.5" y1="1560.6" x2="1159.7" y2="1560.6" stroke="#17181c" stroke-width="1.8" />
<rect x="1134.65" y="1553.85" width="13.5" height="13.5" fill="#17181c"/>
<text x="1179.5" y="1569.6" font-size="25.7" font-weight="bold" text-anchor="start" fill="#17181c">mSTING</text>
<line x1="1123.5" y1="1602.8" x2="1159.7" y2="1602.8" stroke="#17181c" stroke-width="1.8" />
<circle cx="1141.4" cy="1602.8" r="6.8" fill="none" stroke="#6d7878" stroke-width="3"/>
<text x="1179.5" y="1611.8" font-size="25.7" font-weight="bold" text-anchor="start" fill="#17181c">h(1-153)/m(153-378)STING</text>
<text x="1519" y="1232" font-size="56" font-weight="bold" text-anchor="start" fill="#17181c">g</text>
<line x1="1627.32" y1="1285.3" x2="1627.32" y2="1626.94" stroke="#17181c" stroke-width="4" />
<line x1="1625.32" y1="1624.94" x2="2135.28" y2="1624.94" stroke="#17181c" stroke-width="4" />
<line x1="1613.32" y1="1340.3" x2="1627.32" y2="1340.3" stroke="#17181c" stroke-width="4" />
<line x1="1613.32" y1="1429.25" x2="1627.32" y2="1429.25" stroke="#17181c" stroke-width="4" />
<line x1="1613.32" y1="1518.2" x2="1627.32" y2="1518.2" stroke="#17181c" stroke-width="4" />
<line x1="1613.32" y1="1607.15" x2="1627.32" y2="1607.15" stroke="#17181c" stroke-width="4" />
<line x1="1618.32" y1="1295.83" x2="1627.32" y2="1295.83" stroke="#17181c" stroke-width="4" />
<line x1="1618.32" y1="1384.78" x2="1627.32" y2="1384.78" stroke="#17181c" stroke-width="4" />
<line x1="1618.32" y1="1473.73" x2="1627.32" y2="1473.73" stroke="#17181c" stroke-width="4" />
<line x1="1618.32" y1="1562.67" x2="1627.32" y2="1562.67" stroke="#17181c" stroke-width="4" />
<text x="1608.02" y="1348.9" font-size="25" font-weight="bold" text-anchor="end" fill="#17181c">100</text>
<text x="1608.02" y="1437.85" font-size="25" font-weight="bold" text-anchor="end" fill="#17181c">50</text>
<text x="1608.02" y="1526.8" font-size="25" font-weight="bold" text-anchor="end" fill="#17181c">0</text>
<text x="1608.02" y="1615.75" font-size="25" font-weight="bold" text-anchor="end" fill="#17181c">-50</text>
<line x1="1740.2" y1="1624.94" x2="1740.2" y2="1638.94" stroke="#17181c" stroke-width="4" />
<text x="1740.2" y="1666.8" font-size="25" font-weight="bold" text-anchor="middle" fill="#17181c">-1</text>
<line x1="1881.3" y1="1624.94" x2="1881.3" y2="1638.94" stroke="#17181c" stroke-width="4" />
<text x="1881.3" y="1666.8" font-size="25" font-weight="bold" text-anchor="middle" fill="#17181c">0</text>
<line x1="2022.4" y1="1624.94" x2="2022.4" y2="1638.94" stroke="#17181c" stroke-width="4" />
<text x="2022.4" y="1666.8" font-size="25" font-weight="bold" text-anchor="middle" fill="#17181c">1</text>
<text x="1884.6" y="1711.3" font-size="28.4" font-weight="bold" text-anchor="middle" fill="#17181c">Log (<tspan font-family="'Liberation Serif', 'Times New Roman', serif" font-weight="normal">&#956;</tspan>M)</text>
<text x="1558" y="1453" font-size="28.4" font-weight="bold" text-anchor="middle" fill="#17181c" transform="rotate(-90 1558 1453)">% Max Activity</text>
<polyline points="1627.32,1519.38 1629.8,1519.37 1632.28,1519.37 1634.76,1519.36 1637.25,1519.36 1639.73,1519.35 1642.21,1519.34 1644.69,1519.34 1647.17,1519.33 1649.65,1519.32 1652.14,1519.32 1654.62,1519.31 1657.1,1519.3 1659.58,1519.29 1662.06,1519.28 1664.54,1519.27 1667.03,1519.26 1669.51,1519.25 1671.99,1519.24 1674.47,1519.23 1676.95,1519.22 1679.43,1519.21 1681.92,1519.19 1684.4,1519.18 1686.88,1519.17 1689.36,1519.15 1691.84,1519.14 1694.32,1519.12 1696.81,1519.11 1699.29,1519.09 1701.77,1519.07 1704.25,1519.05 1706.73,1519.04 1709.21,1519.02 1711.7,1519 1714.18,1518.97 1716.66,1518.95 1719.14,1518.93 1721.62,1518.91 1724.1,1518.88 1726.59,1518.86 1729.07,1518.83 1731.55,1518.8 1734.03,1518.77 1736.51,1518.74 1738.99,1518.71 1741.48,1518.68 1743.96,1518.64 1746.44,1518.61 1748.92,1518.57 1751.4,1518.53 1753.88,1518.49 1756.37,1518.45 1758.85,1518.41 1761.33,1518.36 1763.81,1518.31 1766.29,1518.26 1768.77,1518.21 1771.26,1518.16 1773.74,1518.1 1776.22,1518.05 1778.7,1517.99 1781.18,1517.92 1783.66,1517.86 1786.15,1517.79 1788.63,1517.72 1791.11,1517.65 1793.59,1517.57 1796.07,1517.49 1798.55,1517.41 1801.04,1517.32 1803.52,1517.23 1806,1517.14 1808.48,1517.04 1810.96,1516.94 1813.44,1516.84 1815.93,1516.73 1818.41,1516.62 1820.89,1516.5 1823.37,1516.38 1825.85,1516.25 1828.33,1516.12 1830.82,1515.98 1833.3,1515.83 1835.78,1515.68 1838.26,1515.53 1840.74,1515.37 1843.22,1515.2 1845.71,1515.02 1848.19,1514.84 1850.67,1514.65 1853.15,1514.46 1855.63,1514.25 1858.11,1514.04 1860.6,1513.82 1863.08,1513.59 1865.56,1513.35 1868.04,1513.1 1870.52,1512.84 1873,1512.57 1875.49,1512.29 1877.97,1512 1880.45,1511.7 1882.93,1511.39 1885.41,1511.06 1887.89,1510.72 1890.38,1510.37 1892.86,1510 1895.34,1509.62 1897.82,1509.23 1900.3,1508.82 1902.78,1508.39 1905.27,1507.95 1907.75,1507.49 1910.23,1507.02 1912.71,1506.52 1915.19,1506.01 1917.67,1505.48 1920.16,1504.93 1922.64,1504.35 1925.12,1503.76 1927.6,1503.14 1930.08,1502.5 1932.56,1501.84 1935.05,1501.15 1937.53,1500.43 1940.01,1499.7 1942.49,1498.93 1944.97,1498.14 1947.45,1497.31 1949.94,1496.46 1952.42,1495.58 1954.9,1494.67 1957.38,1493.72 1959.86,1492.74 1962.34,1491.73 1964.83,1490.68 1967.31,1489.6 1969.79,1488.48 1972.27,1487.32 1974.75,1486.13 1977.23,1484.89 1979.72,1483.62 1982.2,1482.3 1984.68,1480.94 1987.16,1479.54 1989.64,1478.09 1992.12,1476.6 1994.61,1475.06 1997.09,1473.48 1999.57,1471.85 2002.05,1470.17 2004.53,1468.44 2007.01,1466.66 2009.5,1464.83 2011.98,1462.95 2014.46,1461.02 2016.94,1459.03 2019.42,1457 2021.9,1454.91 2024.39,1452.76 2026.87,1450.57 2029.35,1448.32 2031.83,1446.01 2034.31,1443.65 2036.79,1441.24 2039.28,1438.77 2041.76,1436.25 2044.24,1433.68 2046.72,1431.06 2049.2,1428.38 2051.68,1425.65 2054.17,1422.87 2056.65,1420.04 2059.13,1417.16 2061.61,1414.23 2064.09,1411.26 2066.57,1408.24 2069.06,1405.18 2071.54,1402.08 2074.02,1398.94 2076.5,1395.75 2078.98,1392.53 2081.46,1389.28 2083.95,1386 2086.43,1382.68 2088.91,1379.34 2091.39,1375.97 2093.87,1372.58 2096.35,1369.16 2098.84,1365.73 2101.32,1362.29 2103.8,1358.83 2106.28,1355.36 2108.76,1351.88 2111.24,1348.41 2113.73,1344.92 2116.21,1341.45 2118.69,1337.97 2121.17,1334.5" fill="none" stroke="#17181c" stroke-width="1.6" stroke-linejoin="round" />
<polyline points="1627.32,1520.81 1629.8,1520.81 1632.28,1520.81 1634.76,1520.8 1637.25,1520.8 1639.73,1520.8 1642.21,1520.8 1644.69,1520.8 1647.17,1520.8 1649.65,1520.79 1652.14,1520.79 1654.62,1520.79 1657.1,1520.79 1659.58,1520.78 1662.06,1520.78 1664.54,1520.78 1667.03,1520.78 1669.51,1520.77 1671.99,1520.77 1674.47,1520.77 1676.95,1520.76 1679.43,1520.76 1681.92,1520.76 1684.4,1520.75 1686.88,1520.75 1689.36,1520.74 1691.84,1520.74 1694.32,1520.73 1696.81,1520.73 1699.29,1520.72 1701.77,1520.72 1704.25,1520.71 1706.73,1520.71 1709.21,1520.7 1711.7,1520.69 1714.18,1520.69 1716.66,1520.68 1719.14,1520.67 1721.62,1520.66 1724.1,1520.66 1726.59,1520.65 1729.07,1520.64 1731.55,1520.63 1734.03,1520.62 1736.51,1520.61 1738.99,1520.6 1741.48,1520.58 1743.96,1520.57 1746.44,1520.56 1748.92,1520.55 1751.4,1520.53 1753.88,1520.52 1756.37,1520.5 1758.85,1520.49 1761.33,1520.47 1763.81,1520.45 1766.29,1520.43 1768.77,1520.41 1771.26,1520.39 1773.74,1520.37 1776.22,1520.35 1778.7,1520.33 1781.18,1520.3 1783.66,1520.27 1786.15,1520.25 1788.63,1520.22 1791.11,1520.19 1793.59,1520.16 1796.07,1520.13 1798.55,1520.09 1801.04,1520.06 1803.52,1520.02 1806,1519.98 1808.48,1519.94 1810.96,1519.9 1813.44,1519.85 1815.93,1519.8 1818.41,1519.75 1820.89,1519.7 1823.37,1519.65 1825.85,1519.59 1828.33,1519.53 1830.82,1519.47 1833.3,1519.4 1835.78,1519.33 1838.26,1519.26 1840.74,1519.19 1843.22,1519.11 1845.71,1519.02 1848.19,1518.94 1850.67,1518.85 1853.15,1518.75 1855.63,1518.65 1858.11,1518.55 1860.6,1518.44 1863.08,1518.32 1865.56,1518.2 1868.04,1518.08 1870.52,1517.95 1873,1517.81 1875.49,1517.66 1877.97,1517.51 1880.45,1517.36 1882.93,1517.19 1885.41,1517.02 1887.89,1516.83 1890.38,1516.64 1892.86,1516.45 1895.34,1516.24 1897.82,1516.02 1900.3,1515.79 1902.78,1515.55 1905.27,1515.3 1907.75,1515.04 1910.23,1514.76 1912.71,1514.48 1915.19,1514.18 1917.67,1513.86 1920.16,1513.53 1922.64,1513.19 1925.12,1512.83 1927.6,1512.45 1930.08,1512.06 1932.56,1511.65 1935.05,1511.22 1937.53,1510.77 1940.01,1510.3 1942.49,1509.81 1944.97,1509.29 1947.45,1508.75 1949.94,1508.19 1952.42,1507.61 1954.9,1506.99 1957.38,1506.35 1959.86,1505.68 1962.34,1504.99 1964.83,1504.26 1967.31,1503.5 1969.79,1502.7 1972.27,1501.87 1974.75,1501.01 1977.23,1500.11 1979.72,1499.17 1982.2,1498.18 1984.68,1497.16 1987.16,1496.1 1989.64,1494.99 1992.12,1493.83 1994.61,1492.63 1997.09,1491.37 1999.57,1490.07 2002.05,1488.71 2004.53,1487.3 2007.01,1485.83 2009.5,1484.31 2011.98,1482.72 2014.46,1481.08 2016.94,1479.37 2019.42,1477.6 2021.9,1475.76 2024.39,1473.85 2026.87,1471.88 2029.35,1469.83 2031.83,1467.71 2034.31,1465.52 2036.79,1463.25 2039.28,1460.91 2041.76,1458.49 2044.24,1455.99 2046.72,1453.4 2049.2,1450.74 2051.68,1448 2054.17,1445.17 2056.65,1442.27 2059.13,1439.27 2061.61,1436.2 2064.09,1433.04 2066.57,1429.8 2069.06,1426.47 2071.54,1423.07 2074.02,1419.58 2076.5,1416.01 2078.98,1412.36 2081.46,1408.64 2083.95,1404.84 2086.43,1400.96 2088.91,1397.02 2091.39,1393 2093.87,1388.92 2096.35,1384.77 2098.84,1380.56 2101.32,1376.3 2103.8,1371.98 2106.28,1367.61 2108.76,1363.2 2111.24,1358.74 2113.73,1354.25 2116.21,1349.73 2118.69,1345.17 2121.17,1340.6" fill="none" stroke="#17181c" stroke-width="1.6" stroke-linejoin="round" />
<polyline points="1627.32,1527.87 1629.8,1527.87 1632.28,1527.87 1634.76,1527.87 1637.25,1527.87 1639.73,1527.87 1642.21,1527.87 1644.69,1527.87 1647.17,1527.87 1649.65,1527.87 1652.14,1527.87 1654.62,1527.87 1657.1,1527.87 1659.58,1527.87 1662.06,1527.87 1664.54,1527.87 1667.03,1527.87 1669.51,1527.87 1671.99,1527.87 1674.47,1527.87 1676.95,1527.87 1679.43,1527.87 1681.92,1527.87 1684.4,1527.87 1686.88,1527.87 1689.36,1527.87 1691.84,1527.87 1694.32,1527.87 1696.81,1527.87 1699.29,1527.87 1701.77,1527.87 1704.25,1527.87 1706.73,1527.87 1709.21,1527.87 1711.7,1527.87 1714.18,1527.87 1716.66,1527.87 1719.14,1527.87 1721.62,1527.87 1724.1,1527.87 1726.59,1527.87 1729.07,1527.87 1731.55,1527.87 1734.03,1527.87 1736.51,1527.87 1738.99,1527.87 1741.48,1527.87 1743.96,1527.87 1746.44,1527.87 1748.92,1527.87 1751.4,1527.87 1753.88,1527.87 1756.37,1527.87 1758.85,1527.87 1761.33,1527.87 1763.81,1527.87 1766.29,1527.87 1768.77,1527.87 1771.26,1527.87 1773.74,1527.87 1776.22,1527.87 1778.7,1527.87 1781.18,1527.87 1783.66,1527.88 1786.15,1527.88 1788.63,1527.88 1791.11,1527.88 1793.59,1527.88 1796.07,1527.88 1798.55,1527.88 1801.04,1527.88 1803.52,1527.88 1806,1527.88 1808.48,1527.88 1810.96,1527.88 1813.44,1527.89 1815.93,1527.89 1818.41,1527.89 1820.89,1527.89 1823.37,1527.89 1825.85,1527.89 1828.33,1527.9 1830.82,1527.9 1833.3,1527.9 1835.78,1527.9 1838.26,1527.91 1840.74,1527.91 1843.22,1527.91 1845.71,1527.92 1848.19,1527.92 1850.67,1527.93 1853.15,1527.93 1855.63,1527.94 1858.11,1527.94 1860.6,1527.95 1863.08,1527.96 1865.56,1527.96 1868.04,1527.97 1870.52,1527.98 1873,1527.99 1875.49,1528 1877.97,1528.01 1880.45,1528.02 1882.93,1528.04 1885.41,1528.05 1887.89,1528.06 1890.38,1528.08 1892.86,1528.1 1895.34,1528.12 1897.82,1528.14 1900.3,1528.16 1902.78,1528.19 1905.27,1528.21 1907.75,1528.24 1910.23,1528.27 1912.71,1528.31 1915.19,1528.34 1917.67,1528.38 1920.16,1528.43 1922.64,1528.47 1925.12,1528.52 1927.6,1528.58 1930.08,1528.64 1932.56,1528.7 1935.05,1528.77 1937.53,1528.84 1940.01,1528.92 1942.49,1529.01 1944.97,1529.11 1947.45,1529.21 1949.94,1529.32 1952.42,1529.44 1954.9,1529.56 1957.38,1529.7 1959.86,1529.85 1962.34,1530.01 1964.83,1530.18 1967.31,1530.37 1969.79,1530.57 1972.27,1530.79 1974.75,1531.02 1977.23,1531.27 1979.72,1531.53 1982.2,1531.82 1984.68,1532.13 1987.16,1532.45 1989.64,1532.8 1992.12,1533.18 1994.61,1533.58 1997.09,1534 1999.57,1534.46 2002.05,1534.94 2004.53,1535.45 2007.01,1535.99 2009.5,1536.57 2011.98,1537.17 2014.46,1537.81 2016.94,1538.48 2019.42,1539.19 2021.9,1539.93 2024.39,1540.7 2026.87,1541.5 2029.35,1542.34 2031.83,1543.21 2034.31,1544.11 2036.79,1545.04 2039.28,1545.99 2041.76,1546.97 2044.24,1547.97 2046.72,1549 2049.2,1550.04 2051.68,1551.09 2054.17,1552.15 2056.65,1553.23 2059.13,1554.3 2061.61,1555.38 2064.09,1556.45 2066.57,1557.52 2069.06,1558.58 2071.54,1559.62 2074.02,1560.65 2076.5,1561.66 2078.98,1562.65 2081.46,1563.61 2083.95,1564.55 2086.43,1565.45 2088.91,1566.33 2091.39,1567.18 2093.87,1568 2096.35,1568.78 2098.84,1569.53 2101.32,1570.24 2103.8,1570.92 2106.28,1571.57 2108.76,1572.19 2111.24,1572.77 2113.73,1573.32 2116.21,1573.84 2118.69,1574.33 2121.17,1574.8" fill="none" stroke="#17181c" stroke-width="1.6" stroke-linejoin="round" />
<polyline points="1627.32,1525.22 1629.8,1525.23 1632.28,1525.23 1634.76,1525.24 1637.25,1525.24 1639.73,1525.25 1642.21,1525.25 1644.69,1525.26 1647.17,1525.26 1649.65,1525.27 1652.14,1525.27 1654.62,1525.28 1657.1,1525.29 1659.58,1525.3 1662.06,1525.3 1664.54,1525.31 1667.03,1525.32 1669.51,1525.33 1671.99,1525.33 1674.47,1525.34 1676.95,1525.35 1679.43,1525.36 1681.92,1525.37 1684.4,1525.38 1686.88,1525.39 1689.36,1525.4 1691.84,1525.42 1694.32,1525.43 1696.81,1525.44 1699.29,1525.45 1701.77,1525.47 1704.25,1525.48 1706.73,1525.49 1709.21,1525.51 1711.7,1525.53 1714.18,1525.54 1716.66,1525.56 1719.14,1525.58 1721.62,1525.59 1724.1,1525.61 1726.59,1525.63 1729.07,1525.65 1731.55,1525.67 1734.03,1525.7 1736.51,1525.72 1738.99,1525.74 1741.48,1525.77 1743.96,1525.79 1746.44,1525.82 1748.92,1525.85 1751.4,1525.88 1753.88,1525.91 1756.37,1525.94 1758.85,1525.97 1761.33,1526 1763.81,1526.04 1766.29,1526.07 1768.77,1526.11 1771.26,1526.15 1773.74,1526.19 1776.22,1526.23 1778.7,1526.28 1781.18,1526.32 1783.66,1526.37 1786.15,1526.42 1788.63,1526.47 1791.11,1526.52 1793.59,1526.57 1796.07,1526.63 1798.55,1526.69 1801.04,1526.75 1803.52,1526.81 1806,1526.88 1808.48,1526.95 1810.96,1527.02 1813.44,1527.09 1815.93,1527.17 1818.41,1527.25 1820.89,1527.33 1823.37,1527.41 1825.85,1527.5 1828.33,1527.59 1830.82,1527.69 1833.3,1527.79 1835.78,1527.89 1838.26,1528 1840.74,1528.11 1843.22,1528.22 1845.71,1528.34 1848.19,1528.46 1850.67,1528.59 1853.15,1528.72 1855.63,1528.86 1858.11,1529 1860.6,1529.15 1863.08,1529.3 1865.56,1529.46 1868.04,1529.62 1870.52,1529.79 1873,1529.97 1875.49,1530.15 1877.97,1530.34 1880.45,1530.54 1882.93,1530.74 1885.41,1530.95 1887.89,1531.17 1890.38,1531.39 1892.86,1531.63 1895.34,1531.87 1897.82,1532.12 1900.3,1532.38 1902.78,1532.65 1905.27,1532.92 1907.75,1533.21 1910.23,1533.51 1912.71,1533.81 1915.19,1534.13 1917.67,1534.46 1920.16,1534.8 1922.64,1535.15 1925.12,1535.51 1927.6,1535.88 1930.08,1536.27 1932.56,1536.67 1935.05,1537.08 1937.53,1537.5 1940.01,1537.94 1942.49,1538.39 1944.97,1538.86 1947.45,1539.34 1949.94,1539.83 1952.42,1540.34 1954.9,1540.87 1957.38,1541.41 1959.86,1541.97 1962.34,1542.54 1964.83,1543.13 1967.31,1543.74 1969.79,1544.36 1972.27,1545 1974.75,1545.66 1977.23,1546.34 1979.72,1547.03 1982.2,1547.75 1984.68,1548.48 1987.16,1549.23 1989.64,1550 1992.12,1550.79 1994.61,1551.59 1997.09,1552.42 1999.57,1553.26 2002.05,1554.13 2004.53,1555.01 2007.01,1555.91 2009.5,1556.84 2011.98,1557.78 2014.46,1558.74 2016.94,1559.71 2019.42,1560.71 2021.9,1561.73 2024.39,1562.76 2026.87,1563.81 2029.35,1564.88 2031.83,1565.97 2034.31,1567.07 2036.79,1568.19 2039.28,1569.32 2041.76,1570.47 2044.24,1571.64 2046.72,1572.82 2049.2,1574.01 2051.68,1575.22 2054.17,1576.43 2056.65,1577.66 2059.13,1578.9 2061.61,1580.15 2064.09,1581.41 2066.57,1582.68 2069.06,1583.95 2071.54,1585.24 2074.02,1586.52 2076.5,1587.82 2078.98,1589.11 2081.46,1590.41 2083.95,1591.71 2086.43,1593.02 2088.91,1594.32 2091.39,1595.62 2093.87,1596.92 2096.35,1598.22 2098.84,1599.51 2101.32,1600.8 2103.8,1602.08 2106.28,1603.36 2108.76,1604.63 2111.24,1605.89 2113.73,1607.14 2116.21,1608.39 2118.69,1609.62 2121.17,1610.84" fill="none" stroke="#17181c" stroke-width="1.6" stroke-linejoin="round" />
<line x1="1627.32" y1="1512.86" x2="1627.32" y2="1527.1" stroke="#17181c" stroke-width="1.6" />
<line x1="1621.32" y1="1512.86" x2="1633.32" y2="1512.86" stroke="#17181c" stroke-width="1.6" />
<line x1="1621.32" y1="1527.1" x2="1633.32" y2="1527.1" stroke="#17181c" stroke-width="1.6" />
<line x1="1627.32" y1="1516.42" x2="1627.32" y2="1543.11" stroke="#17181c" stroke-width="1.6" />
<line x1="1621.32" y1="1516.42" x2="1633.32" y2="1516.42" stroke="#17181c" stroke-width="1.6" />
<line x1="1621.32" y1="1543.11" x2="1633.32" y2="1543.11" stroke="#17181c" stroke-width="1.6" />
<line x1="1768.42" y1="1502.19" x2="1768.42" y2="1521.76" stroke="#17181c" stroke-width="1.6" />
<line x1="1762.42" y1="1502.19" x2="1774.42" y2="1502.19" stroke="#17181c" stroke-width="1.6" />
<line x1="1762.42" y1="1521.76" x2="1774.42" y2="1521.76" stroke="#17181c" stroke-width="1.6" />
<line x1="1909.52" y1="1498.63" x2="1909.52" y2="1519.98" stroke="#17181c" stroke-width="1.6" />
<line x1="1903.52" y1="1498.63" x2="1915.52" y2="1498.63" stroke="#17181c" stroke-width="1.6" />
<line x1="1903.52" y1="1519.98" x2="1915.52" y2="1519.98" stroke="#17181c" stroke-width="1.6" />
<line x1="1980.07" y1="1482.62" x2="1980.07" y2="1511.08" stroke="#17181c" stroke-width="1.6" />
<line x1="1974.07" y1="1482.62" x2="1986.07" y2="1482.62" stroke="#17181c" stroke-width="1.6" />
<line x1="1974.07" y1="1511.08" x2="1986.07" y2="1511.08" stroke="#17181c" stroke-width="1.6" />
<line x1="2050.62" y1="1408.79" x2="2050.62" y2="1441.7" stroke="#17181c" stroke-width="1.6" />
<line x1="2044.62" y1="1408.79" x2="2056.62" y2="1408.79" stroke="#17181c" stroke-width="1.6" />
<line x1="2044.62" y1="1441.7" x2="2056.62" y2="1441.7" stroke="#17181c" stroke-width="1.6" />
<line x1="2050.62" y1="1438.14" x2="2050.62" y2="1463.05" stroke="#17181c" stroke-width="1.6" />
<line x1="2044.62" y1="1438.14" x2="2056.62" y2="1438.14" stroke="#17181c" stroke-width="1.6" />
<line x1="2044.62" y1="1463.05" x2="2056.62" y2="1463.05" stroke="#17181c" stroke-width="1.6" />
<line x1="2121.17" y1="1311.84" x2="2121.17" y2="1358.09" stroke="#17181c" stroke-width="1.6" />
<line x1="2115.17" y1="1311.84" x2="2127.17" y2="1311.84" stroke="#17181c" stroke-width="1.6" />
<line x1="2115.17" y1="1358.09" x2="2127.17" y2="1358.09" stroke="#17181c" stroke-width="1.6" />
<line x1="2121.17" y1="1318.95" x2="2121.17" y2="1354.53" stroke="#17181c" stroke-width="1.6" />
<line x1="2115.17" y1="1318.95" x2="2127.17" y2="1318.95" stroke="#17181c" stroke-width="1.6" />
<line x1="2115.17" y1="1354.53" x2="2127.17" y2="1354.53" stroke="#17181c" stroke-width="1.6" />
<line x1="1824.86" y1="1514.64" x2="1824.86" y2="1528.87" stroke="#17181c" stroke-width="1.6" />
<line x1="1818.86" y1="1514.64" x2="1830.86" y2="1514.64" stroke="#17181c" stroke-width="1.6" />
<line x1="1818.86" y1="1528.87" x2="1830.86" y2="1528.87" stroke="#17181c" stroke-width="1.6" />
<line x1="1923.63" y1="1527.1" x2="1923.63" y2="1546.66" stroke="#17181c" stroke-width="1.6" />
<line x1="1917.63" y1="1527.1" x2="1929.63" y2="1527.1" stroke="#17181c" stroke-width="1.6" />
<line x1="1917.63" y1="1546.66" x2="1929.63" y2="1546.66" stroke="#17181c" stroke-width="1.6" />
<rect x="1620.82" y="1514.01" width="13" height="13" fill="#17181c"/>
<rect x="1691.37" y="1518.28" width="13" height="13" fill="#17181c"/>
<rect x="1761.92" y="1504.05" width="13" height="13" fill="#17181c"/>
<rect x="1832.47" y="1508.32" width="13" height="13" fill="#17181c"/>
<rect x="1903.02" y="1502.45" width="13" height="13" fill="#17181c"/>
<rect x="1973.57" y="1476.83" width="13" height="13" fill="#17181c"/>
<rect x="2044.12" y="1420.26" width="13" height="13" fill="#17181c"/>
<rect x="2114.67" y="1328.11" width="13" height="13" fill="#17181c"/>
<circle cx="1627.32" cy="1530.3" r="6.5" fill="#17181c"/>
<circle cx="1697.87" cy="1525.32" r="6.5" fill="#17181c"/>
<circle cx="1768.42" cy="1512.86" r="6.5" fill="#17181c"/>
<circle cx="1838.97" cy="1514.64" r="6.5" fill="#17181c"/>
<circle cx="1909.52" cy="1512.86" r="6.5" fill="#17181c"/>
<circle cx="1980.07" cy="1497.39" r="6.5" fill="#17181c"/>
<circle cx="2050.62" cy="1451.49" r="6.5" fill="#17181c"/>
<circle cx="2121.17" cy="1339.59" r="6.5" fill="#17181c"/>
<rect x="1620.72" y="1516.94" width="13.2" height="13.2" fill="none" stroke="#17181c" stroke-width="3"/>
<rect x="1719.49" y="1522.81" width="13.2" height="13.2" fill="none" stroke="#17181c" stroke-width="3"/>
<rect x="1818.26" y="1527.08" width="13.2" height="13.2" fill="none" stroke="#17181c" stroke-width="3"/>
<rect x="1917.03" y="1518.72" width="13.2" height="13.2" fill="none" stroke="#17181c" stroke-width="3"/>
<rect x="2015.8" y="1533.66" width="13.2" height="13.2" fill="none" stroke="#17181c" stroke-width="3"/>
<rect x="2114.57" y="1568.17" width="13.2" height="13.2" fill="none" stroke="#17181c" stroke-width="3"/>
<circle cx="1627.32" cy="1525.32" r="6.6" fill="none" stroke="#17181c" stroke-width="3"/>
<circle cx="1726.09" cy="1527.98" r="6.6" fill="none" stroke="#17181c" stroke-width="3"/>
<circle cx="1824.86" cy="1523.71" r="6.6" fill="none" stroke="#17181c" stroke-width="3"/>
<circle cx="1923.63" cy="1536.88" r="6.6" fill="none" stroke="#17181c" stroke-width="3"/>
<circle cx="2022.4" cy="1561.61" r="6.6" fill="none" stroke="#17181c" stroke-width="3"/>
<circle cx="2121.17" cy="1610.89" r="6.6" fill="none" stroke="#17181c" stroke-width="3"/>
<line x1="1653.4" y1="1285.3" x2="1689.5" y2="1285.3" stroke="#17181c" stroke-width="1.8" />
<rect x="1664.65" y="1278.55" width="13.5" height="13.5" fill="#17181c"/>
<text x="1708.5" y="1294.3" font-size="25.7" font-weight="bold" text-anchor="start" fill="#17181c">mSTING WT cGAMP</text>
<line x1="1653.4" y1="1328" x2="1689.5" y2="1328" stroke="#17181c" stroke-width="1.8" />
<circle cx="1671.4" cy="1328" r="6.75" fill="#17181c"/>
<text x="1708.5" y="1337" font-size="25.7" font-weight="bold" text-anchor="start" fill="#17181c">mSTING C95R cGAMP</text>
<line x1="1653.4" y1="1376.7" x2="1689.5" y2="1376.7" stroke="#17181c" stroke-width="1.8" />
<rect x="1664.8" y="1370.1" width="13.2" height="13.2" fill="none" stroke="#17181c" stroke-width="3"/>
<text x="1708.5" y="1385.7" font-size="25.7" font-weight="bold" text-anchor="start" fill="#17181c">mSTING WT NVS-STG2</text>
<line x1="1653.4" y1="1421.8" x2="1689.5" y2="1421.8" stroke="#17181c" stroke-width="1.8" />
<circle cx="1671.4" cy="1421.8" r="6.6" fill="none" stroke="#17181c" stroke-width="3"/>
<text x="1708.5" y="1430.8" font-size="25.7" font-weight="bold" text-anchor="start" fill="#17181c">mSTING C95R NVS-STG2</text>
</svg>
</body></html>
